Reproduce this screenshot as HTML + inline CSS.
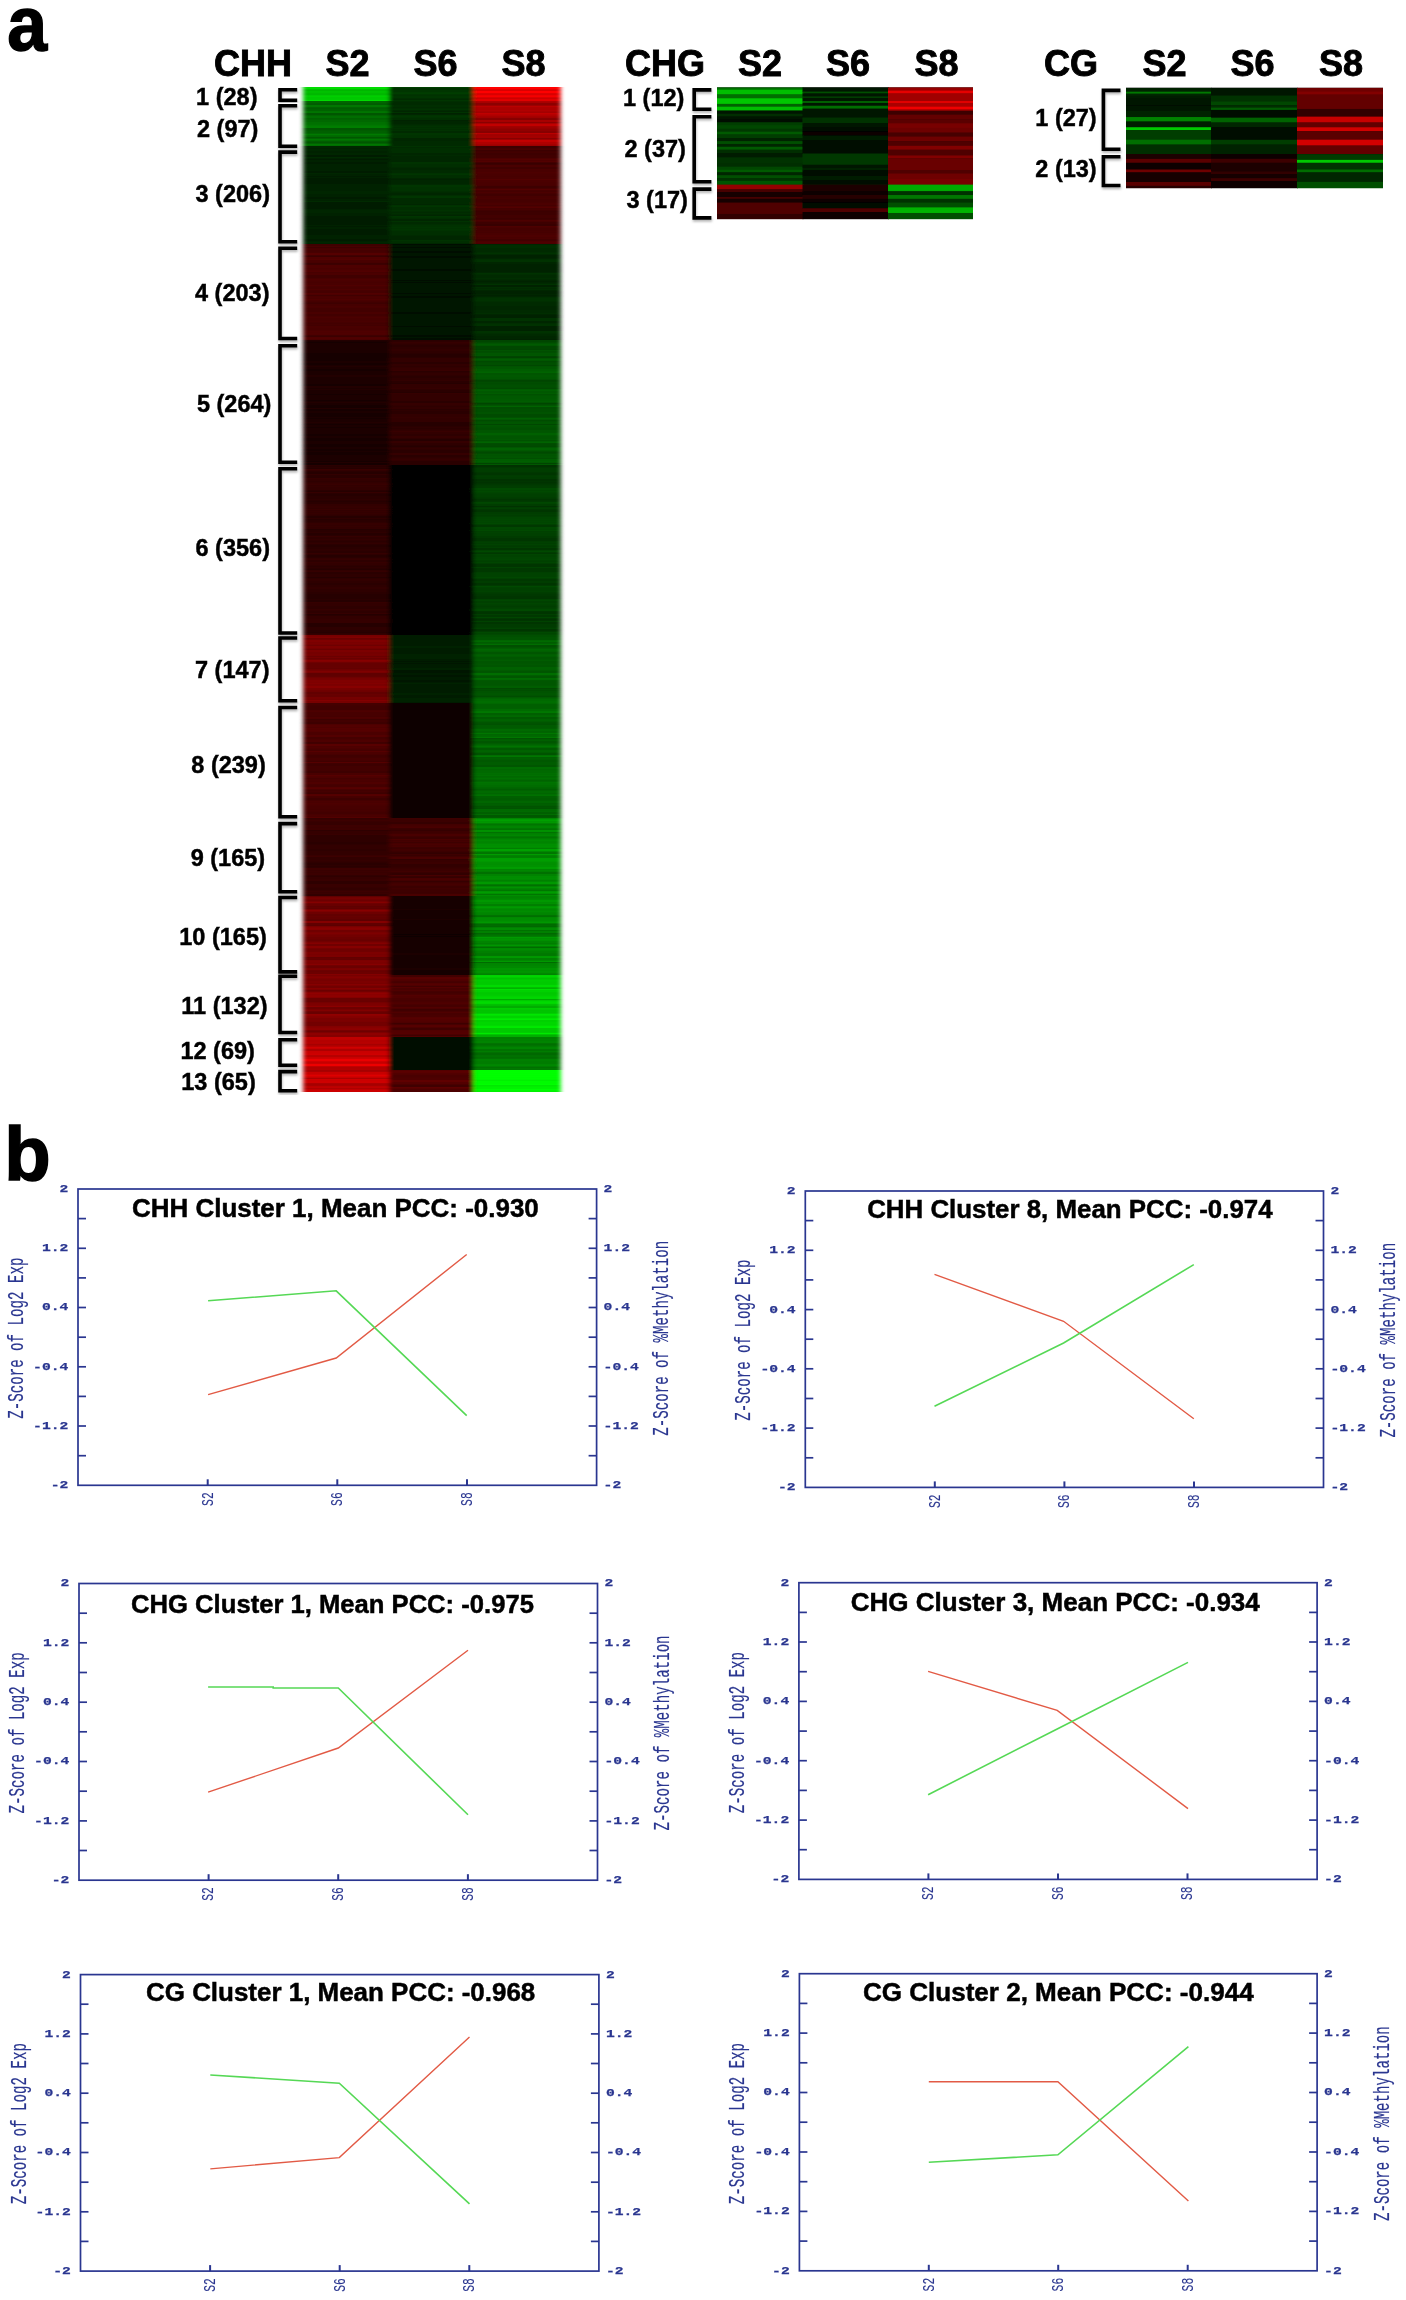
<!DOCTYPE html>
<html><head><meta charset="utf-8"><style>
html,body{margin:0;padding:0;background:#fff;}
svg{display:block;will-change:transform;}

</style></head><body>
<svg width="1406" height="2300" viewBox="0 0 1406 2300">
<defs><filter id="sh" x="-30%" y="-10%" width="160%" height="130%"><feDropShadow dx="0.5" dy="2" stdDeviation="1.3" flood-color="#000" flood-opacity="0.28"/></filter><filter id="hb2" x="-2%" y="-2%" width="104%" height="104%"><feGaussianBlur stdDeviation="0.5 0.4"/></filter><filter id="hb" x="-2%" y="-1%" width="104%" height="102%"><feGaussianBlur stdDeviation="2.0 0.45"/></filter></defs>
<rect width="1406" height="2300" fill="#fff"/>
<text transform="translate(7.3,49.6) scale(0.93,0.99)" font-family="Liberation Sans" font-weight="bold" font-size="77" stroke="#000" stroke-width="1.5">a</text>
<text x="4.2" y="1180.4" font-family="Liberation Sans" font-weight="bold" font-size="76" stroke="#000" stroke-width="1.5">b</text>
<text x="214" y="76" font-family="Liberation Sans" font-weight="bold" font-size="36" text-anchor="start" stroke="#000" stroke-width="0.9" >CHH</text>
<text x="325.5" y="76" font-family="Liberation Sans" font-weight="bold" font-size="36" text-anchor="start" stroke="#000" stroke-width="0.9" >S2</text>
<text x="413.5" y="76" font-family="Liberation Sans" font-weight="bold" font-size="36" text-anchor="start" stroke="#000" stroke-width="0.9" >S6</text>
<text x="501.5" y="76" font-family="Liberation Sans" font-weight="bold" font-size="36" text-anchor="start" stroke="#000" stroke-width="0.9" >S8</text>
<text x="625" y="76" font-family="Liberation Sans" font-weight="bold" font-size="36" text-anchor="start" stroke="#000" stroke-width="0.9" >CHG</text>
<text x="738" y="76" font-family="Liberation Sans" font-weight="bold" font-size="36" text-anchor="start" stroke="#000" stroke-width="0.9" >S2</text>
<text x="826" y="76" font-family="Liberation Sans" font-weight="bold" font-size="36" text-anchor="start" stroke="#000" stroke-width="0.9" >S6</text>
<text x="914.5" y="76" font-family="Liberation Sans" font-weight="bold" font-size="36" text-anchor="start" stroke="#000" stroke-width="0.9" >S8</text>
<text x="1044" y="76" font-family="Liberation Sans" font-weight="bold" font-size="36" text-anchor="start" stroke="#000" stroke-width="0.9" >CG</text>
<text x="1142.5" y="76" font-family="Liberation Sans" font-weight="bold" font-size="36" text-anchor="start" stroke="#000" stroke-width="0.9" >S2</text>
<text x="1230.5" y="76" font-family="Liberation Sans" font-weight="bold" font-size="36" text-anchor="start" stroke="#000" stroke-width="0.9" >S6</text>
<text x="1319" y="76" font-family="Liberation Sans" font-weight="bold" font-size="36" text-anchor="start" stroke="#000" stroke-width="0.9" >S8</text>
<g filter="url(#hb)">
<rect x="303.5" y="87" width="256.0" height="1005" fill="#000"/>
<rect x="303.5" y="87.00" width="87.00" height="14.00" fill="#00c800"/>
<rect x="303.5" y="87.00" width="87.00" height="2.46" fill="#00dd00"/>
<rect x="303.5" y="89.46" width="87.00" height="1.73" fill="#00b500"/>
<rect x="303.5" y="91.19" width="87.00" height="1.89" fill="#00c000"/>
<rect x="303.5" y="93.08" width="87.00" height="2.35" fill="#00b800"/>
<rect x="303.5" y="95.43" width="87.00" height="1.83" fill="#00cf00"/>
<rect x="303.5" y="97.26" width="87.00" height="2.56" fill="#00c800"/>
<rect x="303.5" y="99.83" width="87.00" height="1.17" fill="#00dc00"/>
<rect x="389.5" y="87.00" width="85.00" height="14.00" fill="#003700"/>
<rect x="389.5" y="87.00" width="85.00" height="1.25" fill="#003f00"/>
<rect x="389.5" y="88.25" width="85.00" height="2.32" fill="#003200"/>
<rect x="389.5" y="90.57" width="85.00" height="1.86" fill="#003600"/>
<rect x="389.5" y="92.43" width="85.00" height="2.13" fill="#003d00"/>
<rect x="389.5" y="94.56" width="85.00" height="1.18" fill="#002d00"/>
<rect x="389.5" y="95.74" width="85.00" height="2.44" fill="#003600"/>
<rect x="389.5" y="98.18" width="85.00" height="2.32" fill="#002c00"/>
<rect x="389.5" y="100.49" width="85.00" height="0.51" fill="#003c00"/>
<rect x="473.5" y="87.00" width="87.00" height="14.00" fill="#eb0000"/>
<rect x="473.5" y="87.00" width="87.00" height="2.65" fill="#ff0000"/>
<rect x="473.5" y="89.65" width="87.00" height="1.12" fill="#c40000"/>
<rect x="473.5" y="90.76" width="87.00" height="2.44" fill="#ff0000"/>
<rect x="473.5" y="93.20" width="87.00" height="2.16" fill="#d90000"/>
<rect x="473.5" y="95.36" width="87.00" height="2.05" fill="#f50000"/>
<rect x="473.5" y="97.41" width="87.00" height="2.01" fill="#cb0000"/>
<rect x="473.5" y="99.42" width="87.00" height="1.58" fill="#e10000"/>
<rect x="303.5" y="101.00" width="87.00" height="45.00" fill="#006900"/>
<rect x="303.5" y="101.00" width="87.00" height="1.99" fill="#006600"/>
<rect x="303.5" y="102.99" width="87.00" height="2.00" fill="#005d00"/>
<rect x="303.5" y="104.99" width="87.00" height="2.40" fill="#007700"/>
<rect x="303.5" y="107.40" width="87.00" height="2.13" fill="#005b00"/>
<rect x="303.5" y="109.53" width="87.00" height="1.91" fill="#006200"/>
<rect x="303.5" y="111.43" width="87.00" height="1.44" fill="#007c00"/>
<rect x="303.5" y="112.88" width="87.00" height="2.71" fill="#005600"/>
<rect x="303.5" y="115.59" width="87.00" height="2.48" fill="#006d00"/>
<rect x="303.5" y="118.07" width="87.00" height="1.67" fill="#006000"/>
<rect x="303.5" y="119.74" width="87.00" height="2.17" fill="#006700"/>
<rect x="303.5" y="121.91" width="87.00" height="2.19" fill="#007000"/>
<rect x="303.5" y="124.10" width="87.00" height="1.25" fill="#007400"/>
<rect x="303.5" y="125.34" width="87.00" height="2.69" fill="#007d00"/>
<rect x="303.5" y="128.03" width="87.00" height="2.06" fill="#005600"/>
<rect x="303.5" y="130.10" width="87.00" height="1.03" fill="#005a00"/>
<rect x="303.5" y="131.12" width="87.00" height="2.62" fill="#006100"/>
<rect x="303.5" y="133.74" width="87.00" height="1.64" fill="#007a00"/>
<rect x="303.5" y="135.38" width="87.00" height="1.55" fill="#006b00"/>
<rect x="303.5" y="136.94" width="87.00" height="1.76" fill="#005700"/>
<rect x="303.5" y="138.70" width="87.00" height="2.01" fill="#007700"/>
<rect x="303.5" y="140.71" width="87.00" height="1.29" fill="#005d00"/>
<rect x="303.5" y="142.00" width="87.00" height="1.72" fill="#005600"/>
<rect x="303.5" y="143.72" width="87.00" height="1.86" fill="#007600"/>
<rect x="303.5" y="145.59" width="87.00" height="0.41" fill="#006a00"/>
<rect x="389.5" y="101.00" width="85.00" height="45.00" fill="#002d00"/>
<rect x="389.5" y="101.00" width="85.00" height="1.79" fill="#002e00"/>
<rect x="389.5" y="102.79" width="85.00" height="2.59" fill="#002c00"/>
<rect x="389.5" y="105.38" width="85.00" height="1.88" fill="#002f00"/>
<rect x="389.5" y="107.26" width="85.00" height="1.33" fill="#002d00"/>
<rect x="389.5" y="108.60" width="85.00" height="2.09" fill="#003200"/>
<rect x="389.5" y="110.69" width="85.00" height="1.18" fill="#002900"/>
<rect x="389.5" y="111.87" width="85.00" height="1.17" fill="#003300"/>
<rect x="389.5" y="113.04" width="85.00" height="2.20" fill="#002500"/>
<rect x="389.5" y="115.24" width="85.00" height="2.69" fill="#003500"/>
<rect x="389.5" y="117.93" width="85.00" height="2.13" fill="#002f00"/>
<rect x="389.5" y="120.06" width="85.00" height="1.29" fill="#002400"/>
<rect x="389.5" y="121.35" width="85.00" height="1.92" fill="#002500"/>
<rect x="389.5" y="123.27" width="85.00" height="1.34" fill="#002800"/>
<rect x="389.5" y="124.61" width="85.00" height="1.07" fill="#002c00"/>
<rect x="389.5" y="125.68" width="85.00" height="1.77" fill="#003300"/>
<rect x="389.5" y="127.45" width="85.00" height="1.90" fill="#003000"/>
<rect x="389.5" y="129.35" width="85.00" height="1.87" fill="#003000"/>
<rect x="389.5" y="131.22" width="85.00" height="1.80" fill="#002900"/>
<rect x="389.5" y="133.02" width="85.00" height="2.72" fill="#003600"/>
<rect x="389.5" y="135.74" width="85.00" height="2.45" fill="#003100"/>
<rect x="389.5" y="138.19" width="85.00" height="1.56" fill="#002800"/>
<rect x="389.5" y="139.74" width="85.00" height="1.51" fill="#002500"/>
<rect x="389.5" y="141.25" width="85.00" height="2.32" fill="#002b00"/>
<rect x="389.5" y="143.58" width="85.00" height="2.42" fill="#002b00"/>
<rect x="473.5" y="101.00" width="87.00" height="45.00" fill="#a50000"/>
<rect x="473.5" y="101.00" width="87.00" height="1.83" fill="#af0000"/>
<rect x="473.5" y="102.83" width="87.00" height="2.15" fill="#8d0000"/>
<rect x="473.5" y="104.98" width="87.00" height="1.04" fill="#9d0000"/>
<rect x="473.5" y="106.02" width="87.00" height="1.49" fill="#b90000"/>
<rect x="473.5" y="107.50" width="87.00" height="2.19" fill="#ac0000"/>
<rect x="473.5" y="109.70" width="87.00" height="1.97" fill="#b00000"/>
<rect x="473.5" y="111.67" width="87.00" height="1.27" fill="#a10000"/>
<rect x="473.5" y="112.93" width="87.00" height="1.30" fill="#c00000"/>
<rect x="473.5" y="114.23" width="87.00" height="1.12" fill="#ba0000"/>
<rect x="473.5" y="115.35" width="87.00" height="1.15" fill="#b10000"/>
<rect x="473.5" y="116.50" width="87.00" height="1.59" fill="#9f0000"/>
<rect x="473.5" y="118.09" width="87.00" height="2.45" fill="#850000"/>
<rect x="473.5" y="120.54" width="87.00" height="1.12" fill="#c00000"/>
<rect x="473.5" y="121.66" width="87.00" height="1.89" fill="#8a0000"/>
<rect x="473.5" y="123.55" width="87.00" height="2.70" fill="#c20000"/>
<rect x="473.5" y="126.25" width="87.00" height="1.21" fill="#a00000"/>
<rect x="473.5" y="127.46" width="87.00" height="1.25" fill="#990000"/>
<rect x="473.5" y="128.71" width="87.00" height="2.08" fill="#8f0000"/>
<rect x="473.5" y="130.79" width="87.00" height="2.20" fill="#870000"/>
<rect x="473.5" y="132.99" width="87.00" height="1.31" fill="#ba0000"/>
<rect x="473.5" y="134.30" width="87.00" height="1.70" fill="#a00000"/>
<rect x="473.5" y="136.00" width="87.00" height="2.03" fill="#a30000"/>
<rect x="473.5" y="138.04" width="87.00" height="1.67" fill="#860000"/>
<rect x="473.5" y="139.71" width="87.00" height="2.25" fill="#c40000"/>
<rect x="473.5" y="141.96" width="87.00" height="2.68" fill="#b00000"/>
<rect x="473.5" y="144.64" width="87.00" height="1.36" fill="#9c0000"/>
<rect x="303.5" y="146.00" width="87.00" height="98.00" fill="#002200"/>
<rect x="303.5" y="146.00" width="87.00" height="2.56" fill="#002500"/>
<rect x="303.5" y="148.56" width="87.00" height="2.32" fill="#002800"/>
<rect x="303.5" y="150.88" width="87.00" height="1.46" fill="#002400"/>
<rect x="303.5" y="152.34" width="87.00" height="2.56" fill="#002700"/>
<rect x="303.5" y="154.90" width="87.00" height="1.99" fill="#001e00"/>
<rect x="303.5" y="156.90" width="87.00" height="1.72" fill="#002900"/>
<rect x="303.5" y="158.62" width="87.00" height="1.20" fill="#002000"/>
<rect x="303.5" y="159.81" width="87.00" height="2.64" fill="#002100"/>
<rect x="303.5" y="162.45" width="87.00" height="1.37" fill="#002000"/>
<rect x="303.5" y="163.82" width="87.00" height="2.56" fill="#002000"/>
<rect x="303.5" y="166.39" width="87.00" height="1.75" fill="#002400"/>
<rect x="303.5" y="168.13" width="87.00" height="2.39" fill="#002200"/>
<rect x="303.5" y="170.52" width="87.00" height="1.16" fill="#002300"/>
<rect x="303.5" y="171.68" width="87.00" height="1.08" fill="#001c00"/>
<rect x="303.5" y="172.76" width="87.00" height="1.34" fill="#002500"/>
<rect x="303.5" y="174.10" width="87.00" height="1.50" fill="#002500"/>
<rect x="303.5" y="175.61" width="87.00" height="1.30" fill="#001d00"/>
<rect x="303.5" y="176.90" width="87.00" height="1.06" fill="#002500"/>
<rect x="303.5" y="177.96" width="87.00" height="2.48" fill="#001e00"/>
<rect x="303.5" y="180.44" width="87.00" height="1.42" fill="#001b00"/>
<rect x="303.5" y="181.87" width="87.00" height="2.12" fill="#001f00"/>
<rect x="303.5" y="183.98" width="87.00" height="1.25" fill="#002400"/>
<rect x="303.5" y="185.24" width="87.00" height="2.04" fill="#002100"/>
<rect x="303.5" y="187.28" width="87.00" height="1.28" fill="#002400"/>
<rect x="303.5" y="188.56" width="87.00" height="1.96" fill="#002100"/>
<rect x="303.5" y="190.52" width="87.00" height="1.30" fill="#002800"/>
<rect x="303.5" y="191.82" width="87.00" height="2.49" fill="#002500"/>
<rect x="303.5" y="194.31" width="87.00" height="2.71" fill="#002300"/>
<rect x="303.5" y="197.02" width="87.00" height="1.61" fill="#001d00"/>
<rect x="303.5" y="198.63" width="87.00" height="2.05" fill="#002200"/>
<rect x="303.5" y="200.68" width="87.00" height="1.76" fill="#002900"/>
<rect x="303.5" y="202.44" width="87.00" height="2.45" fill="#001d00"/>
<rect x="303.5" y="204.89" width="87.00" height="2.52" fill="#001b00"/>
<rect x="303.5" y="207.41" width="87.00" height="2.13" fill="#001f00"/>
<rect x="303.5" y="209.54" width="87.00" height="2.26" fill="#002800"/>
<rect x="303.5" y="211.80" width="87.00" height="1.92" fill="#002600"/>
<rect x="303.5" y="213.72" width="87.00" height="1.11" fill="#002400"/>
<rect x="303.5" y="214.84" width="87.00" height="1.22" fill="#002100"/>
<rect x="303.5" y="216.05" width="87.00" height="1.59" fill="#001c00"/>
<rect x="303.5" y="217.64" width="87.00" height="2.29" fill="#001c00"/>
<rect x="303.5" y="219.93" width="87.00" height="1.46" fill="#001c00"/>
<rect x="303.5" y="221.39" width="87.00" height="2.15" fill="#001f00"/>
<rect x="303.5" y="223.54" width="87.00" height="1.10" fill="#001c00"/>
<rect x="303.5" y="224.63" width="87.00" height="1.39" fill="#002200"/>
<rect x="303.5" y="226.02" width="87.00" height="1.04" fill="#001c00"/>
<rect x="303.5" y="227.06" width="87.00" height="2.15" fill="#002200"/>
<rect x="303.5" y="229.22" width="87.00" height="1.25" fill="#001f00"/>
<rect x="303.5" y="230.47" width="87.00" height="1.23" fill="#001f00"/>
<rect x="303.5" y="231.70" width="87.00" height="1.68" fill="#001e00"/>
<rect x="303.5" y="233.38" width="87.00" height="1.36" fill="#001e00"/>
<rect x="303.5" y="234.74" width="87.00" height="1.53" fill="#002300"/>
<rect x="303.5" y="236.27" width="87.00" height="2.53" fill="#002400"/>
<rect x="303.5" y="238.80" width="87.00" height="1.78" fill="#001b00"/>
<rect x="303.5" y="240.58" width="87.00" height="1.34" fill="#002400"/>
<rect x="303.5" y="241.92" width="87.00" height="1.71" fill="#002700"/>
<rect x="303.5" y="243.63" width="87.00" height="0.37" fill="#001f00"/>
<rect x="389.5" y="146.00" width="85.00" height="98.00" fill="#002d00"/>
<rect x="389.5" y="146.00" width="85.00" height="1.30" fill="#003000"/>
<rect x="389.5" y="147.30" width="85.00" height="2.10" fill="#002d00"/>
<rect x="389.5" y="149.40" width="85.00" height="1.39" fill="#003200"/>
<rect x="389.5" y="150.79" width="85.00" height="2.39" fill="#002d00"/>
<rect x="389.5" y="153.18" width="85.00" height="1.88" fill="#002800"/>
<rect x="389.5" y="155.06" width="85.00" height="1.03" fill="#002b00"/>
<rect x="389.5" y="156.08" width="85.00" height="2.02" fill="#002500"/>
<rect x="389.5" y="158.10" width="85.00" height="2.37" fill="#002800"/>
<rect x="389.5" y="160.47" width="85.00" height="1.42" fill="#002500"/>
<rect x="389.5" y="161.88" width="85.00" height="2.72" fill="#003100"/>
<rect x="389.5" y="164.60" width="85.00" height="2.51" fill="#002f00"/>
<rect x="389.5" y="167.11" width="85.00" height="1.08" fill="#002a00"/>
<rect x="389.5" y="168.19" width="85.00" height="1.87" fill="#002600"/>
<rect x="389.5" y="170.05" width="85.00" height="2.64" fill="#002b00"/>
<rect x="389.5" y="172.69" width="85.00" height="1.28" fill="#003300"/>
<rect x="389.5" y="173.97" width="85.00" height="1.23" fill="#003500"/>
<rect x="389.5" y="175.21" width="85.00" height="1.79" fill="#002e00"/>
<rect x="389.5" y="177.00" width="85.00" height="1.60" fill="#002d00"/>
<rect x="389.5" y="178.60" width="85.00" height="1.34" fill="#002500"/>
<rect x="389.5" y="179.94" width="85.00" height="2.49" fill="#002800"/>
<rect x="389.5" y="182.43" width="85.00" height="2.35" fill="#002800"/>
<rect x="389.5" y="184.78" width="85.00" height="2.67" fill="#003400"/>
<rect x="389.5" y="187.44" width="85.00" height="2.30" fill="#003200"/>
<rect x="389.5" y="189.75" width="85.00" height="2.01" fill="#003100"/>
<rect x="389.5" y="191.75" width="85.00" height="1.23" fill="#002d00"/>
<rect x="389.5" y="192.98" width="85.00" height="2.43" fill="#002800"/>
<rect x="389.5" y="195.41" width="85.00" height="2.59" fill="#003400"/>
<rect x="389.5" y="198.00" width="85.00" height="1.72" fill="#002b00"/>
<rect x="389.5" y="199.71" width="85.00" height="1.79" fill="#002b00"/>
<rect x="389.5" y="201.50" width="85.00" height="2.71" fill="#002b00"/>
<rect x="389.5" y="204.21" width="85.00" height="1.07" fill="#002600"/>
<rect x="389.5" y="205.28" width="85.00" height="2.24" fill="#003600"/>
<rect x="389.5" y="207.52" width="85.00" height="1.86" fill="#002d00"/>
<rect x="389.5" y="209.38" width="85.00" height="1.96" fill="#003100"/>
<rect x="389.5" y="211.34" width="85.00" height="1.40" fill="#002f00"/>
<rect x="389.5" y="212.73" width="85.00" height="1.97" fill="#002f00"/>
<rect x="389.5" y="214.70" width="85.00" height="1.33" fill="#002700"/>
<rect x="389.5" y="216.03" width="85.00" height="1.61" fill="#003500"/>
<rect x="389.5" y="217.64" width="85.00" height="1.61" fill="#002f00"/>
<rect x="389.5" y="219.25" width="85.00" height="1.54" fill="#002600"/>
<rect x="389.5" y="220.79" width="85.00" height="1.13" fill="#003300"/>
<rect x="389.5" y="221.92" width="85.00" height="2.34" fill="#002b00"/>
<rect x="389.5" y="224.26" width="85.00" height="2.18" fill="#003000"/>
<rect x="389.5" y="226.44" width="85.00" height="2.55" fill="#003500"/>
<rect x="389.5" y="228.99" width="85.00" height="1.71" fill="#003600"/>
<rect x="389.5" y="230.70" width="85.00" height="2.65" fill="#002f00"/>
<rect x="389.5" y="233.36" width="85.00" height="2.52" fill="#002d00"/>
<rect x="389.5" y="235.88" width="85.00" height="1.66" fill="#002800"/>
<rect x="389.5" y="237.54" width="85.00" height="2.51" fill="#002700"/>
<rect x="389.5" y="240.05" width="85.00" height="1.14" fill="#003200"/>
<rect x="389.5" y="241.18" width="85.00" height="2.34" fill="#002d00"/>
<rect x="389.5" y="243.52" width="85.00" height="0.48" fill="#002500"/>
<rect x="473.5" y="146.00" width="87.00" height="98.00" fill="#460000"/>
<rect x="473.5" y="146.00" width="87.00" height="2.65" fill="#3c0000"/>
<rect x="473.5" y="148.65" width="87.00" height="1.06" fill="#540000"/>
<rect x="473.5" y="149.71" width="87.00" height="1.33" fill="#3b0000"/>
<rect x="473.5" y="151.04" width="87.00" height="2.13" fill="#420000"/>
<rect x="473.5" y="153.17" width="87.00" height="2.53" fill="#3e0000"/>
<rect x="473.5" y="155.70" width="87.00" height="2.65" fill="#410000"/>
<rect x="473.5" y="158.35" width="87.00" height="2.04" fill="#520000"/>
<rect x="473.5" y="160.40" width="87.00" height="2.18" fill="#520000"/>
<rect x="473.5" y="162.58" width="87.00" height="2.22" fill="#390000"/>
<rect x="473.5" y="164.80" width="87.00" height="2.52" fill="#490000"/>
<rect x="473.5" y="167.32" width="87.00" height="1.55" fill="#3d0000"/>
<rect x="473.5" y="168.87" width="87.00" height="2.46" fill="#480000"/>
<rect x="473.5" y="171.33" width="87.00" height="2.61" fill="#4e0000"/>
<rect x="473.5" y="173.95" width="87.00" height="2.65" fill="#480000"/>
<rect x="473.5" y="176.60" width="87.00" height="2.21" fill="#490000"/>
<rect x="473.5" y="178.81" width="87.00" height="1.46" fill="#530000"/>
<rect x="473.5" y="180.27" width="87.00" height="1.55" fill="#4e0000"/>
<rect x="473.5" y="181.82" width="87.00" height="2.64" fill="#4a0000"/>
<rect x="473.5" y="184.46" width="87.00" height="1.26" fill="#4f0000"/>
<rect x="473.5" y="185.73" width="87.00" height="2.15" fill="#3d0000"/>
<rect x="473.5" y="187.88" width="87.00" height="1.10" fill="#470000"/>
<rect x="473.5" y="188.98" width="87.00" height="1.07" fill="#520000"/>
<rect x="473.5" y="190.06" width="87.00" height="1.88" fill="#460000"/>
<rect x="473.5" y="191.94" width="87.00" height="1.72" fill="#4b0000"/>
<rect x="473.5" y="193.66" width="87.00" height="2.58" fill="#410000"/>
<rect x="473.5" y="196.23" width="87.00" height="1.66" fill="#480000"/>
<rect x="473.5" y="197.89" width="87.00" height="1.53" fill="#490000"/>
<rect x="473.5" y="199.41" width="87.00" height="1.94" fill="#440000"/>
<rect x="473.5" y="201.36" width="87.00" height="2.16" fill="#470000"/>
<rect x="473.5" y="203.52" width="87.00" height="1.17" fill="#540000"/>
<rect x="473.5" y="204.69" width="87.00" height="1.62" fill="#440000"/>
<rect x="473.5" y="206.32" width="87.00" height="1.70" fill="#520000"/>
<rect x="473.5" y="208.02" width="87.00" height="2.64" fill="#460000"/>
<rect x="473.5" y="210.66" width="87.00" height="1.70" fill="#3b0000"/>
<rect x="473.5" y="212.36" width="87.00" height="2.54" fill="#3d0000"/>
<rect x="473.5" y="214.90" width="87.00" height="1.95" fill="#420000"/>
<rect x="473.5" y="216.85" width="87.00" height="1.58" fill="#420000"/>
<rect x="473.5" y="218.43" width="87.00" height="1.35" fill="#390000"/>
<rect x="473.5" y="219.78" width="87.00" height="1.93" fill="#4e0000"/>
<rect x="473.5" y="221.71" width="87.00" height="2.12" fill="#3e0000"/>
<rect x="473.5" y="223.83" width="87.00" height="2.20" fill="#390000"/>
<rect x="473.5" y="226.03" width="87.00" height="1.72" fill="#4f0000"/>
<rect x="473.5" y="227.74" width="87.00" height="2.59" fill="#450000"/>
<rect x="473.5" y="230.33" width="87.00" height="2.46" fill="#460000"/>
<rect x="473.5" y="232.79" width="87.00" height="1.91" fill="#480000"/>
<rect x="473.5" y="234.70" width="87.00" height="2.71" fill="#4d0000"/>
<rect x="473.5" y="237.40" width="87.00" height="1.82" fill="#4c0000"/>
<rect x="473.5" y="239.23" width="87.00" height="2.11" fill="#420000"/>
<rect x="473.5" y="241.34" width="87.00" height="2.35" fill="#4f0000"/>
<rect x="473.5" y="243.70" width="87.00" height="0.30" fill="#520000"/>
<rect x="303.5" y="244.00" width="87.00" height="96.00" fill="#460000"/>
<rect x="303.5" y="244.00" width="87.00" height="1.94" fill="#400000"/>
<rect x="303.5" y="245.94" width="87.00" height="1.07" fill="#4a0000"/>
<rect x="303.5" y="247.01" width="87.00" height="1.38" fill="#3f0000"/>
<rect x="303.5" y="248.38" width="87.00" height="1.70" fill="#4a0000"/>
<rect x="303.5" y="250.08" width="87.00" height="2.70" fill="#450000"/>
<rect x="303.5" y="252.78" width="87.00" height="2.71" fill="#540000"/>
<rect x="303.5" y="255.49" width="87.00" height="1.43" fill="#3a0000"/>
<rect x="303.5" y="256.92" width="87.00" height="1.29" fill="#500000"/>
<rect x="303.5" y="258.21" width="87.00" height="2.04" fill="#520000"/>
<rect x="303.5" y="260.25" width="87.00" height="2.67" fill="#4a0000"/>
<rect x="303.5" y="262.93" width="87.00" height="1.93" fill="#3a0000"/>
<rect x="303.5" y="264.86" width="87.00" height="1.06" fill="#4f0000"/>
<rect x="303.5" y="265.92" width="87.00" height="2.16" fill="#4d0000"/>
<rect x="303.5" y="268.08" width="87.00" height="1.98" fill="#4b0000"/>
<rect x="303.5" y="270.06" width="87.00" height="2.11" fill="#510000"/>
<rect x="303.5" y="272.17" width="87.00" height="1.21" fill="#460000"/>
<rect x="303.5" y="273.38" width="87.00" height="1.55" fill="#4f0000"/>
<rect x="303.5" y="274.92" width="87.00" height="2.51" fill="#3f0000"/>
<rect x="303.5" y="277.43" width="87.00" height="1.16" fill="#3f0000"/>
<rect x="303.5" y="278.59" width="87.00" height="1.55" fill="#4e0000"/>
<rect x="303.5" y="280.14" width="87.00" height="1.72" fill="#4d0000"/>
<rect x="303.5" y="281.86" width="87.00" height="1.53" fill="#470000"/>
<rect x="303.5" y="283.39" width="87.00" height="1.34" fill="#4a0000"/>
<rect x="303.5" y="284.73" width="87.00" height="1.89" fill="#500000"/>
<rect x="303.5" y="286.62" width="87.00" height="2.63" fill="#470000"/>
<rect x="303.5" y="289.25" width="87.00" height="1.14" fill="#520000"/>
<rect x="303.5" y="290.39" width="87.00" height="2.63" fill="#450000"/>
<rect x="303.5" y="293.02" width="87.00" height="1.85" fill="#520000"/>
<rect x="303.5" y="294.86" width="87.00" height="1.45" fill="#3f0000"/>
<rect x="303.5" y="296.31" width="87.00" height="2.20" fill="#4b0000"/>
<rect x="303.5" y="298.51" width="87.00" height="2.19" fill="#4f0000"/>
<rect x="303.5" y="300.70" width="87.00" height="1.89" fill="#440000"/>
<rect x="303.5" y="302.59" width="87.00" height="1.40" fill="#3e0000"/>
<rect x="303.5" y="304.00" width="87.00" height="1.65" fill="#440000"/>
<rect x="303.5" y="305.64" width="87.00" height="2.28" fill="#490000"/>
<rect x="303.5" y="307.92" width="87.00" height="1.89" fill="#430000"/>
<rect x="303.5" y="309.81" width="87.00" height="2.08" fill="#430000"/>
<rect x="303.5" y="311.89" width="87.00" height="2.38" fill="#4a0000"/>
<rect x="303.5" y="314.27" width="87.00" height="2.20" fill="#420000"/>
<rect x="303.5" y="316.47" width="87.00" height="1.90" fill="#4c0000"/>
<rect x="303.5" y="318.37" width="87.00" height="2.65" fill="#470000"/>
<rect x="303.5" y="321.02" width="87.00" height="1.57" fill="#4b0000"/>
<rect x="303.5" y="322.58" width="87.00" height="1.22" fill="#410000"/>
<rect x="303.5" y="323.80" width="87.00" height="1.08" fill="#470000"/>
<rect x="303.5" y="324.88" width="87.00" height="1.45" fill="#430000"/>
<rect x="303.5" y="326.33" width="87.00" height="2.36" fill="#4a0000"/>
<rect x="303.5" y="328.69" width="87.00" height="1.08" fill="#440000"/>
<rect x="303.5" y="329.77" width="87.00" height="1.03" fill="#4f0000"/>
<rect x="303.5" y="330.80" width="87.00" height="1.86" fill="#500000"/>
<rect x="303.5" y="332.67" width="87.00" height="1.47" fill="#4f0000"/>
<rect x="303.5" y="334.14" width="87.00" height="1.26" fill="#500000"/>
<rect x="303.5" y="335.39" width="87.00" height="1.68" fill="#3a0000"/>
<rect x="303.5" y="337.08" width="87.00" height="2.58" fill="#4f0000"/>
<rect x="303.5" y="339.65" width="87.00" height="0.35" fill="#480000"/>
<rect x="389.5" y="244.00" width="85.00" height="96.00" fill="#001400"/>
<rect x="389.5" y="244.00" width="85.00" height="1.04" fill="#001100"/>
<rect x="389.5" y="245.04" width="85.00" height="1.69" fill="#001500"/>
<rect x="389.5" y="246.73" width="85.00" height="1.26" fill="#001100"/>
<rect x="389.5" y="247.98" width="85.00" height="1.41" fill="#001600"/>
<rect x="389.5" y="249.40" width="85.00" height="1.27" fill="#001600"/>
<rect x="389.5" y="250.67" width="85.00" height="2.15" fill="#001100"/>
<rect x="389.5" y="252.81" width="85.00" height="1.93" fill="#001400"/>
<rect x="389.5" y="254.75" width="85.00" height="1.72" fill="#001800"/>
<rect x="389.5" y="256.47" width="85.00" height="1.18" fill="#001000"/>
<rect x="389.5" y="257.65" width="85.00" height="2.62" fill="#001300"/>
<rect x="389.5" y="260.26" width="85.00" height="1.36" fill="#001300"/>
<rect x="389.5" y="261.62" width="85.00" height="1.64" fill="#001800"/>
<rect x="389.5" y="263.26" width="85.00" height="1.38" fill="#001200"/>
<rect x="389.5" y="264.64" width="85.00" height="2.01" fill="#001400"/>
<rect x="389.5" y="266.65" width="85.00" height="2.64" fill="#001700"/>
<rect x="389.5" y="269.29" width="85.00" height="1.62" fill="#001200"/>
<rect x="389.5" y="270.92" width="85.00" height="2.44" fill="#001800"/>
<rect x="389.5" y="273.36" width="85.00" height="1.07" fill="#001600"/>
<rect x="389.5" y="274.43" width="85.00" height="2.50" fill="#001500"/>
<rect x="389.5" y="276.93" width="85.00" height="1.39" fill="#001600"/>
<rect x="389.5" y="278.32" width="85.00" height="2.26" fill="#001200"/>
<rect x="389.5" y="280.58" width="85.00" height="2.11" fill="#001200"/>
<rect x="389.5" y="282.69" width="85.00" height="1.09" fill="#001300"/>
<rect x="389.5" y="283.78" width="85.00" height="1.59" fill="#001300"/>
<rect x="389.5" y="285.37" width="85.00" height="2.12" fill="#001700"/>
<rect x="389.5" y="287.49" width="85.00" height="2.65" fill="#001800"/>
<rect x="389.5" y="290.14" width="85.00" height="2.71" fill="#001600"/>
<rect x="389.5" y="292.85" width="85.00" height="1.54" fill="#001100"/>
<rect x="389.5" y="294.39" width="85.00" height="2.08" fill="#001400"/>
<rect x="389.5" y="296.47" width="85.00" height="2.17" fill="#001100"/>
<rect x="389.5" y="298.64" width="85.00" height="1.35" fill="#001700"/>
<rect x="389.5" y="299.99" width="85.00" height="2.04" fill="#001600"/>
<rect x="389.5" y="302.03" width="85.00" height="1.18" fill="#001300"/>
<rect x="389.5" y="303.21" width="85.00" height="2.57" fill="#001500"/>
<rect x="389.5" y="305.78" width="85.00" height="2.71" fill="#001200"/>
<rect x="389.5" y="308.48" width="85.00" height="1.79" fill="#001600"/>
<rect x="389.5" y="310.28" width="85.00" height="1.78" fill="#001600"/>
<rect x="389.5" y="312.05" width="85.00" height="1.97" fill="#001100"/>
<rect x="389.5" y="314.03" width="85.00" height="1.19" fill="#001800"/>
<rect x="389.5" y="315.22" width="85.00" height="1.22" fill="#001200"/>
<rect x="389.5" y="316.44" width="85.00" height="1.59" fill="#001600"/>
<rect x="389.5" y="318.03" width="85.00" height="2.47" fill="#001400"/>
<rect x="389.5" y="320.50" width="85.00" height="1.87" fill="#001600"/>
<rect x="389.5" y="322.37" width="85.00" height="1.49" fill="#001300"/>
<rect x="389.5" y="323.86" width="85.00" height="2.06" fill="#001500"/>
<rect x="389.5" y="325.92" width="85.00" height="1.08" fill="#001100"/>
<rect x="389.5" y="327.01" width="85.00" height="1.25" fill="#001600"/>
<rect x="389.5" y="328.26" width="85.00" height="2.20" fill="#001800"/>
<rect x="389.5" y="330.46" width="85.00" height="2.32" fill="#001200"/>
<rect x="389.5" y="332.78" width="85.00" height="2.32" fill="#001800"/>
<rect x="389.5" y="335.11" width="85.00" height="1.61" fill="#001000"/>
<rect x="389.5" y="336.72" width="85.00" height="1.66" fill="#001200"/>
<rect x="389.5" y="338.38" width="85.00" height="1.32" fill="#001000"/>
<rect x="389.5" y="339.70" width="85.00" height="0.30" fill="#001700"/>
<rect x="473.5" y="244.00" width="87.00" height="96.00" fill="#002a00"/>
<rect x="473.5" y="244.00" width="87.00" height="1.15" fill="#002500"/>
<rect x="473.5" y="245.15" width="87.00" height="1.54" fill="#003100"/>
<rect x="473.5" y="246.69" width="87.00" height="1.86" fill="#002e00"/>
<rect x="473.5" y="248.55" width="87.00" height="1.19" fill="#002a00"/>
<rect x="473.5" y="249.74" width="87.00" height="2.45" fill="#002a00"/>
<rect x="473.5" y="252.19" width="87.00" height="2.63" fill="#003000"/>
<rect x="473.5" y="254.82" width="87.00" height="1.65" fill="#002200"/>
<rect x="473.5" y="256.47" width="87.00" height="2.30" fill="#002400"/>
<rect x="473.5" y="258.77" width="87.00" height="1.04" fill="#002e00"/>
<rect x="473.5" y="259.81" width="87.00" height="2.45" fill="#003000"/>
<rect x="473.5" y="262.26" width="87.00" height="2.64" fill="#002500"/>
<rect x="473.5" y="264.90" width="87.00" height="1.16" fill="#002400"/>
<rect x="473.5" y="266.06" width="87.00" height="2.68" fill="#002300"/>
<rect x="473.5" y="268.75" width="87.00" height="1.29" fill="#002200"/>
<rect x="473.5" y="270.04" width="87.00" height="1.10" fill="#002200"/>
<rect x="473.5" y="271.14" width="87.00" height="1.62" fill="#002400"/>
<rect x="473.5" y="272.76" width="87.00" height="1.55" fill="#003100"/>
<rect x="473.5" y="274.31" width="87.00" height="1.30" fill="#002f00"/>
<rect x="473.5" y="275.61" width="87.00" height="2.28" fill="#002b00"/>
<rect x="473.5" y="277.89" width="87.00" height="2.00" fill="#002f00"/>
<rect x="473.5" y="279.89" width="87.00" height="2.02" fill="#002500"/>
<rect x="473.5" y="281.90" width="87.00" height="1.58" fill="#002600"/>
<rect x="473.5" y="283.48" width="87.00" height="1.70" fill="#003200"/>
<rect x="473.5" y="285.18" width="87.00" height="1.75" fill="#002300"/>
<rect x="473.5" y="286.93" width="87.00" height="1.83" fill="#002f00"/>
<rect x="473.5" y="288.76" width="87.00" height="1.78" fill="#002d00"/>
<rect x="473.5" y="290.54" width="87.00" height="1.17" fill="#002300"/>
<rect x="473.5" y="291.71" width="87.00" height="2.14" fill="#002200"/>
<rect x="473.5" y="293.86" width="87.00" height="1.53" fill="#002800"/>
<rect x="473.5" y="295.39" width="87.00" height="1.35" fill="#002200"/>
<rect x="473.5" y="296.74" width="87.00" height="1.03" fill="#003200"/>
<rect x="473.5" y="297.77" width="87.00" height="2.19" fill="#003200"/>
<rect x="473.5" y="299.96" width="87.00" height="1.86" fill="#003200"/>
<rect x="473.5" y="301.82" width="87.00" height="2.49" fill="#002c00"/>
<rect x="473.5" y="304.30" width="87.00" height="1.91" fill="#002a00"/>
<rect x="473.5" y="306.22" width="87.00" height="1.40" fill="#002800"/>
<rect x="473.5" y="307.62" width="87.00" height="2.25" fill="#002500"/>
<rect x="473.5" y="309.87" width="87.00" height="2.46" fill="#002a00"/>
<rect x="473.5" y="312.33" width="87.00" height="2.05" fill="#002f00"/>
<rect x="473.5" y="314.38" width="87.00" height="2.12" fill="#002400"/>
<rect x="473.5" y="316.50" width="87.00" height="1.44" fill="#002200"/>
<rect x="473.5" y="317.94" width="87.00" height="1.07" fill="#003200"/>
<rect x="473.5" y="319.01" width="87.00" height="2.03" fill="#003200"/>
<rect x="473.5" y="321.04" width="87.00" height="2.35" fill="#002700"/>
<rect x="473.5" y="323.38" width="87.00" height="2.66" fill="#003100"/>
<rect x="473.5" y="326.05" width="87.00" height="1.80" fill="#002300"/>
<rect x="473.5" y="327.84" width="87.00" height="1.56" fill="#002400"/>
<rect x="473.5" y="329.40" width="87.00" height="1.64" fill="#002300"/>
<rect x="473.5" y="331.05" width="87.00" height="2.23" fill="#003200"/>
<rect x="473.5" y="333.28" width="87.00" height="1.38" fill="#002f00"/>
<rect x="473.5" y="334.66" width="87.00" height="2.01" fill="#002a00"/>
<rect x="473.5" y="336.67" width="87.00" height="2.56" fill="#002800"/>
<rect x="473.5" y="339.23" width="87.00" height="0.77" fill="#002200"/>
<rect x="303.5" y="340.00" width="87.00" height="125.00" fill="#1c0000"/>
<rect x="303.5" y="340.00" width="87.00" height="1.80" fill="#200000"/>
<rect x="303.5" y="341.80" width="87.00" height="1.07" fill="#1a0000"/>
<rect x="303.5" y="342.87" width="87.00" height="2.66" fill="#1e0000"/>
<rect x="303.5" y="345.53" width="87.00" height="1.24" fill="#1a0000"/>
<rect x="303.5" y="346.77" width="87.00" height="2.52" fill="#1b0000"/>
<rect x="303.5" y="349.28" width="87.00" height="1.07" fill="#200000"/>
<rect x="303.5" y="350.35" width="87.00" height="1.24" fill="#1e0000"/>
<rect x="303.5" y="351.59" width="87.00" height="2.07" fill="#1c0000"/>
<rect x="303.5" y="353.67" width="87.00" height="2.66" fill="#180000"/>
<rect x="303.5" y="356.32" width="87.00" height="2.05" fill="#180000"/>
<rect x="303.5" y="358.37" width="87.00" height="2.66" fill="#180000"/>
<rect x="303.5" y="361.03" width="87.00" height="1.89" fill="#200000"/>
<rect x="303.5" y="362.92" width="87.00" height="2.52" fill="#170000"/>
<rect x="303.5" y="365.44" width="87.00" height="2.51" fill="#200000"/>
<rect x="303.5" y="367.96" width="87.00" height="1.56" fill="#1f0000"/>
<rect x="303.5" y="369.51" width="87.00" height="1.41" fill="#180000"/>
<rect x="303.5" y="370.92" width="87.00" height="1.30" fill="#1a0000"/>
<rect x="303.5" y="372.21" width="87.00" height="2.42" fill="#1c0000"/>
<rect x="303.5" y="374.64" width="87.00" height="2.70" fill="#200000"/>
<rect x="303.5" y="377.34" width="87.00" height="1.38" fill="#1b0000"/>
<rect x="303.5" y="378.72" width="87.00" height="1.13" fill="#1d0000"/>
<rect x="303.5" y="379.85" width="87.00" height="2.06" fill="#1d0000"/>
<rect x="303.5" y="381.90" width="87.00" height="1.17" fill="#1d0000"/>
<rect x="303.5" y="383.07" width="87.00" height="1.21" fill="#200000"/>
<rect x="303.5" y="384.29" width="87.00" height="1.80" fill="#180000"/>
<rect x="303.5" y="386.09" width="87.00" height="2.68" fill="#210000"/>
<rect x="303.5" y="388.77" width="87.00" height="1.58" fill="#210000"/>
<rect x="303.5" y="390.36" width="87.00" height="1.50" fill="#1c0000"/>
<rect x="303.5" y="391.86" width="87.00" height="1.99" fill="#1f0000"/>
<rect x="303.5" y="393.86" width="87.00" height="1.14" fill="#170000"/>
<rect x="303.5" y="394.99" width="87.00" height="1.27" fill="#1b0000"/>
<rect x="303.5" y="396.27" width="87.00" height="2.37" fill="#1f0000"/>
<rect x="303.5" y="398.64" width="87.00" height="1.20" fill="#1f0000"/>
<rect x="303.5" y="399.84" width="87.00" height="1.34" fill="#170000"/>
<rect x="303.5" y="401.19" width="87.00" height="1.83" fill="#210000"/>
<rect x="303.5" y="403.02" width="87.00" height="2.56" fill="#1b0000"/>
<rect x="303.5" y="405.58" width="87.00" height="2.38" fill="#190000"/>
<rect x="303.5" y="407.96" width="87.00" height="1.29" fill="#210000"/>
<rect x="303.5" y="409.25" width="87.00" height="2.16" fill="#180000"/>
<rect x="303.5" y="411.41" width="87.00" height="1.59" fill="#1f0000"/>
<rect x="303.5" y="413.00" width="87.00" height="1.12" fill="#180000"/>
<rect x="303.5" y="414.12" width="87.00" height="2.39" fill="#190000"/>
<rect x="303.5" y="416.51" width="87.00" height="1.73" fill="#1b0000"/>
<rect x="303.5" y="418.24" width="87.00" height="1.83" fill="#1a0000"/>
<rect x="303.5" y="420.07" width="87.00" height="1.44" fill="#1f0000"/>
<rect x="303.5" y="421.51" width="87.00" height="2.31" fill="#210000"/>
<rect x="303.5" y="423.82" width="87.00" height="1.09" fill="#180000"/>
<rect x="303.5" y="424.91" width="87.00" height="2.47" fill="#1a0000"/>
<rect x="303.5" y="427.38" width="87.00" height="2.37" fill="#1a0000"/>
<rect x="303.5" y="429.75" width="87.00" height="1.69" fill="#1e0000"/>
<rect x="303.5" y="431.44" width="87.00" height="1.74" fill="#1c0000"/>
<rect x="303.5" y="433.19" width="87.00" height="1.08" fill="#200000"/>
<rect x="303.5" y="434.27" width="87.00" height="2.07" fill="#190000"/>
<rect x="303.5" y="436.34" width="87.00" height="1.83" fill="#1e0000"/>
<rect x="303.5" y="438.17" width="87.00" height="2.61" fill="#170000"/>
<rect x="303.5" y="440.77" width="87.00" height="2.59" fill="#1d0000"/>
<rect x="303.5" y="443.37" width="87.00" height="1.09" fill="#1a0000"/>
<rect x="303.5" y="444.46" width="87.00" height="2.25" fill="#180000"/>
<rect x="303.5" y="446.71" width="87.00" height="2.02" fill="#1d0000"/>
<rect x="303.5" y="448.73" width="87.00" height="2.00" fill="#170000"/>
<rect x="303.5" y="450.73" width="87.00" height="1.05" fill="#210000"/>
<rect x="303.5" y="451.78" width="87.00" height="1.30" fill="#180000"/>
<rect x="303.5" y="453.08" width="87.00" height="1.99" fill="#170000"/>
<rect x="303.5" y="455.07" width="87.00" height="2.26" fill="#1f0000"/>
<rect x="303.5" y="457.33" width="87.00" height="1.59" fill="#1d0000"/>
<rect x="303.5" y="458.92" width="87.00" height="1.84" fill="#1e0000"/>
<rect x="303.5" y="460.76" width="87.00" height="1.32" fill="#170000"/>
<rect x="303.5" y="462.08" width="87.00" height="1.18" fill="#210000"/>
<rect x="303.5" y="463.26" width="87.00" height="1.74" fill="#190000"/>
<rect x="389.5" y="340.00" width="85.00" height="125.00" fill="#2e0000"/>
<rect x="389.5" y="340.00" width="85.00" height="1.67" fill="#290000"/>
<rect x="389.5" y="341.67" width="85.00" height="1.30" fill="#360000"/>
<rect x="389.5" y="342.97" width="85.00" height="2.00" fill="#310000"/>
<rect x="389.5" y="344.97" width="85.00" height="1.96" fill="#2c0000"/>
<rect x="389.5" y="346.93" width="85.00" height="2.26" fill="#2f0000"/>
<rect x="389.5" y="349.20" width="85.00" height="2.35" fill="#310000"/>
<rect x="389.5" y="351.54" width="85.00" height="2.45" fill="#2d0000"/>
<rect x="389.5" y="353.99" width="85.00" height="1.28" fill="#280000"/>
<rect x="389.5" y="355.27" width="85.00" height="2.25" fill="#280000"/>
<rect x="389.5" y="357.52" width="85.00" height="2.13" fill="#300000"/>
<rect x="389.5" y="359.66" width="85.00" height="1.12" fill="#330000"/>
<rect x="389.5" y="360.78" width="85.00" height="1.08" fill="#350000"/>
<rect x="389.5" y="361.85" width="85.00" height="2.45" fill="#290000"/>
<rect x="389.5" y="364.30" width="85.00" height="2.25" fill="#320000"/>
<rect x="389.5" y="366.56" width="85.00" height="1.23" fill="#310000"/>
<rect x="389.5" y="367.79" width="85.00" height="1.23" fill="#360000"/>
<rect x="389.5" y="369.02" width="85.00" height="2.19" fill="#370000"/>
<rect x="389.5" y="371.21" width="85.00" height="1.11" fill="#2b0000"/>
<rect x="389.5" y="372.32" width="85.00" height="2.07" fill="#300000"/>
<rect x="389.5" y="374.40" width="85.00" height="1.33" fill="#350000"/>
<rect x="389.5" y="375.73" width="85.00" height="2.46" fill="#2a0000"/>
<rect x="389.5" y="378.19" width="85.00" height="1.27" fill="#310000"/>
<rect x="389.5" y="379.45" width="85.00" height="1.71" fill="#310000"/>
<rect x="389.5" y="381.17" width="85.00" height="1.86" fill="#2c0000"/>
<rect x="389.5" y="383.03" width="85.00" height="1.06" fill="#270000"/>
<rect x="389.5" y="384.08" width="85.00" height="1.80" fill="#320000"/>
<rect x="389.5" y="385.88" width="85.00" height="1.74" fill="#320000"/>
<rect x="389.5" y="387.62" width="85.00" height="1.94" fill="#350000"/>
<rect x="389.5" y="389.56" width="85.00" height="2.13" fill="#2b0000"/>
<rect x="389.5" y="391.70" width="85.00" height="1.26" fill="#260000"/>
<rect x="389.5" y="392.95" width="85.00" height="1.09" fill="#350000"/>
<rect x="389.5" y="394.04" width="85.00" height="2.51" fill="#330000"/>
<rect x="389.5" y="396.55" width="85.00" height="1.21" fill="#310000"/>
<rect x="389.5" y="397.75" width="85.00" height="1.24" fill="#350000"/>
<rect x="389.5" y="398.99" width="85.00" height="2.13" fill="#330000"/>
<rect x="389.5" y="401.12" width="85.00" height="2.06" fill="#2c0000"/>
<rect x="389.5" y="403.18" width="85.00" height="2.46" fill="#360000"/>
<rect x="389.5" y="405.64" width="85.00" height="1.43" fill="#2d0000"/>
<rect x="389.5" y="407.07" width="85.00" height="2.27" fill="#310000"/>
<rect x="389.5" y="409.34" width="85.00" height="1.72" fill="#2d0000"/>
<rect x="389.5" y="411.06" width="85.00" height="2.66" fill="#2a0000"/>
<rect x="389.5" y="413.72" width="85.00" height="1.38" fill="#310000"/>
<rect x="389.5" y="415.10" width="85.00" height="1.49" fill="#350000"/>
<rect x="389.5" y="416.59" width="85.00" height="1.57" fill="#360000"/>
<rect x="389.5" y="418.17" width="85.00" height="1.67" fill="#350000"/>
<rect x="389.5" y="419.83" width="85.00" height="2.30" fill="#320000"/>
<rect x="389.5" y="422.13" width="85.00" height="1.38" fill="#280000"/>
<rect x="389.5" y="423.51" width="85.00" height="1.07" fill="#280000"/>
<rect x="389.5" y="424.59" width="85.00" height="2.15" fill="#260000"/>
<rect x="389.5" y="426.74" width="85.00" height="1.42" fill="#2f0000"/>
<rect x="389.5" y="428.16" width="85.00" height="1.28" fill="#2b0000"/>
<rect x="389.5" y="429.45" width="85.00" height="1.41" fill="#310000"/>
<rect x="389.5" y="430.85" width="85.00" height="1.22" fill="#370000"/>
<rect x="389.5" y="432.08" width="85.00" height="2.04" fill="#320000"/>
<rect x="389.5" y="434.11" width="85.00" height="1.96" fill="#2e0000"/>
<rect x="389.5" y="436.07" width="85.00" height="2.67" fill="#350000"/>
<rect x="389.5" y="438.74" width="85.00" height="2.42" fill="#250000"/>
<rect x="389.5" y="441.16" width="85.00" height="2.02" fill="#360000"/>
<rect x="389.5" y="443.18" width="85.00" height="2.11" fill="#2e0000"/>
<rect x="389.5" y="445.29" width="85.00" height="2.12" fill="#280000"/>
<rect x="389.5" y="447.41" width="85.00" height="2.26" fill="#330000"/>
<rect x="389.5" y="449.67" width="85.00" height="1.14" fill="#2e0000"/>
<rect x="389.5" y="450.81" width="85.00" height="2.03" fill="#2b0000"/>
<rect x="389.5" y="452.84" width="85.00" height="2.18" fill="#360000"/>
<rect x="389.5" y="455.02" width="85.00" height="2.56" fill="#2a0000"/>
<rect x="389.5" y="457.58" width="85.00" height="1.28" fill="#350000"/>
<rect x="389.5" y="458.86" width="85.00" height="2.06" fill="#340000"/>
<rect x="389.5" y="460.92" width="85.00" height="2.50" fill="#2a0000"/>
<rect x="389.5" y="463.42" width="85.00" height="1.58" fill="#2a0000"/>
<rect x="473.5" y="340.00" width="87.00" height="125.00" fill="#005400"/>
<rect x="473.5" y="340.00" width="87.00" height="2.11" fill="#004400"/>
<rect x="473.5" y="342.11" width="87.00" height="1.49" fill="#004b00"/>
<rect x="473.5" y="343.59" width="87.00" height="2.27" fill="#005a00"/>
<rect x="473.5" y="345.87" width="87.00" height="2.54" fill="#004600"/>
<rect x="473.5" y="348.40" width="87.00" height="1.74" fill="#004400"/>
<rect x="473.5" y="350.14" width="87.00" height="1.39" fill="#005400"/>
<rect x="473.5" y="351.53" width="87.00" height="1.07" fill="#004a00"/>
<rect x="473.5" y="352.60" width="87.00" height="2.12" fill="#005600"/>
<rect x="473.5" y="354.72" width="87.00" height="1.39" fill="#005700"/>
<rect x="473.5" y="356.12" width="87.00" height="2.40" fill="#004300"/>
<rect x="473.5" y="358.51" width="87.00" height="2.39" fill="#005b00"/>
<rect x="473.5" y="360.90" width="87.00" height="1.60" fill="#004800"/>
<rect x="473.5" y="362.50" width="87.00" height="2.65" fill="#004f00"/>
<rect x="473.5" y="365.15" width="87.00" height="1.18" fill="#004600"/>
<rect x="473.5" y="366.33" width="87.00" height="2.46" fill="#005700"/>
<rect x="473.5" y="368.79" width="87.00" height="2.39" fill="#005c00"/>
<rect x="473.5" y="371.18" width="87.00" height="1.93" fill="#006400"/>
<rect x="473.5" y="373.11" width="87.00" height="1.66" fill="#005600"/>
<rect x="473.5" y="374.77" width="87.00" height="2.43" fill="#005800"/>
<rect x="473.5" y="377.20" width="87.00" height="2.48" fill="#005700"/>
<rect x="473.5" y="379.69" width="87.00" height="2.22" fill="#004500"/>
<rect x="473.5" y="381.91" width="87.00" height="1.41" fill="#004d00"/>
<rect x="473.5" y="383.31" width="87.00" height="1.16" fill="#004b00"/>
<rect x="473.5" y="384.47" width="87.00" height="1.19" fill="#004d00"/>
<rect x="473.5" y="385.66" width="87.00" height="2.10" fill="#004f00"/>
<rect x="473.5" y="387.76" width="87.00" height="1.65" fill="#004a00"/>
<rect x="473.5" y="389.41" width="87.00" height="1.47" fill="#006300"/>
<rect x="473.5" y="390.89" width="87.00" height="2.12" fill="#005800"/>
<rect x="473.5" y="393.01" width="87.00" height="1.31" fill="#005c00"/>
<rect x="473.5" y="394.32" width="87.00" height="1.30" fill="#005000"/>
<rect x="473.5" y="395.62" width="87.00" height="2.70" fill="#005900"/>
<rect x="473.5" y="398.32" width="87.00" height="1.97" fill="#005a00"/>
<rect x="473.5" y="400.28" width="87.00" height="2.45" fill="#005d00"/>
<rect x="473.5" y="402.74" width="87.00" height="1.41" fill="#004400"/>
<rect x="473.5" y="404.15" width="87.00" height="1.56" fill="#004c00"/>
<rect x="473.5" y="405.70" width="87.00" height="1.38" fill="#006300"/>
<rect x="473.5" y="407.08" width="87.00" height="2.51" fill="#004e00"/>
<rect x="473.5" y="409.59" width="87.00" height="2.13" fill="#005000"/>
<rect x="473.5" y="411.73" width="87.00" height="2.57" fill="#005300"/>
<rect x="473.5" y="414.30" width="87.00" height="1.47" fill="#004b00"/>
<rect x="473.5" y="415.77" width="87.00" height="1.97" fill="#004c00"/>
<rect x="473.5" y="417.75" width="87.00" height="2.01" fill="#006100"/>
<rect x="473.5" y="419.76" width="87.00" height="1.70" fill="#004b00"/>
<rect x="473.5" y="421.46" width="87.00" height="2.72" fill="#005400"/>
<rect x="473.5" y="424.17" width="87.00" height="1.17" fill="#004500"/>
<rect x="473.5" y="425.35" width="87.00" height="1.21" fill="#005800"/>
<rect x="473.5" y="426.55" width="87.00" height="2.37" fill="#005100"/>
<rect x="473.5" y="428.92" width="87.00" height="1.13" fill="#005000"/>
<rect x="473.5" y="430.05" width="87.00" height="2.71" fill="#005500"/>
<rect x="473.5" y="432.76" width="87.00" height="2.67" fill="#006000"/>
<rect x="473.5" y="435.43" width="87.00" height="1.04" fill="#005b00"/>
<rect x="473.5" y="436.47" width="87.00" height="2.18" fill="#005500"/>
<rect x="473.5" y="438.65" width="87.00" height="1.47" fill="#005900"/>
<rect x="473.5" y="440.13" width="87.00" height="1.21" fill="#005200"/>
<rect x="473.5" y="441.34" width="87.00" height="1.79" fill="#006300"/>
<rect x="473.5" y="443.13" width="87.00" height="2.51" fill="#004c00"/>
<rect x="473.5" y="445.64" width="87.00" height="1.87" fill="#004900"/>
<rect x="473.5" y="447.51" width="87.00" height="2.57" fill="#006000"/>
<rect x="473.5" y="450.08" width="87.00" height="1.53" fill="#005900"/>
<rect x="473.5" y="451.61" width="87.00" height="2.06" fill="#004800"/>
<rect x="473.5" y="453.66" width="87.00" height="2.32" fill="#005500"/>
<rect x="473.5" y="455.98" width="87.00" height="2.34" fill="#005500"/>
<rect x="473.5" y="458.32" width="87.00" height="1.02" fill="#004e00"/>
<rect x="473.5" y="459.34" width="87.00" height="1.05" fill="#006200"/>
<rect x="473.5" y="460.39" width="87.00" height="2.51" fill="#005f00"/>
<rect x="473.5" y="462.91" width="87.00" height="1.54" fill="#004500"/>
<rect x="473.5" y="464.45" width="87.00" height="0.55" fill="#006300"/>
<rect x="303.5" y="465.00" width="87.00" height="170.00" fill="#2e0000"/>
<rect x="303.5" y="465.00" width="87.00" height="1.87" fill="#2a0000"/>
<rect x="303.5" y="466.87" width="87.00" height="2.10" fill="#290000"/>
<rect x="303.5" y="468.97" width="87.00" height="1.82" fill="#370000"/>
<rect x="303.5" y="470.79" width="87.00" height="1.16" fill="#2b0000"/>
<rect x="303.5" y="471.96" width="87.00" height="2.17" fill="#260000"/>
<rect x="303.5" y="474.13" width="87.00" height="1.28" fill="#340000"/>
<rect x="303.5" y="475.41" width="87.00" height="2.69" fill="#2b0000"/>
<rect x="303.5" y="478.09" width="87.00" height="1.34" fill="#370000"/>
<rect x="303.5" y="479.44" width="87.00" height="1.58" fill="#300000"/>
<rect x="303.5" y="481.02" width="87.00" height="2.05" fill="#300000"/>
<rect x="303.5" y="483.07" width="87.00" height="2.58" fill="#370000"/>
<rect x="303.5" y="485.64" width="87.00" height="2.20" fill="#340000"/>
<rect x="303.5" y="487.84" width="87.00" height="2.37" fill="#310000"/>
<rect x="303.5" y="490.21" width="87.00" height="1.75" fill="#290000"/>
<rect x="303.5" y="491.96" width="87.00" height="1.47" fill="#360000"/>
<rect x="303.5" y="493.44" width="87.00" height="2.21" fill="#270000"/>
<rect x="303.5" y="495.65" width="87.00" height="2.57" fill="#2a0000"/>
<rect x="303.5" y="498.21" width="87.00" height="2.20" fill="#2d0000"/>
<rect x="303.5" y="500.41" width="87.00" height="1.48" fill="#290000"/>
<rect x="303.5" y="501.89" width="87.00" height="2.00" fill="#2c0000"/>
<rect x="303.5" y="503.89" width="87.00" height="2.08" fill="#320000"/>
<rect x="303.5" y="505.98" width="87.00" height="2.41" fill="#340000"/>
<rect x="303.5" y="508.39" width="87.00" height="2.08" fill="#370000"/>
<rect x="303.5" y="510.47" width="87.00" height="1.86" fill="#350000"/>
<rect x="303.5" y="512.34" width="87.00" height="2.41" fill="#340000"/>
<rect x="303.5" y="514.74" width="87.00" height="1.23" fill="#2f0000"/>
<rect x="303.5" y="515.97" width="87.00" height="1.90" fill="#270000"/>
<rect x="303.5" y="517.87" width="87.00" height="1.65" fill="#2e0000"/>
<rect x="303.5" y="519.52" width="87.00" height="1.03" fill="#250000"/>
<rect x="303.5" y="520.55" width="87.00" height="2.02" fill="#2c0000"/>
<rect x="303.5" y="522.57" width="87.00" height="2.68" fill="#340000"/>
<rect x="303.5" y="525.25" width="87.00" height="2.43" fill="#340000"/>
<rect x="303.5" y="527.68" width="87.00" height="1.40" fill="#320000"/>
<rect x="303.5" y="529.08" width="87.00" height="1.19" fill="#270000"/>
<rect x="303.5" y="530.27" width="87.00" height="1.66" fill="#290000"/>
<rect x="303.5" y="531.93" width="87.00" height="1.08" fill="#2e0000"/>
<rect x="303.5" y="533.00" width="87.00" height="2.66" fill="#260000"/>
<rect x="303.5" y="535.66" width="87.00" height="1.42" fill="#360000"/>
<rect x="303.5" y="537.09" width="87.00" height="1.92" fill="#2d0000"/>
<rect x="303.5" y="539.01" width="87.00" height="1.73" fill="#340000"/>
<rect x="303.5" y="540.74" width="87.00" height="1.82" fill="#2c0000"/>
<rect x="303.5" y="542.56" width="87.00" height="1.64" fill="#330000"/>
<rect x="303.5" y="544.19" width="87.00" height="1.05" fill="#2d0000"/>
<rect x="303.5" y="545.25" width="87.00" height="2.11" fill="#250000"/>
<rect x="303.5" y="547.35" width="87.00" height="1.56" fill="#2b0000"/>
<rect x="303.5" y="548.91" width="87.00" height="2.12" fill="#2e0000"/>
<rect x="303.5" y="551.03" width="87.00" height="1.87" fill="#2a0000"/>
<rect x="303.5" y="552.89" width="87.00" height="1.75" fill="#360000"/>
<rect x="303.5" y="554.64" width="87.00" height="1.21" fill="#260000"/>
<rect x="303.5" y="555.85" width="87.00" height="1.29" fill="#260000"/>
<rect x="303.5" y="557.15" width="87.00" height="1.26" fill="#2b0000"/>
<rect x="303.5" y="558.41" width="87.00" height="2.27" fill="#360000"/>
<rect x="303.5" y="560.68" width="87.00" height="1.05" fill="#2e0000"/>
<rect x="303.5" y="561.73" width="87.00" height="1.43" fill="#350000"/>
<rect x="303.5" y="563.16" width="87.00" height="2.71" fill="#320000"/>
<rect x="303.5" y="565.87" width="87.00" height="1.07" fill="#2e0000"/>
<rect x="303.5" y="566.94" width="87.00" height="1.75" fill="#2f0000"/>
<rect x="303.5" y="568.69" width="87.00" height="1.40" fill="#250000"/>
<rect x="303.5" y="570.09" width="87.00" height="2.05" fill="#340000"/>
<rect x="303.5" y="572.14" width="87.00" height="1.59" fill="#2c0000"/>
<rect x="303.5" y="573.73" width="87.00" height="1.10" fill="#2f0000"/>
<rect x="303.5" y="574.83" width="87.00" height="2.41" fill="#2e0000"/>
<rect x="303.5" y="577.23" width="87.00" height="1.23" fill="#270000"/>
<rect x="303.5" y="578.47" width="87.00" height="2.47" fill="#320000"/>
<rect x="303.5" y="580.93" width="87.00" height="1.45" fill="#2e0000"/>
<rect x="303.5" y="582.39" width="87.00" height="1.23" fill="#2f0000"/>
<rect x="303.5" y="583.62" width="87.00" height="1.07" fill="#2a0000"/>
<rect x="303.5" y="584.68" width="87.00" height="1.84" fill="#2d0000"/>
<rect x="303.5" y="586.53" width="87.00" height="1.52" fill="#310000"/>
<rect x="303.5" y="588.05" width="87.00" height="1.44" fill="#330000"/>
<rect x="303.5" y="589.49" width="87.00" height="2.43" fill="#2f0000"/>
<rect x="303.5" y="591.92" width="87.00" height="2.65" fill="#290000"/>
<rect x="303.5" y="594.57" width="87.00" height="2.68" fill="#260000"/>
<rect x="303.5" y="597.26" width="87.00" height="1.97" fill="#280000"/>
<rect x="303.5" y="599.23" width="87.00" height="1.22" fill="#2a0000"/>
<rect x="303.5" y="600.45" width="87.00" height="1.67" fill="#250000"/>
<rect x="303.5" y="602.11" width="87.00" height="1.50" fill="#360000"/>
<rect x="303.5" y="603.61" width="87.00" height="2.39" fill="#310000"/>
<rect x="303.5" y="606.00" width="87.00" height="2.66" fill="#2e0000"/>
<rect x="303.5" y="608.66" width="87.00" height="2.31" fill="#350000"/>
<rect x="303.5" y="610.96" width="87.00" height="1.91" fill="#2e0000"/>
<rect x="303.5" y="612.88" width="87.00" height="1.29" fill="#360000"/>
<rect x="303.5" y="614.16" width="87.00" height="1.59" fill="#280000"/>
<rect x="303.5" y="615.75" width="87.00" height="1.41" fill="#330000"/>
<rect x="303.5" y="617.16" width="87.00" height="1.51" fill="#310000"/>
<rect x="303.5" y="618.68" width="87.00" height="2.10" fill="#360000"/>
<rect x="303.5" y="620.77" width="87.00" height="2.40" fill="#360000"/>
<rect x="303.5" y="623.18" width="87.00" height="1.39" fill="#260000"/>
<rect x="303.5" y="624.57" width="87.00" height="1.07" fill="#280000"/>
<rect x="303.5" y="625.64" width="87.00" height="1.17" fill="#270000"/>
<rect x="303.5" y="626.81" width="87.00" height="2.22" fill="#2d0000"/>
<rect x="303.5" y="629.02" width="87.00" height="1.46" fill="#2e0000"/>
<rect x="303.5" y="630.48" width="87.00" height="1.38" fill="#2b0000"/>
<rect x="303.5" y="631.86" width="87.00" height="1.68" fill="#260000"/>
<rect x="303.5" y="633.54" width="87.00" height="1.46" fill="#350000"/>
<rect x="389.5" y="465.00" width="85.00" height="170.00" fill="#050000"/>
<rect x="389.5" y="465.00" width="85.00" height="1.43" fill="#050000"/>
<rect x="389.5" y="466.43" width="85.00" height="1.30" fill="#060000"/>
<rect x="389.5" y="467.73" width="85.00" height="1.41" fill="#050000"/>
<rect x="389.5" y="469.14" width="85.00" height="2.59" fill="#050000"/>
<rect x="389.5" y="471.74" width="85.00" height="2.67" fill="#050000"/>
<rect x="389.5" y="474.40" width="85.00" height="1.95" fill="#050000"/>
<rect x="389.5" y="476.35" width="85.00" height="2.02" fill="#050000"/>
<rect x="389.5" y="478.37" width="85.00" height="2.71" fill="#050000"/>
<rect x="389.5" y="481.09" width="85.00" height="2.69" fill="#060000"/>
<rect x="389.5" y="483.78" width="85.00" height="1.07" fill="#050000"/>
<rect x="389.5" y="484.85" width="85.00" height="1.83" fill="#060000"/>
<rect x="389.5" y="486.68" width="85.00" height="1.32" fill="#050000"/>
<rect x="389.5" y="488.00" width="85.00" height="1.64" fill="#060000"/>
<rect x="389.5" y="489.64" width="85.00" height="2.59" fill="#060000"/>
<rect x="389.5" y="492.24" width="85.00" height="1.35" fill="#060000"/>
<rect x="389.5" y="493.59" width="85.00" height="1.76" fill="#060000"/>
<rect x="389.5" y="495.35" width="85.00" height="1.82" fill="#060000"/>
<rect x="389.5" y="497.17" width="85.00" height="2.70" fill="#060000"/>
<rect x="389.5" y="499.87" width="85.00" height="2.42" fill="#060000"/>
<rect x="389.5" y="502.29" width="85.00" height="2.03" fill="#040000"/>
<rect x="389.5" y="504.32" width="85.00" height="2.70" fill="#050000"/>
<rect x="389.5" y="507.02" width="85.00" height="1.05" fill="#050000"/>
<rect x="389.5" y="508.06" width="85.00" height="1.73" fill="#040000"/>
<rect x="389.5" y="509.79" width="85.00" height="2.65" fill="#040000"/>
<rect x="389.5" y="512.44" width="85.00" height="2.56" fill="#050000"/>
<rect x="389.5" y="515.00" width="85.00" height="1.32" fill="#050000"/>
<rect x="389.5" y="516.32" width="85.00" height="1.79" fill="#040000"/>
<rect x="389.5" y="518.11" width="85.00" height="2.32" fill="#050000"/>
<rect x="389.5" y="520.43" width="85.00" height="2.69" fill="#060000"/>
<rect x="389.5" y="523.11" width="85.00" height="2.36" fill="#060000"/>
<rect x="389.5" y="525.47" width="85.00" height="2.60" fill="#050000"/>
<rect x="389.5" y="528.08" width="85.00" height="1.94" fill="#050000"/>
<rect x="389.5" y="530.01" width="85.00" height="2.40" fill="#060000"/>
<rect x="389.5" y="532.42" width="85.00" height="2.43" fill="#060000"/>
<rect x="389.5" y="534.85" width="85.00" height="1.07" fill="#050000"/>
<rect x="389.5" y="535.91" width="85.00" height="1.17" fill="#050000"/>
<rect x="389.5" y="537.08" width="85.00" height="2.01" fill="#050000"/>
<rect x="389.5" y="539.09" width="85.00" height="2.48" fill="#040000"/>
<rect x="389.5" y="541.57" width="85.00" height="2.26" fill="#050000"/>
<rect x="389.5" y="543.83" width="85.00" height="1.38" fill="#060000"/>
<rect x="389.5" y="545.21" width="85.00" height="1.11" fill="#050000"/>
<rect x="389.5" y="546.32" width="85.00" height="1.93" fill="#050000"/>
<rect x="389.5" y="548.25" width="85.00" height="2.69" fill="#050000"/>
<rect x="389.5" y="550.94" width="85.00" height="2.53" fill="#050000"/>
<rect x="389.5" y="553.47" width="85.00" height="1.84" fill="#040000"/>
<rect x="389.5" y="555.31" width="85.00" height="2.11" fill="#050000"/>
<rect x="389.5" y="557.41" width="85.00" height="2.35" fill="#040000"/>
<rect x="389.5" y="559.77" width="85.00" height="1.81" fill="#060000"/>
<rect x="389.5" y="561.58" width="85.00" height="1.04" fill="#050000"/>
<rect x="389.5" y="562.62" width="85.00" height="2.17" fill="#050000"/>
<rect x="389.5" y="564.79" width="85.00" height="1.97" fill="#050000"/>
<rect x="389.5" y="566.75" width="85.00" height="2.65" fill="#050000"/>
<rect x="389.5" y="569.41" width="85.00" height="2.22" fill="#050000"/>
<rect x="389.5" y="571.62" width="85.00" height="2.26" fill="#050000"/>
<rect x="389.5" y="573.88" width="85.00" height="1.05" fill="#060000"/>
<rect x="389.5" y="574.93" width="85.00" height="1.49" fill="#060000"/>
<rect x="389.5" y="576.42" width="85.00" height="2.70" fill="#060000"/>
<rect x="389.5" y="579.12" width="85.00" height="1.70" fill="#060000"/>
<rect x="389.5" y="580.83" width="85.00" height="1.68" fill="#050000"/>
<rect x="389.5" y="582.50" width="85.00" height="1.99" fill="#050000"/>
<rect x="389.5" y="584.49" width="85.00" height="2.19" fill="#050000"/>
<rect x="389.5" y="586.68" width="85.00" height="1.71" fill="#050000"/>
<rect x="389.5" y="588.39" width="85.00" height="1.57" fill="#050000"/>
<rect x="389.5" y="589.97" width="85.00" height="1.03" fill="#040000"/>
<rect x="389.5" y="590.99" width="85.00" height="2.49" fill="#040000"/>
<rect x="389.5" y="593.49" width="85.00" height="1.72" fill="#040000"/>
<rect x="389.5" y="595.21" width="85.00" height="2.32" fill="#050000"/>
<rect x="389.5" y="597.53" width="85.00" height="1.10" fill="#050000"/>
<rect x="389.5" y="598.64" width="85.00" height="2.60" fill="#060000"/>
<rect x="389.5" y="601.24" width="85.00" height="1.03" fill="#060000"/>
<rect x="389.5" y="602.26" width="85.00" height="1.14" fill="#050000"/>
<rect x="389.5" y="603.41" width="85.00" height="1.93" fill="#060000"/>
<rect x="389.5" y="605.33" width="85.00" height="1.26" fill="#060000"/>
<rect x="389.5" y="606.59" width="85.00" height="1.49" fill="#050000"/>
<rect x="389.5" y="608.08" width="85.00" height="2.60" fill="#050000"/>
<rect x="389.5" y="610.68" width="85.00" height="1.02" fill="#050000"/>
<rect x="389.5" y="611.70" width="85.00" height="1.76" fill="#050000"/>
<rect x="389.5" y="613.46" width="85.00" height="2.35" fill="#040000"/>
<rect x="389.5" y="615.81" width="85.00" height="1.99" fill="#050000"/>
<rect x="389.5" y="617.80" width="85.00" height="2.60" fill="#050000"/>
<rect x="389.5" y="620.39" width="85.00" height="2.07" fill="#060000"/>
<rect x="389.5" y="622.46" width="85.00" height="1.29" fill="#060000"/>
<rect x="389.5" y="623.75" width="85.00" height="2.01" fill="#050000"/>
<rect x="389.5" y="625.76" width="85.00" height="1.28" fill="#050000"/>
<rect x="389.5" y="627.04" width="85.00" height="1.72" fill="#040000"/>
<rect x="389.5" y="628.76" width="85.00" height="2.62" fill="#060000"/>
<rect x="389.5" y="631.38" width="85.00" height="1.80" fill="#040000"/>
<rect x="389.5" y="633.18" width="85.00" height="1.82" fill="#040000"/>
<rect x="473.5" y="465.00" width="87.00" height="170.00" fill="#003e00"/>
<rect x="473.5" y="465.00" width="87.00" height="2.68" fill="#003300"/>
<rect x="473.5" y="467.68" width="87.00" height="2.25" fill="#003e00"/>
<rect x="473.5" y="469.94" width="87.00" height="2.62" fill="#003c00"/>
<rect x="473.5" y="472.56" width="87.00" height="2.58" fill="#003600"/>
<rect x="473.5" y="475.14" width="87.00" height="2.71" fill="#003c00"/>
<rect x="473.5" y="477.85" width="87.00" height="1.33" fill="#003a00"/>
<rect x="473.5" y="479.18" width="87.00" height="2.09" fill="#003200"/>
<rect x="473.5" y="481.28" width="87.00" height="1.68" fill="#003200"/>
<rect x="473.5" y="482.95" width="87.00" height="1.14" fill="#003600"/>
<rect x="473.5" y="484.09" width="87.00" height="1.41" fill="#003800"/>
<rect x="473.5" y="485.50" width="87.00" height="2.34" fill="#003c00"/>
<rect x="473.5" y="487.85" width="87.00" height="2.48" fill="#004800"/>
<rect x="473.5" y="490.32" width="87.00" height="2.54" fill="#004900"/>
<rect x="473.5" y="492.87" width="87.00" height="2.00" fill="#004200"/>
<rect x="473.5" y="494.86" width="87.00" height="2.52" fill="#003f00"/>
<rect x="473.5" y="497.38" width="87.00" height="1.26" fill="#003f00"/>
<rect x="473.5" y="498.65" width="87.00" height="1.92" fill="#003600"/>
<rect x="473.5" y="500.57" width="87.00" height="1.18" fill="#003600"/>
<rect x="473.5" y="501.74" width="87.00" height="2.21" fill="#004600"/>
<rect x="473.5" y="503.95" width="87.00" height="2.14" fill="#003c00"/>
<rect x="473.5" y="506.09" width="87.00" height="1.07" fill="#003200"/>
<rect x="473.5" y="507.15" width="87.00" height="2.13" fill="#003f00"/>
<rect x="473.5" y="509.29" width="87.00" height="1.80" fill="#003600"/>
<rect x="473.5" y="511.08" width="87.00" height="1.23" fill="#003600"/>
<rect x="473.5" y="512.31" width="87.00" height="1.24" fill="#004000"/>
<rect x="473.5" y="513.55" width="87.00" height="1.54" fill="#003f00"/>
<rect x="473.5" y="515.09" width="87.00" height="1.75" fill="#003f00"/>
<rect x="473.5" y="516.84" width="87.00" height="2.29" fill="#004500"/>
<rect x="473.5" y="519.13" width="87.00" height="1.27" fill="#004900"/>
<rect x="473.5" y="520.40" width="87.00" height="2.47" fill="#004600"/>
<rect x="473.5" y="522.87" width="87.00" height="1.79" fill="#004900"/>
<rect x="473.5" y="524.66" width="87.00" height="2.40" fill="#003800"/>
<rect x="473.5" y="527.07" width="87.00" height="2.19" fill="#004700"/>
<rect x="473.5" y="529.25" width="87.00" height="2.30" fill="#004800"/>
<rect x="473.5" y="531.55" width="87.00" height="1.92" fill="#004200"/>
<rect x="473.5" y="533.47" width="87.00" height="1.15" fill="#004200"/>
<rect x="473.5" y="534.62" width="87.00" height="1.27" fill="#004400"/>
<rect x="473.5" y="535.89" width="87.00" height="2.55" fill="#003b00"/>
<rect x="473.5" y="538.44" width="87.00" height="1.14" fill="#003300"/>
<rect x="473.5" y="539.58" width="87.00" height="1.90" fill="#003500"/>
<rect x="473.5" y="541.48" width="87.00" height="2.28" fill="#004100"/>
<rect x="473.5" y="543.76" width="87.00" height="1.87" fill="#004200"/>
<rect x="473.5" y="545.63" width="87.00" height="1.28" fill="#003d00"/>
<rect x="473.5" y="546.90" width="87.00" height="1.10" fill="#003f00"/>
<rect x="473.5" y="548.00" width="87.00" height="2.37" fill="#003500"/>
<rect x="473.5" y="550.37" width="87.00" height="2.19" fill="#004a00"/>
<rect x="473.5" y="552.56" width="87.00" height="1.57" fill="#003700"/>
<rect x="473.5" y="554.13" width="87.00" height="1.45" fill="#004600"/>
<rect x="473.5" y="555.58" width="87.00" height="1.16" fill="#004500"/>
<rect x="473.5" y="556.74" width="87.00" height="1.46" fill="#004400"/>
<rect x="473.5" y="558.20" width="87.00" height="2.53" fill="#004700"/>
<rect x="473.5" y="560.73" width="87.00" height="1.35" fill="#003f00"/>
<rect x="473.5" y="562.08" width="87.00" height="1.56" fill="#004700"/>
<rect x="473.5" y="563.64" width="87.00" height="1.52" fill="#003600"/>
<rect x="473.5" y="565.16" width="87.00" height="1.71" fill="#003400"/>
<rect x="473.5" y="566.87" width="87.00" height="1.40" fill="#004300"/>
<rect x="473.5" y="568.27" width="87.00" height="1.58" fill="#003600"/>
<rect x="473.5" y="569.84" width="87.00" height="2.61" fill="#003800"/>
<rect x="473.5" y="572.45" width="87.00" height="2.37" fill="#004300"/>
<rect x="473.5" y="574.82" width="87.00" height="1.97" fill="#004200"/>
<rect x="473.5" y="576.79" width="87.00" height="2.01" fill="#004600"/>
<rect x="473.5" y="578.80" width="87.00" height="2.20" fill="#003800"/>
<rect x="473.5" y="581.00" width="87.00" height="2.13" fill="#003e00"/>
<rect x="473.5" y="583.13" width="87.00" height="2.59" fill="#003400"/>
<rect x="473.5" y="585.72" width="87.00" height="1.79" fill="#004a00"/>
<rect x="473.5" y="587.51" width="87.00" height="1.13" fill="#004400"/>
<rect x="473.5" y="588.64" width="87.00" height="2.55" fill="#004100"/>
<rect x="473.5" y="591.19" width="87.00" height="1.12" fill="#004500"/>
<rect x="473.5" y="592.31" width="87.00" height="1.47" fill="#003e00"/>
<rect x="473.5" y="593.78" width="87.00" height="2.41" fill="#003900"/>
<rect x="473.5" y="596.19" width="87.00" height="1.43" fill="#003400"/>
<rect x="473.5" y="597.62" width="87.00" height="1.60" fill="#003400"/>
<rect x="473.5" y="599.22" width="87.00" height="2.20" fill="#004600"/>
<rect x="473.5" y="601.43" width="87.00" height="1.11" fill="#003f00"/>
<rect x="473.5" y="602.54" width="87.00" height="2.37" fill="#004500"/>
<rect x="473.5" y="604.91" width="87.00" height="1.47" fill="#003f00"/>
<rect x="473.5" y="606.38" width="87.00" height="2.18" fill="#003f00"/>
<rect x="473.5" y="608.56" width="87.00" height="2.72" fill="#004800"/>
<rect x="473.5" y="611.28" width="87.00" height="2.66" fill="#003500"/>
<rect x="473.5" y="613.94" width="87.00" height="1.06" fill="#004000"/>
<rect x="473.5" y="615.00" width="87.00" height="2.00" fill="#003800"/>
<rect x="473.5" y="617.00" width="87.00" height="1.43" fill="#004500"/>
<rect x="473.5" y="618.44" width="87.00" height="2.37" fill="#003200"/>
<rect x="473.5" y="620.81" width="87.00" height="1.23" fill="#004300"/>
<rect x="473.5" y="622.04" width="87.00" height="1.74" fill="#003500"/>
<rect x="473.5" y="623.78" width="87.00" height="2.63" fill="#003a00"/>
<rect x="473.5" y="626.41" width="87.00" height="1.15" fill="#003c00"/>
<rect x="473.5" y="627.56" width="87.00" height="1.71" fill="#004200"/>
<rect x="473.5" y="629.27" width="87.00" height="2.32" fill="#003400"/>
<rect x="473.5" y="631.60" width="87.00" height="1.82" fill="#004800"/>
<rect x="473.5" y="633.42" width="87.00" height="1.58" fill="#004800"/>
<rect x="303.5" y="635.00" width="87.00" height="68.00" fill="#730000"/>
<rect x="303.5" y="635.00" width="87.00" height="1.54" fill="#770000"/>
<rect x="303.5" y="636.54" width="87.00" height="1.47" fill="#810000"/>
<rect x="303.5" y="638.01" width="87.00" height="1.81" fill="#6b0000"/>
<rect x="303.5" y="639.83" width="87.00" height="2.54" fill="#800000"/>
<rect x="303.5" y="642.37" width="87.00" height="2.48" fill="#7b0000"/>
<rect x="303.5" y="644.85" width="87.00" height="1.34" fill="#6e0000"/>
<rect x="303.5" y="646.19" width="87.00" height="1.43" fill="#800000"/>
<rect x="303.5" y="647.62" width="87.00" height="1.04" fill="#800000"/>
<rect x="303.5" y="648.65" width="87.00" height="1.30" fill="#6a0000"/>
<rect x="303.5" y="649.96" width="87.00" height="2.09" fill="#7b0000"/>
<rect x="303.5" y="652.05" width="87.00" height="1.89" fill="#760000"/>
<rect x="303.5" y="653.94" width="87.00" height="2.02" fill="#780000"/>
<rect x="303.5" y="655.96" width="87.00" height="1.20" fill="#6a0000"/>
<rect x="303.5" y="657.16" width="87.00" height="1.05" fill="#760000"/>
<rect x="303.5" y="658.22" width="87.00" height="1.52" fill="#670000"/>
<rect x="303.5" y="659.74" width="87.00" height="1.49" fill="#870000"/>
<rect x="303.5" y="661.22" width="87.00" height="1.24" fill="#850000"/>
<rect x="303.5" y="662.46" width="87.00" height="2.56" fill="#650000"/>
<rect x="303.5" y="665.02" width="87.00" height="2.43" fill="#650000"/>
<rect x="303.5" y="667.45" width="87.00" height="2.12" fill="#620000"/>
<rect x="303.5" y="669.57" width="87.00" height="1.56" fill="#730000"/>
<rect x="303.5" y="671.13" width="87.00" height="1.66" fill="#820000"/>
<rect x="303.5" y="672.79" width="87.00" height="2.12" fill="#5e0000"/>
<rect x="303.5" y="674.91" width="87.00" height="1.97" fill="#600000"/>
<rect x="303.5" y="676.87" width="87.00" height="1.32" fill="#6e0000"/>
<rect x="303.5" y="678.19" width="87.00" height="1.56" fill="#760000"/>
<rect x="303.5" y="679.75" width="87.00" height="2.69" fill="#800000"/>
<rect x="303.5" y="682.44" width="87.00" height="1.95" fill="#830000"/>
<rect x="303.5" y="684.39" width="87.00" height="1.31" fill="#7d0000"/>
<rect x="303.5" y="685.69" width="87.00" height="2.67" fill="#870000"/>
<rect x="303.5" y="688.37" width="87.00" height="1.89" fill="#770000"/>
<rect x="303.5" y="690.25" width="87.00" height="1.67" fill="#700000"/>
<rect x="303.5" y="691.93" width="87.00" height="2.70" fill="#620000"/>
<rect x="303.5" y="694.63" width="87.00" height="2.48" fill="#660000"/>
<rect x="303.5" y="697.10" width="87.00" height="1.96" fill="#750000"/>
<rect x="303.5" y="699.07" width="87.00" height="1.10" fill="#720000"/>
<rect x="303.5" y="700.17" width="87.00" height="1.05" fill="#870000"/>
<rect x="303.5" y="701.21" width="87.00" height="1.79" fill="#770000"/>
<rect x="389.5" y="635.00" width="85.00" height="68.00" fill="#001e00"/>
<rect x="389.5" y="635.00" width="85.00" height="1.86" fill="#001f00"/>
<rect x="389.5" y="636.86" width="85.00" height="2.40" fill="#001c00"/>
<rect x="389.5" y="639.26" width="85.00" height="1.57" fill="#002000"/>
<rect x="389.5" y="640.82" width="85.00" height="1.85" fill="#001c00"/>
<rect x="389.5" y="642.67" width="85.00" height="1.71" fill="#001c00"/>
<rect x="389.5" y="644.38" width="85.00" height="1.30" fill="#002000"/>
<rect x="389.5" y="645.68" width="85.00" height="2.54" fill="#002000"/>
<rect x="389.5" y="648.22" width="85.00" height="2.10" fill="#001c00"/>
<rect x="389.5" y="650.32" width="85.00" height="1.76" fill="#001a00"/>
<rect x="389.5" y="652.08" width="85.00" height="2.26" fill="#001c00"/>
<rect x="389.5" y="654.34" width="85.00" height="1.52" fill="#002400"/>
<rect x="389.5" y="655.85" width="85.00" height="1.60" fill="#002400"/>
<rect x="389.5" y="657.45" width="85.00" height="2.07" fill="#002100"/>
<rect x="389.5" y="659.52" width="85.00" height="2.09" fill="#001a00"/>
<rect x="389.5" y="661.61" width="85.00" height="2.23" fill="#001b00"/>
<rect x="389.5" y="663.84" width="85.00" height="1.71" fill="#001a00"/>
<rect x="389.5" y="665.56" width="85.00" height="1.12" fill="#001c00"/>
<rect x="389.5" y="666.67" width="85.00" height="1.04" fill="#001d00"/>
<rect x="389.5" y="667.72" width="85.00" height="2.47" fill="#002400"/>
<rect x="389.5" y="670.18" width="85.00" height="1.74" fill="#001900"/>
<rect x="389.5" y="671.92" width="85.00" height="1.61" fill="#001900"/>
<rect x="389.5" y="673.53" width="85.00" height="1.39" fill="#001f00"/>
<rect x="389.5" y="674.92" width="85.00" height="2.07" fill="#001800"/>
<rect x="389.5" y="676.99" width="85.00" height="1.85" fill="#001d00"/>
<rect x="389.5" y="678.84" width="85.00" height="1.70" fill="#001a00"/>
<rect x="389.5" y="680.54" width="85.00" height="1.69" fill="#001900"/>
<rect x="389.5" y="682.22" width="85.00" height="2.19" fill="#002000"/>
<rect x="389.5" y="684.41" width="85.00" height="2.09" fill="#001d00"/>
<rect x="389.5" y="686.50" width="85.00" height="2.65" fill="#001c00"/>
<rect x="389.5" y="689.15" width="85.00" height="1.37" fill="#001c00"/>
<rect x="389.5" y="690.51" width="85.00" height="2.57" fill="#001a00"/>
<rect x="389.5" y="693.08" width="85.00" height="2.32" fill="#002300"/>
<rect x="389.5" y="695.40" width="85.00" height="2.47" fill="#001e00"/>
<rect x="389.5" y="697.87" width="85.00" height="1.79" fill="#002200"/>
<rect x="389.5" y="699.66" width="85.00" height="2.23" fill="#002200"/>
<rect x="389.5" y="701.88" width="85.00" height="1.12" fill="#001f00"/>
<rect x="473.5" y="635.00" width="87.00" height="68.00" fill="#005c00"/>
<rect x="473.5" y="635.00" width="87.00" height="2.60" fill="#005000"/>
<rect x="473.5" y="637.60" width="87.00" height="2.67" fill="#005200"/>
<rect x="473.5" y="640.27" width="87.00" height="1.81" fill="#006b00"/>
<rect x="473.5" y="642.08" width="87.00" height="1.62" fill="#005c00"/>
<rect x="473.5" y="643.70" width="87.00" height="1.29" fill="#006d00"/>
<rect x="473.5" y="645.00" width="87.00" height="2.69" fill="#005000"/>
<rect x="473.5" y="647.69" width="87.00" height="1.23" fill="#005b00"/>
<rect x="473.5" y="648.92" width="87.00" height="1.90" fill="#006600"/>
<rect x="473.5" y="650.82" width="87.00" height="1.60" fill="#005f00"/>
<rect x="473.5" y="652.43" width="87.00" height="1.29" fill="#005100"/>
<rect x="473.5" y="653.72" width="87.00" height="1.15" fill="#005e00"/>
<rect x="473.5" y="654.87" width="87.00" height="1.98" fill="#006000"/>
<rect x="473.5" y="656.85" width="87.00" height="2.61" fill="#005500"/>
<rect x="473.5" y="659.46" width="87.00" height="1.60" fill="#005b00"/>
<rect x="473.5" y="661.06" width="87.00" height="2.63" fill="#005500"/>
<rect x="473.5" y="663.69" width="87.00" height="1.51" fill="#005900"/>
<rect x="473.5" y="665.20" width="87.00" height="2.19" fill="#005400"/>
<rect x="473.5" y="667.40" width="87.00" height="1.31" fill="#006500"/>
<rect x="473.5" y="668.71" width="87.00" height="2.00" fill="#005f00"/>
<rect x="473.5" y="670.71" width="87.00" height="1.04" fill="#005300"/>
<rect x="473.5" y="671.75" width="87.00" height="1.19" fill="#005700"/>
<rect x="473.5" y="672.94" width="87.00" height="2.56" fill="#006e00"/>
<rect x="473.5" y="675.50" width="87.00" height="2.46" fill="#005700"/>
<rect x="473.5" y="677.96" width="87.00" height="1.98" fill="#006b00"/>
<rect x="473.5" y="679.94" width="87.00" height="1.60" fill="#005800"/>
<rect x="473.5" y="681.55" width="87.00" height="2.23" fill="#005600"/>
<rect x="473.5" y="683.78" width="87.00" height="1.83" fill="#005700"/>
<rect x="473.5" y="685.61" width="87.00" height="2.42" fill="#005d00"/>
<rect x="473.5" y="688.03" width="87.00" height="1.19" fill="#004a00"/>
<rect x="473.5" y="689.21" width="87.00" height="2.11" fill="#004e00"/>
<rect x="473.5" y="691.33" width="87.00" height="2.16" fill="#005200"/>
<rect x="473.5" y="693.48" width="87.00" height="1.92" fill="#005600"/>
<rect x="473.5" y="695.41" width="87.00" height="2.13" fill="#004e00"/>
<rect x="473.5" y="697.54" width="87.00" height="1.72" fill="#006200"/>
<rect x="473.5" y="699.25" width="87.00" height="1.46" fill="#006e00"/>
<rect x="473.5" y="700.72" width="87.00" height="2.28" fill="#006d00"/>
<rect x="303.5" y="703.00" width="87.00" height="115.00" fill="#4a0000"/>
<rect x="303.5" y="703.00" width="87.00" height="2.57" fill="#440000"/>
<rect x="303.5" y="705.57" width="87.00" height="1.80" fill="#3f0000"/>
<rect x="303.5" y="707.37" width="87.00" height="2.71" fill="#400000"/>
<rect x="303.5" y="710.08" width="87.00" height="2.17" fill="#4d0000"/>
<rect x="303.5" y="712.24" width="87.00" height="2.23" fill="#470000"/>
<rect x="303.5" y="714.48" width="87.00" height="1.67" fill="#470000"/>
<rect x="303.5" y="716.15" width="87.00" height="1.14" fill="#450000"/>
<rect x="303.5" y="717.29" width="87.00" height="1.49" fill="#520000"/>
<rect x="303.5" y="718.78" width="87.00" height="1.78" fill="#3e0000"/>
<rect x="303.5" y="720.56" width="87.00" height="1.07" fill="#450000"/>
<rect x="303.5" y="721.63" width="87.00" height="2.69" fill="#3c0000"/>
<rect x="303.5" y="724.32" width="87.00" height="1.79" fill="#520000"/>
<rect x="303.5" y="726.11" width="87.00" height="1.23" fill="#530000"/>
<rect x="303.5" y="727.34" width="87.00" height="2.52" fill="#540000"/>
<rect x="303.5" y="729.86" width="87.00" height="1.25" fill="#570000"/>
<rect x="303.5" y="731.11" width="87.00" height="1.41" fill="#530000"/>
<rect x="303.5" y="732.52" width="87.00" height="2.37" fill="#4b0000"/>
<rect x="303.5" y="734.89" width="87.00" height="2.30" fill="#520000"/>
<rect x="303.5" y="737.19" width="87.00" height="2.38" fill="#440000"/>
<rect x="303.5" y="739.57" width="87.00" height="2.66" fill="#4e0000"/>
<rect x="303.5" y="742.23" width="87.00" height="1.63" fill="#3f0000"/>
<rect x="303.5" y="743.85" width="87.00" height="2.45" fill="#580000"/>
<rect x="303.5" y="746.30" width="87.00" height="2.50" fill="#4f0000"/>
<rect x="303.5" y="748.80" width="87.00" height="2.26" fill="#470000"/>
<rect x="303.5" y="751.06" width="87.00" height="1.28" fill="#570000"/>
<rect x="303.5" y="752.34" width="87.00" height="2.33" fill="#4b0000"/>
<rect x="303.5" y="754.67" width="87.00" height="2.50" fill="#400000"/>
<rect x="303.5" y="757.18" width="87.00" height="1.19" fill="#430000"/>
<rect x="303.5" y="758.37" width="87.00" height="2.55" fill="#460000"/>
<rect x="303.5" y="760.92" width="87.00" height="1.18" fill="#410000"/>
<rect x="303.5" y="762.09" width="87.00" height="1.22" fill="#560000"/>
<rect x="303.5" y="763.31" width="87.00" height="2.68" fill="#3d0000"/>
<rect x="303.5" y="765.99" width="87.00" height="2.15" fill="#420000"/>
<rect x="303.5" y="768.14" width="87.00" height="2.47" fill="#430000"/>
<rect x="303.5" y="770.61" width="87.00" height="2.29" fill="#3d0000"/>
<rect x="303.5" y="772.90" width="87.00" height="1.99" fill="#480000"/>
<rect x="303.5" y="774.90" width="87.00" height="1.24" fill="#560000"/>
<rect x="303.5" y="776.13" width="87.00" height="1.81" fill="#510000"/>
<rect x="303.5" y="777.95" width="87.00" height="1.34" fill="#450000"/>
<rect x="303.5" y="779.29" width="87.00" height="2.52" fill="#4b0000"/>
<rect x="303.5" y="781.81" width="87.00" height="2.66" fill="#4f0000"/>
<rect x="303.5" y="784.47" width="87.00" height="2.69" fill="#450000"/>
<rect x="303.5" y="787.16" width="87.00" height="1.90" fill="#560000"/>
<rect x="303.5" y="789.06" width="87.00" height="1.10" fill="#4b0000"/>
<rect x="303.5" y="790.16" width="87.00" height="1.05" fill="#420000"/>
<rect x="303.5" y="791.21" width="87.00" height="1.74" fill="#430000"/>
<rect x="303.5" y="792.95" width="87.00" height="1.14" fill="#3e0000"/>
<rect x="303.5" y="794.09" width="87.00" height="2.16" fill="#550000"/>
<rect x="303.5" y="796.25" width="87.00" height="2.04" fill="#450000"/>
<rect x="303.5" y="798.29" width="87.00" height="2.26" fill="#3c0000"/>
<rect x="303.5" y="800.56" width="87.00" height="2.33" fill="#4c0000"/>
<rect x="303.5" y="802.89" width="87.00" height="1.88" fill="#4d0000"/>
<rect x="303.5" y="804.77" width="87.00" height="1.24" fill="#490000"/>
<rect x="303.5" y="806.01" width="87.00" height="1.93" fill="#480000"/>
<rect x="303.5" y="807.94" width="87.00" height="1.90" fill="#460000"/>
<rect x="303.5" y="809.84" width="87.00" height="2.05" fill="#460000"/>
<rect x="303.5" y="811.89" width="87.00" height="2.62" fill="#430000"/>
<rect x="303.5" y="814.51" width="87.00" height="2.34" fill="#4b0000"/>
<rect x="303.5" y="816.86" width="87.00" height="1.14" fill="#520000"/>
<rect x="389.5" y="703.00" width="85.00" height="115.00" fill="#0e0000"/>
<rect x="389.5" y="703.00" width="85.00" height="1.57" fill="#0f0000"/>
<rect x="389.5" y="704.57" width="85.00" height="1.03" fill="#110000"/>
<rect x="389.5" y="705.60" width="85.00" height="2.42" fill="#110000"/>
<rect x="389.5" y="708.02" width="85.00" height="1.47" fill="#0c0000"/>
<rect x="389.5" y="709.49" width="85.00" height="1.11" fill="#0c0000"/>
<rect x="389.5" y="710.60" width="85.00" height="1.06" fill="#0f0000"/>
<rect x="389.5" y="711.66" width="85.00" height="1.64" fill="#100000"/>
<rect x="389.5" y="713.31" width="85.00" height="2.31" fill="#0d0000"/>
<rect x="389.5" y="715.62" width="85.00" height="1.30" fill="#0d0000"/>
<rect x="389.5" y="716.92" width="85.00" height="1.07" fill="#0f0000"/>
<rect x="389.5" y="717.99" width="85.00" height="1.34" fill="#0c0000"/>
<rect x="389.5" y="719.34" width="85.00" height="2.53" fill="#0e0000"/>
<rect x="389.5" y="721.87" width="85.00" height="2.63" fill="#110000"/>
<rect x="389.5" y="724.50" width="85.00" height="2.15" fill="#0d0000"/>
<rect x="389.5" y="726.64" width="85.00" height="1.27" fill="#0d0000"/>
<rect x="389.5" y="727.92" width="85.00" height="2.27" fill="#0e0000"/>
<rect x="389.5" y="730.19" width="85.00" height="1.53" fill="#0b0000"/>
<rect x="389.5" y="731.71" width="85.00" height="1.62" fill="#0d0000"/>
<rect x="389.5" y="733.33" width="85.00" height="1.14" fill="#0d0000"/>
<rect x="389.5" y="734.47" width="85.00" height="1.52" fill="#0e0000"/>
<rect x="389.5" y="735.99" width="85.00" height="1.86" fill="#0e0000"/>
<rect x="389.5" y="737.85" width="85.00" height="2.46" fill="#0d0000"/>
<rect x="389.5" y="740.31" width="85.00" height="1.18" fill="#0d0000"/>
<rect x="389.5" y="741.50" width="85.00" height="1.39" fill="#0e0000"/>
<rect x="389.5" y="742.88" width="85.00" height="1.83" fill="#0d0000"/>
<rect x="389.5" y="744.71" width="85.00" height="1.18" fill="#0f0000"/>
<rect x="389.5" y="745.89" width="85.00" height="2.08" fill="#0f0000"/>
<rect x="389.5" y="747.97" width="85.00" height="2.21" fill="#100000"/>
<rect x="389.5" y="750.19" width="85.00" height="1.08" fill="#0c0000"/>
<rect x="389.5" y="751.27" width="85.00" height="1.82" fill="#0f0000"/>
<rect x="389.5" y="753.09" width="85.00" height="1.88" fill="#0e0000"/>
<rect x="389.5" y="754.97" width="85.00" height="1.54" fill="#0d0000"/>
<rect x="389.5" y="756.51" width="85.00" height="2.51" fill="#110000"/>
<rect x="389.5" y="759.02" width="85.00" height="1.87" fill="#0e0000"/>
<rect x="389.5" y="760.89" width="85.00" height="1.24" fill="#0f0000"/>
<rect x="389.5" y="762.12" width="85.00" height="1.38" fill="#0f0000"/>
<rect x="389.5" y="763.50" width="85.00" height="1.49" fill="#0e0000"/>
<rect x="389.5" y="765.00" width="85.00" height="2.49" fill="#0d0000"/>
<rect x="389.5" y="767.49" width="85.00" height="1.93" fill="#0d0000"/>
<rect x="389.5" y="769.42" width="85.00" height="1.85" fill="#100000"/>
<rect x="389.5" y="771.26" width="85.00" height="1.86" fill="#110000"/>
<rect x="389.5" y="773.12" width="85.00" height="1.71" fill="#0e0000"/>
<rect x="389.5" y="774.83" width="85.00" height="2.12" fill="#0e0000"/>
<rect x="389.5" y="776.95" width="85.00" height="2.16" fill="#0d0000"/>
<rect x="389.5" y="779.11" width="85.00" height="1.04" fill="#0e0000"/>
<rect x="389.5" y="780.16" width="85.00" height="1.13" fill="#0d0000"/>
<rect x="389.5" y="781.29" width="85.00" height="2.04" fill="#0f0000"/>
<rect x="389.5" y="783.32" width="85.00" height="2.57" fill="#0f0000"/>
<rect x="389.5" y="785.89" width="85.00" height="1.96" fill="#0d0000"/>
<rect x="389.5" y="787.85" width="85.00" height="1.83" fill="#0d0000"/>
<rect x="389.5" y="789.68" width="85.00" height="1.19" fill="#0e0000"/>
<rect x="389.5" y="790.88" width="85.00" height="2.09" fill="#0d0000"/>
<rect x="389.5" y="792.97" width="85.00" height="2.28" fill="#0e0000"/>
<rect x="389.5" y="795.25" width="85.00" height="1.55" fill="#100000"/>
<rect x="389.5" y="796.79" width="85.00" height="1.06" fill="#0d0000"/>
<rect x="389.5" y="797.85" width="85.00" height="1.57" fill="#0f0000"/>
<rect x="389.5" y="799.42" width="85.00" height="1.45" fill="#110000"/>
<rect x="389.5" y="800.87" width="85.00" height="1.20" fill="#0e0000"/>
<rect x="389.5" y="802.06" width="85.00" height="1.82" fill="#0f0000"/>
<rect x="389.5" y="803.88" width="85.00" height="1.45" fill="#0c0000"/>
<rect x="389.5" y="805.34" width="85.00" height="2.29" fill="#100000"/>
<rect x="389.5" y="807.62" width="85.00" height="2.00" fill="#100000"/>
<rect x="389.5" y="809.62" width="85.00" height="1.69" fill="#0e0000"/>
<rect x="389.5" y="811.31" width="85.00" height="1.87" fill="#0c0000"/>
<rect x="389.5" y="813.18" width="85.00" height="2.43" fill="#0c0000"/>
<rect x="389.5" y="815.60" width="85.00" height="1.15" fill="#100000"/>
<rect x="389.5" y="816.76" width="85.00" height="1.24" fill="#0c0000"/>
<rect x="473.5" y="703.00" width="87.00" height="115.00" fill="#006400"/>
<rect x="473.5" y="703.00" width="87.00" height="1.14" fill="#006800"/>
<rect x="473.5" y="704.14" width="87.00" height="2.70" fill="#005e00"/>
<rect x="473.5" y="706.85" width="87.00" height="1.94" fill="#005f00"/>
<rect x="473.5" y="708.79" width="87.00" height="2.28" fill="#006b00"/>
<rect x="473.5" y="711.07" width="87.00" height="2.04" fill="#007700"/>
<rect x="473.5" y="713.11" width="87.00" height="2.21" fill="#005e00"/>
<rect x="473.5" y="715.32" width="87.00" height="1.67" fill="#006900"/>
<rect x="473.5" y="716.99" width="87.00" height="2.20" fill="#005900"/>
<rect x="473.5" y="719.18" width="87.00" height="2.40" fill="#006200"/>
<rect x="473.5" y="721.58" width="87.00" height="2.33" fill="#005400"/>
<rect x="473.5" y="723.91" width="87.00" height="1.56" fill="#005100"/>
<rect x="473.5" y="725.47" width="87.00" height="1.73" fill="#005a00"/>
<rect x="473.5" y="727.20" width="87.00" height="1.61" fill="#005900"/>
<rect x="473.5" y="728.81" width="87.00" height="2.47" fill="#006900"/>
<rect x="473.5" y="731.28" width="87.00" height="1.61" fill="#006400"/>
<rect x="473.5" y="732.89" width="87.00" height="1.33" fill="#007600"/>
<rect x="473.5" y="734.23" width="87.00" height="2.56" fill="#006700"/>
<rect x="473.5" y="736.79" width="87.00" height="1.28" fill="#007600"/>
<rect x="473.5" y="738.07" width="87.00" height="1.39" fill="#005200"/>
<rect x="473.5" y="739.46" width="87.00" height="1.73" fill="#005f00"/>
<rect x="473.5" y="741.19" width="87.00" height="2.47" fill="#005600"/>
<rect x="473.5" y="743.65" width="87.00" height="1.12" fill="#006200"/>
<rect x="473.5" y="744.78" width="87.00" height="1.09" fill="#006b00"/>
<rect x="473.5" y="745.87" width="87.00" height="1.85" fill="#007300"/>
<rect x="473.5" y="747.72" width="87.00" height="2.61" fill="#005900"/>
<rect x="473.5" y="750.33" width="87.00" height="2.36" fill="#006400"/>
<rect x="473.5" y="752.68" width="87.00" height="2.64" fill="#005300"/>
<rect x="473.5" y="755.32" width="87.00" height="1.80" fill="#007700"/>
<rect x="473.5" y="757.12" width="87.00" height="1.11" fill="#005c00"/>
<rect x="473.5" y="758.23" width="87.00" height="1.55" fill="#005e00"/>
<rect x="473.5" y="759.78" width="87.00" height="2.71" fill="#005800"/>
<rect x="473.5" y="762.48" width="87.00" height="2.42" fill="#005b00"/>
<rect x="473.5" y="764.90" width="87.00" height="2.51" fill="#005600"/>
<rect x="473.5" y="767.41" width="87.00" height="1.19" fill="#007700"/>
<rect x="473.5" y="768.60" width="87.00" height="1.04" fill="#006a00"/>
<rect x="473.5" y="769.64" width="87.00" height="1.37" fill="#006700"/>
<rect x="473.5" y="771.01" width="87.00" height="1.56" fill="#006900"/>
<rect x="473.5" y="772.57" width="87.00" height="2.17" fill="#006e00"/>
<rect x="473.5" y="774.74" width="87.00" height="1.23" fill="#007100"/>
<rect x="473.5" y="775.97" width="87.00" height="1.43" fill="#006800"/>
<rect x="473.5" y="777.40" width="87.00" height="2.40" fill="#006f00"/>
<rect x="473.5" y="779.79" width="87.00" height="1.92" fill="#006400"/>
<rect x="473.5" y="781.71" width="87.00" height="1.28" fill="#007300"/>
<rect x="473.5" y="783.00" width="87.00" height="2.03" fill="#006f00"/>
<rect x="473.5" y="785.03" width="87.00" height="2.66" fill="#006c00"/>
<rect x="473.5" y="787.69" width="87.00" height="1.53" fill="#006300"/>
<rect x="473.5" y="789.22" width="87.00" height="1.31" fill="#005b00"/>
<rect x="473.5" y="790.53" width="87.00" height="2.48" fill="#006b00"/>
<rect x="473.5" y="793.01" width="87.00" height="1.30" fill="#006500"/>
<rect x="473.5" y="794.32" width="87.00" height="1.72" fill="#007100"/>
<rect x="473.5" y="796.03" width="87.00" height="2.43" fill="#005e00"/>
<rect x="473.5" y="798.46" width="87.00" height="1.16" fill="#005800"/>
<rect x="473.5" y="799.63" width="87.00" height="1.98" fill="#005f00"/>
<rect x="473.5" y="801.61" width="87.00" height="1.08" fill="#006e00"/>
<rect x="473.5" y="802.69" width="87.00" height="2.06" fill="#005d00"/>
<rect x="473.5" y="804.75" width="87.00" height="1.07" fill="#005e00"/>
<rect x="473.5" y="805.82" width="87.00" height="2.02" fill="#005300"/>
<rect x="473.5" y="807.84" width="87.00" height="1.20" fill="#005200"/>
<rect x="473.5" y="809.04" width="87.00" height="1.07" fill="#006800"/>
<rect x="473.5" y="810.11" width="87.00" height="2.23" fill="#006a00"/>
<rect x="473.5" y="812.35" width="87.00" height="1.56" fill="#005e00"/>
<rect x="473.5" y="813.91" width="87.00" height="1.04" fill="#007000"/>
<rect x="473.5" y="814.95" width="87.00" height="1.92" fill="#005800"/>
<rect x="473.5" y="816.87" width="87.00" height="1.13" fill="#005b00"/>
<rect x="303.5" y="818.00" width="87.00" height="78.00" fill="#340000"/>
<rect x="303.5" y="818.00" width="87.00" height="1.48" fill="#350000"/>
<rect x="303.5" y="819.48" width="87.00" height="2.22" fill="#3e0000"/>
<rect x="303.5" y="821.71" width="87.00" height="1.65" fill="#350000"/>
<rect x="303.5" y="823.35" width="87.00" height="1.66" fill="#350000"/>
<rect x="303.5" y="825.01" width="87.00" height="2.45" fill="#3e0000"/>
<rect x="303.5" y="827.46" width="87.00" height="2.60" fill="#3d0000"/>
<rect x="303.5" y="830.06" width="87.00" height="1.11" fill="#2f0000"/>
<rect x="303.5" y="831.17" width="87.00" height="2.63" fill="#350000"/>
<rect x="303.5" y="833.80" width="87.00" height="1.27" fill="#370000"/>
<rect x="303.5" y="835.07" width="87.00" height="2.61" fill="#2e0000"/>
<rect x="303.5" y="837.68" width="87.00" height="1.62" fill="#2d0000"/>
<rect x="303.5" y="839.30" width="87.00" height="2.68" fill="#2e0000"/>
<rect x="303.5" y="841.98" width="87.00" height="1.46" fill="#2b0000"/>
<rect x="303.5" y="843.44" width="87.00" height="1.19" fill="#2a0000"/>
<rect x="303.5" y="844.63" width="87.00" height="1.03" fill="#350000"/>
<rect x="303.5" y="845.66" width="87.00" height="1.53" fill="#310000"/>
<rect x="303.5" y="847.18" width="87.00" height="2.00" fill="#300000"/>
<rect x="303.5" y="849.19" width="87.00" height="2.28" fill="#2f0000"/>
<rect x="303.5" y="851.47" width="87.00" height="1.86" fill="#310000"/>
<rect x="303.5" y="853.33" width="87.00" height="2.28" fill="#330000"/>
<rect x="303.5" y="855.61" width="87.00" height="1.49" fill="#3d0000"/>
<rect x="303.5" y="857.10" width="87.00" height="2.35" fill="#310000"/>
<rect x="303.5" y="859.45" width="87.00" height="2.17" fill="#340000"/>
<rect x="303.5" y="861.62" width="87.00" height="1.09" fill="#2e0000"/>
<rect x="303.5" y="862.71" width="87.00" height="2.14" fill="#2a0000"/>
<rect x="303.5" y="864.84" width="87.00" height="1.09" fill="#2f0000"/>
<rect x="303.5" y="865.93" width="87.00" height="1.84" fill="#2a0000"/>
<rect x="303.5" y="867.77" width="87.00" height="2.68" fill="#3e0000"/>
<rect x="303.5" y="870.45" width="87.00" height="2.34" fill="#3b0000"/>
<rect x="303.5" y="872.79" width="87.00" height="2.57" fill="#3b0000"/>
<rect x="303.5" y="875.36" width="87.00" height="1.73" fill="#2d0000"/>
<rect x="303.5" y="877.09" width="87.00" height="1.76" fill="#370000"/>
<rect x="303.5" y="878.86" width="87.00" height="2.45" fill="#390000"/>
<rect x="303.5" y="881.31" width="87.00" height="1.14" fill="#2d0000"/>
<rect x="303.5" y="882.45" width="87.00" height="1.69" fill="#2f0000"/>
<rect x="303.5" y="884.15" width="87.00" height="1.60" fill="#3a0000"/>
<rect x="303.5" y="885.74" width="87.00" height="1.93" fill="#370000"/>
<rect x="303.5" y="887.67" width="87.00" height="2.71" fill="#330000"/>
<rect x="303.5" y="890.38" width="87.00" height="2.01" fill="#3e0000"/>
<rect x="303.5" y="892.39" width="87.00" height="1.98" fill="#3a0000"/>
<rect x="303.5" y="894.38" width="87.00" height="1.62" fill="#330000"/>
<rect x="389.5" y="818.00" width="85.00" height="78.00" fill="#3e0000"/>
<rect x="389.5" y="818.00" width="85.00" height="1.88" fill="#3d0000"/>
<rect x="389.5" y="819.88" width="85.00" height="1.97" fill="#3b0000"/>
<rect x="389.5" y="821.85" width="85.00" height="2.44" fill="#360000"/>
<rect x="389.5" y="824.29" width="85.00" height="1.79" fill="#450000"/>
<rect x="389.5" y="826.07" width="85.00" height="2.05" fill="#480000"/>
<rect x="389.5" y="828.12" width="85.00" height="1.51" fill="#3a0000"/>
<rect x="389.5" y="829.63" width="85.00" height="1.54" fill="#350000"/>
<rect x="389.5" y="831.17" width="85.00" height="1.15" fill="#3e0000"/>
<rect x="389.5" y="832.32" width="85.00" height="1.53" fill="#400000"/>
<rect x="389.5" y="833.85" width="85.00" height="2.65" fill="#4a0000"/>
<rect x="389.5" y="836.50" width="85.00" height="2.34" fill="#3a0000"/>
<rect x="389.5" y="838.84" width="85.00" height="1.67" fill="#480000"/>
<rect x="389.5" y="840.52" width="85.00" height="1.42" fill="#460000"/>
<rect x="389.5" y="841.93" width="85.00" height="1.44" fill="#3d0000"/>
<rect x="389.5" y="843.37" width="85.00" height="1.97" fill="#490000"/>
<rect x="389.5" y="845.34" width="85.00" height="2.26" fill="#460000"/>
<rect x="389.5" y="847.60" width="85.00" height="1.61" fill="#3a0000"/>
<rect x="389.5" y="849.22" width="85.00" height="2.50" fill="#400000"/>
<rect x="389.5" y="851.72" width="85.00" height="2.24" fill="#340000"/>
<rect x="389.5" y="853.96" width="85.00" height="1.13" fill="#3c0000"/>
<rect x="389.5" y="855.08" width="85.00" height="1.54" fill="#380000"/>
<rect x="389.5" y="856.63" width="85.00" height="2.41" fill="#480000"/>
<rect x="389.5" y="859.03" width="85.00" height="1.40" fill="#340000"/>
<rect x="389.5" y="860.43" width="85.00" height="1.34" fill="#360000"/>
<rect x="389.5" y="861.78" width="85.00" height="2.25" fill="#3b0000"/>
<rect x="389.5" y="864.03" width="85.00" height="2.68" fill="#320000"/>
<rect x="389.5" y="866.71" width="85.00" height="1.93" fill="#350000"/>
<rect x="389.5" y="868.64" width="85.00" height="2.46" fill="#3b0000"/>
<rect x="389.5" y="871.10" width="85.00" height="1.43" fill="#400000"/>
<rect x="389.5" y="872.53" width="85.00" height="2.50" fill="#320000"/>
<rect x="389.5" y="875.04" width="85.00" height="1.41" fill="#480000"/>
<rect x="389.5" y="876.45" width="85.00" height="1.73" fill="#340000"/>
<rect x="389.5" y="878.18" width="85.00" height="2.60" fill="#490000"/>
<rect x="389.5" y="880.78" width="85.00" height="1.75" fill="#360000"/>
<rect x="389.5" y="882.53" width="85.00" height="1.07" fill="#440000"/>
<rect x="389.5" y="883.60" width="85.00" height="2.33" fill="#440000"/>
<rect x="389.5" y="885.93" width="85.00" height="2.20" fill="#3a0000"/>
<rect x="389.5" y="888.12" width="85.00" height="1.51" fill="#400000"/>
<rect x="389.5" y="889.63" width="85.00" height="2.37" fill="#3d0000"/>
<rect x="389.5" y="892.00" width="85.00" height="1.90" fill="#3b0000"/>
<rect x="389.5" y="893.90" width="85.00" height="2.10" fill="#490000"/>
<rect x="473.5" y="818.00" width="87.00" height="78.00" fill="#008700"/>
<rect x="473.5" y="818.00" width="87.00" height="1.27" fill="#008600"/>
<rect x="473.5" y="819.27" width="87.00" height="1.88" fill="#00a000"/>
<rect x="473.5" y="821.14" width="87.00" height="2.40" fill="#009700"/>
<rect x="473.5" y="823.55" width="87.00" height="2.18" fill="#007400"/>
<rect x="473.5" y="825.72" width="87.00" height="2.57" fill="#008300"/>
<rect x="473.5" y="828.29" width="87.00" height="2.01" fill="#007100"/>
<rect x="473.5" y="830.30" width="87.00" height="1.54" fill="#009900"/>
<rect x="473.5" y="831.85" width="87.00" height="1.23" fill="#007100"/>
<rect x="473.5" y="833.08" width="87.00" height="1.57" fill="#007f00"/>
<rect x="473.5" y="834.65" width="87.00" height="1.86" fill="#008600"/>
<rect x="473.5" y="836.51" width="87.00" height="1.33" fill="#006c00"/>
<rect x="473.5" y="837.84" width="87.00" height="1.63" fill="#007c00"/>
<rect x="473.5" y="839.46" width="87.00" height="1.94" fill="#008a00"/>
<rect x="473.5" y="841.40" width="87.00" height="2.24" fill="#008400"/>
<rect x="473.5" y="843.63" width="87.00" height="1.67" fill="#008f00"/>
<rect x="473.5" y="845.31" width="87.00" height="2.56" fill="#009000"/>
<rect x="473.5" y="847.87" width="87.00" height="1.07" fill="#007c00"/>
<rect x="473.5" y="848.93" width="87.00" height="2.66" fill="#00a000"/>
<rect x="473.5" y="851.59" width="87.00" height="1.53" fill="#007700"/>
<rect x="473.5" y="853.12" width="87.00" height="1.03" fill="#007300"/>
<rect x="473.5" y="854.15" width="87.00" height="1.14" fill="#00a100"/>
<rect x="473.5" y="855.29" width="87.00" height="2.63" fill="#007e00"/>
<rect x="473.5" y="857.92" width="87.00" height="1.07" fill="#009d00"/>
<rect x="473.5" y="858.99" width="87.00" height="2.08" fill="#009d00"/>
<rect x="473.5" y="861.06" width="87.00" height="1.53" fill="#009a00"/>
<rect x="473.5" y="862.59" width="87.00" height="2.39" fill="#009000"/>
<rect x="473.5" y="864.98" width="87.00" height="2.16" fill="#009200"/>
<rect x="473.5" y="867.14" width="87.00" height="1.80" fill="#009f00"/>
<rect x="473.5" y="868.94" width="87.00" height="1.19" fill="#008200"/>
<rect x="473.5" y="870.13" width="87.00" height="1.65" fill="#008600"/>
<rect x="473.5" y="871.78" width="87.00" height="2.45" fill="#007000"/>
<rect x="473.5" y="874.23" width="87.00" height="1.72" fill="#008400"/>
<rect x="473.5" y="875.95" width="87.00" height="1.66" fill="#008d00"/>
<rect x="473.5" y="877.61" width="87.00" height="2.21" fill="#008e00"/>
<rect x="473.5" y="879.82" width="87.00" height="1.88" fill="#008000"/>
<rect x="473.5" y="881.70" width="87.00" height="2.70" fill="#009800"/>
<rect x="473.5" y="884.40" width="87.00" height="2.15" fill="#007000"/>
<rect x="473.5" y="886.55" width="87.00" height="1.68" fill="#009100"/>
<rect x="473.5" y="888.23" width="87.00" height="1.34" fill="#008300"/>
<rect x="473.5" y="889.57" width="87.00" height="1.76" fill="#007400"/>
<rect x="473.5" y="891.33" width="87.00" height="2.45" fill="#009c00"/>
<rect x="473.5" y="893.78" width="87.00" height="1.49" fill="#007500"/>
<rect x="473.5" y="895.28" width="87.00" height="0.72" fill="#009300"/>
<rect x="303.5" y="896.00" width="87.00" height="79.00" fill="#730000"/>
<rect x="303.5" y="896.00" width="87.00" height="1.37" fill="#600000"/>
<rect x="303.5" y="897.37" width="87.00" height="2.14" fill="#770000"/>
<rect x="303.5" y="899.51" width="87.00" height="2.10" fill="#6c0000"/>
<rect x="303.5" y="901.61" width="87.00" height="1.79" fill="#850000"/>
<rect x="303.5" y="903.39" width="87.00" height="2.41" fill="#680000"/>
<rect x="303.5" y="905.80" width="87.00" height="1.48" fill="#5f0000"/>
<rect x="303.5" y="907.29" width="87.00" height="2.26" fill="#5e0000"/>
<rect x="303.5" y="909.55" width="87.00" height="2.17" fill="#880000"/>
<rect x="303.5" y="911.73" width="87.00" height="2.46" fill="#6d0000"/>
<rect x="303.5" y="914.18" width="87.00" height="2.40" fill="#620000"/>
<rect x="303.5" y="916.58" width="87.00" height="2.33" fill="#640000"/>
<rect x="303.5" y="918.91" width="87.00" height="2.17" fill="#5d0000"/>
<rect x="303.5" y="921.08" width="87.00" height="1.88" fill="#870000"/>
<rect x="303.5" y="922.96" width="87.00" height="1.38" fill="#610000"/>
<rect x="303.5" y="924.34" width="87.00" height="1.74" fill="#5c0000"/>
<rect x="303.5" y="926.08" width="87.00" height="1.16" fill="#7a0000"/>
<rect x="303.5" y="927.25" width="87.00" height="2.69" fill="#890000"/>
<rect x="303.5" y="929.94" width="87.00" height="2.40" fill="#700000"/>
<rect x="303.5" y="932.34" width="87.00" height="2.35" fill="#7e0000"/>
<rect x="303.5" y="934.69" width="87.00" height="2.32" fill="#720000"/>
<rect x="303.5" y="937.01" width="87.00" height="2.29" fill="#6c0000"/>
<rect x="303.5" y="939.31" width="87.00" height="1.49" fill="#640000"/>
<rect x="303.5" y="940.79" width="87.00" height="1.65" fill="#700000"/>
<rect x="303.5" y="942.45" width="87.00" height="1.56" fill="#840000"/>
<rect x="303.5" y="944.01" width="87.00" height="1.92" fill="#6f0000"/>
<rect x="303.5" y="945.93" width="87.00" height="2.65" fill="#850000"/>
<rect x="303.5" y="948.59" width="87.00" height="1.12" fill="#6c0000"/>
<rect x="303.5" y="949.70" width="87.00" height="2.19" fill="#700000"/>
<rect x="303.5" y="951.90" width="87.00" height="2.65" fill="#7d0000"/>
<rect x="303.5" y="954.55" width="87.00" height="2.60" fill="#7b0000"/>
<rect x="303.5" y="957.15" width="87.00" height="1.35" fill="#5f0000"/>
<rect x="303.5" y="958.51" width="87.00" height="1.70" fill="#630000"/>
<rect x="303.5" y="960.21" width="87.00" height="1.97" fill="#7f0000"/>
<rect x="303.5" y="962.18" width="87.00" height="1.97" fill="#7d0000"/>
<rect x="303.5" y="964.15" width="87.00" height="1.24" fill="#8a0000"/>
<rect x="303.5" y="965.39" width="87.00" height="2.71" fill="#6a0000"/>
<rect x="303.5" y="968.10" width="87.00" height="2.17" fill="#7b0000"/>
<rect x="303.5" y="970.27" width="87.00" height="2.10" fill="#690000"/>
<rect x="303.5" y="972.36" width="87.00" height="1.67" fill="#6c0000"/>
<rect x="303.5" y="974.03" width="87.00" height="0.97" fill="#840000"/>
<rect x="389.5" y="896.00" width="85.00" height="79.00" fill="#160000"/>
<rect x="389.5" y="896.00" width="85.00" height="1.16" fill="#130000"/>
<rect x="389.5" y="897.16" width="85.00" height="2.18" fill="#130000"/>
<rect x="389.5" y="899.34" width="85.00" height="2.63" fill="#190000"/>
<rect x="389.5" y="901.98" width="85.00" height="2.28" fill="#160000"/>
<rect x="389.5" y="904.26" width="85.00" height="2.43" fill="#140000"/>
<rect x="389.5" y="906.69" width="85.00" height="2.05" fill="#150000"/>
<rect x="389.5" y="908.73" width="85.00" height="1.85" fill="#1a0000"/>
<rect x="389.5" y="910.59" width="85.00" height="1.39" fill="#180000"/>
<rect x="389.5" y="911.97" width="85.00" height="2.32" fill="#120000"/>
<rect x="389.5" y="914.30" width="85.00" height="2.71" fill="#160000"/>
<rect x="389.5" y="917.00" width="85.00" height="1.94" fill="#140000"/>
<rect x="389.5" y="918.95" width="85.00" height="1.97" fill="#1a0000"/>
<rect x="389.5" y="920.92" width="85.00" height="1.61" fill="#180000"/>
<rect x="389.5" y="922.53" width="85.00" height="2.35" fill="#190000"/>
<rect x="389.5" y="924.88" width="85.00" height="2.19" fill="#150000"/>
<rect x="389.5" y="927.08" width="85.00" height="1.60" fill="#150000"/>
<rect x="389.5" y="928.67" width="85.00" height="1.66" fill="#190000"/>
<rect x="389.5" y="930.33" width="85.00" height="2.43" fill="#130000"/>
<rect x="389.5" y="932.76" width="85.00" height="1.47" fill="#120000"/>
<rect x="389.5" y="934.23" width="85.00" height="2.60" fill="#120000"/>
<rect x="389.5" y="936.83" width="85.00" height="1.68" fill="#130000"/>
<rect x="389.5" y="938.51" width="85.00" height="1.35" fill="#1a0000"/>
<rect x="389.5" y="939.87" width="85.00" height="1.76" fill="#170000"/>
<rect x="389.5" y="941.63" width="85.00" height="2.43" fill="#160000"/>
<rect x="389.5" y="944.06" width="85.00" height="2.41" fill="#180000"/>
<rect x="389.5" y="946.48" width="85.00" height="2.05" fill="#170000"/>
<rect x="389.5" y="948.52" width="85.00" height="2.53" fill="#180000"/>
<rect x="389.5" y="951.05" width="85.00" height="1.60" fill="#1a0000"/>
<rect x="389.5" y="952.65" width="85.00" height="2.42" fill="#1a0000"/>
<rect x="389.5" y="955.07" width="85.00" height="2.15" fill="#160000"/>
<rect x="389.5" y="957.22" width="85.00" height="1.62" fill="#170000"/>
<rect x="389.5" y="958.84" width="85.00" height="1.33" fill="#180000"/>
<rect x="389.5" y="960.17" width="85.00" height="2.22" fill="#190000"/>
<rect x="389.5" y="962.39" width="85.00" height="1.39" fill="#170000"/>
<rect x="389.5" y="963.78" width="85.00" height="1.96" fill="#170000"/>
<rect x="389.5" y="965.74" width="85.00" height="1.72" fill="#120000"/>
<rect x="389.5" y="967.45" width="85.00" height="2.59" fill="#1a0000"/>
<rect x="389.5" y="970.05" width="85.00" height="1.29" fill="#1a0000"/>
<rect x="389.5" y="971.34" width="85.00" height="2.03" fill="#120000"/>
<rect x="389.5" y="973.37" width="85.00" height="1.63" fill="#140000"/>
<rect x="473.5" y="896.00" width="87.00" height="79.00" fill="#008000"/>
<rect x="473.5" y="896.00" width="87.00" height="1.74" fill="#008300"/>
<rect x="473.5" y="897.74" width="87.00" height="1.97" fill="#008500"/>
<rect x="473.5" y="899.70" width="87.00" height="2.38" fill="#009800"/>
<rect x="473.5" y="902.09" width="87.00" height="2.16" fill="#009000"/>
<rect x="473.5" y="904.25" width="87.00" height="1.99" fill="#007f00"/>
<rect x="473.5" y="906.24" width="87.00" height="2.45" fill="#009900"/>
<rect x="473.5" y="908.68" width="87.00" height="1.99" fill="#008700"/>
<rect x="473.5" y="910.68" width="87.00" height="1.13" fill="#009300"/>
<rect x="473.5" y="911.80" width="87.00" height="2.11" fill="#008700"/>
<rect x="473.5" y="913.91" width="87.00" height="1.30" fill="#008400"/>
<rect x="473.5" y="915.21" width="87.00" height="2.05" fill="#006e00"/>
<rect x="473.5" y="917.26" width="87.00" height="1.72" fill="#008c00"/>
<rect x="473.5" y="918.98" width="87.00" height="2.35" fill="#008b00"/>
<rect x="473.5" y="921.33" width="87.00" height="2.17" fill="#009700"/>
<rect x="473.5" y="923.50" width="87.00" height="2.36" fill="#006a00"/>
<rect x="473.5" y="925.86" width="87.00" height="1.64" fill="#006800"/>
<rect x="473.5" y="927.50" width="87.00" height="2.56" fill="#008a00"/>
<rect x="473.5" y="930.06" width="87.00" height="1.39" fill="#007000"/>
<rect x="473.5" y="931.45" width="87.00" height="1.41" fill="#008600"/>
<rect x="473.5" y="932.86" width="87.00" height="1.84" fill="#006700"/>
<rect x="473.5" y="934.70" width="87.00" height="2.13" fill="#007500"/>
<rect x="473.5" y="936.83" width="87.00" height="1.51" fill="#009a00"/>
<rect x="473.5" y="938.34" width="87.00" height="2.56" fill="#009300"/>
<rect x="473.5" y="940.89" width="87.00" height="2.53" fill="#008400"/>
<rect x="473.5" y="943.43" width="87.00" height="1.11" fill="#007a00"/>
<rect x="473.5" y="944.54" width="87.00" height="2.05" fill="#009600"/>
<rect x="473.5" y="946.59" width="87.00" height="1.58" fill="#006a00"/>
<rect x="473.5" y="948.17" width="87.00" height="2.64" fill="#008b00"/>
<rect x="473.5" y="950.81" width="87.00" height="2.45" fill="#007f00"/>
<rect x="473.5" y="953.26" width="87.00" height="1.52" fill="#007700"/>
<rect x="473.5" y="954.78" width="87.00" height="1.26" fill="#007900"/>
<rect x="473.5" y="956.04" width="87.00" height="1.98" fill="#009800"/>
<rect x="473.5" y="958.01" width="87.00" height="2.66" fill="#007f00"/>
<rect x="473.5" y="960.67" width="87.00" height="1.38" fill="#009800"/>
<rect x="473.5" y="962.06" width="87.00" height="1.03" fill="#006a00"/>
<rect x="473.5" y="963.09" width="87.00" height="2.17" fill="#008500"/>
<rect x="473.5" y="965.26" width="87.00" height="2.69" fill="#008900"/>
<rect x="473.5" y="967.95" width="87.00" height="2.40" fill="#009400"/>
<rect x="473.5" y="970.35" width="87.00" height="2.64" fill="#009400"/>
<rect x="473.5" y="972.99" width="87.00" height="1.88" fill="#008700"/>
<rect x="473.5" y="974.87" width="87.00" height="0.13" fill="#006800"/>
<rect x="303.5" y="975.00" width="87.00" height="62.00" fill="#7a0000"/>
<rect x="303.5" y="975.00" width="87.00" height="1.27" fill="#780000"/>
<rect x="303.5" y="976.27" width="87.00" height="2.33" fill="#840000"/>
<rect x="303.5" y="978.60" width="87.00" height="2.26" fill="#770000"/>
<rect x="303.5" y="980.86" width="87.00" height="2.38" fill="#7c0000"/>
<rect x="303.5" y="983.24" width="87.00" height="1.16" fill="#780000"/>
<rect x="303.5" y="984.40" width="87.00" height="1.10" fill="#8f0000"/>
<rect x="303.5" y="985.50" width="87.00" height="2.63" fill="#720000"/>
<rect x="303.5" y="988.13" width="87.00" height="1.55" fill="#870000"/>
<rect x="303.5" y="989.68" width="87.00" height="1.37" fill="#6a0000"/>
<rect x="303.5" y="991.04" width="87.00" height="1.34" fill="#730000"/>
<rect x="303.5" y="992.38" width="87.00" height="2.08" fill="#910000"/>
<rect x="303.5" y="994.47" width="87.00" height="1.38" fill="#900000"/>
<rect x="303.5" y="995.85" width="87.00" height="1.96" fill="#8e0000"/>
<rect x="303.5" y="997.81" width="87.00" height="2.41" fill="#690000"/>
<rect x="303.5" y="1000.22" width="87.00" height="2.12" fill="#680000"/>
<rect x="303.5" y="1002.34" width="87.00" height="1.03" fill="#750000"/>
<rect x="303.5" y="1003.37" width="87.00" height="2.33" fill="#7d0000"/>
<rect x="303.5" y="1005.71" width="87.00" height="1.35" fill="#8b0000"/>
<rect x="303.5" y="1007.06" width="87.00" height="2.57" fill="#6d0000"/>
<rect x="303.5" y="1009.63" width="87.00" height="1.78" fill="#810000"/>
<rect x="303.5" y="1011.41" width="87.00" height="2.55" fill="#680000"/>
<rect x="303.5" y="1013.97" width="87.00" height="1.96" fill="#910000"/>
<rect x="303.5" y="1015.93" width="87.00" height="2.06" fill="#850000"/>
<rect x="303.5" y="1017.98" width="87.00" height="2.34" fill="#7a0000"/>
<rect x="303.5" y="1020.32" width="87.00" height="1.51" fill="#7e0000"/>
<rect x="303.5" y="1021.83" width="87.00" height="1.92" fill="#720000"/>
<rect x="303.5" y="1023.75" width="87.00" height="2.47" fill="#730000"/>
<rect x="303.5" y="1026.22" width="87.00" height="1.84" fill="#870000"/>
<rect x="303.5" y="1028.06" width="87.00" height="2.40" fill="#8d0000"/>
<rect x="303.5" y="1030.47" width="87.00" height="2.13" fill="#6e0000"/>
<rect x="303.5" y="1032.60" width="87.00" height="2.46" fill="#8e0000"/>
<rect x="303.5" y="1035.06" width="87.00" height="1.94" fill="#870000"/>
<rect x="389.5" y="975.00" width="85.00" height="62.00" fill="#4b0000"/>
<rect x="389.5" y="975.00" width="85.00" height="2.01" fill="#420000"/>
<rect x="389.5" y="977.01" width="85.00" height="2.66" fill="#580000"/>
<rect x="389.5" y="979.67" width="85.00" height="1.81" fill="#500000"/>
<rect x="389.5" y="981.48" width="85.00" height="1.38" fill="#430000"/>
<rect x="389.5" y="982.87" width="85.00" height="1.51" fill="#510000"/>
<rect x="389.5" y="984.38" width="85.00" height="1.38" fill="#590000"/>
<rect x="389.5" y="985.76" width="85.00" height="1.14" fill="#420000"/>
<rect x="389.5" y="986.90" width="85.00" height="1.17" fill="#530000"/>
<rect x="389.5" y="988.07" width="85.00" height="1.64" fill="#4a0000"/>
<rect x="389.5" y="989.71" width="85.00" height="1.57" fill="#4f0000"/>
<rect x="389.5" y="991.29" width="85.00" height="1.71" fill="#420000"/>
<rect x="389.5" y="992.99" width="85.00" height="1.75" fill="#450000"/>
<rect x="389.5" y="994.75" width="85.00" height="1.21" fill="#550000"/>
<rect x="389.5" y="995.95" width="85.00" height="2.18" fill="#500000"/>
<rect x="389.5" y="998.13" width="85.00" height="2.52" fill="#480000"/>
<rect x="389.5" y="1000.65" width="85.00" height="1.66" fill="#490000"/>
<rect x="389.5" y="1002.31" width="85.00" height="1.71" fill="#500000"/>
<rect x="389.5" y="1004.02" width="85.00" height="1.03" fill="#4a0000"/>
<rect x="389.5" y="1005.05" width="85.00" height="1.93" fill="#460000"/>
<rect x="389.5" y="1006.98" width="85.00" height="1.06" fill="#510000"/>
<rect x="389.5" y="1008.04" width="85.00" height="1.04" fill="#4d0000"/>
<rect x="389.5" y="1009.08" width="85.00" height="1.28" fill="#3d0000"/>
<rect x="389.5" y="1010.36" width="85.00" height="1.33" fill="#3e0000"/>
<rect x="389.5" y="1011.68" width="85.00" height="1.28" fill="#510000"/>
<rect x="389.5" y="1012.96" width="85.00" height="2.26" fill="#470000"/>
<rect x="389.5" y="1015.22" width="85.00" height="2.13" fill="#4a0000"/>
<rect x="389.5" y="1017.35" width="85.00" height="1.87" fill="#560000"/>
<rect x="389.5" y="1019.22" width="85.00" height="1.55" fill="#560000"/>
<rect x="389.5" y="1020.76" width="85.00" height="2.19" fill="#510000"/>
<rect x="389.5" y="1022.96" width="85.00" height="1.03" fill="#3f0000"/>
<rect x="389.5" y="1023.99" width="85.00" height="1.07" fill="#460000"/>
<rect x="389.5" y="1025.06" width="85.00" height="2.63" fill="#560000"/>
<rect x="389.5" y="1027.69" width="85.00" height="2.45" fill="#400000"/>
<rect x="389.5" y="1030.14" width="85.00" height="2.22" fill="#530000"/>
<rect x="389.5" y="1032.36" width="85.00" height="2.40" fill="#540000"/>
<rect x="389.5" y="1034.75" width="85.00" height="1.26" fill="#410000"/>
<rect x="389.5" y="1036.01" width="85.00" height="0.99" fill="#520000"/>
<rect x="473.5" y="975.00" width="87.00" height="62.00" fill="#00c800"/>
<rect x="473.5" y="975.00" width="87.00" height="1.27" fill="#00d100"/>
<rect x="473.5" y="976.27" width="87.00" height="1.31" fill="#00d900"/>
<rect x="473.5" y="977.58" width="87.00" height="2.05" fill="#00bf00"/>
<rect x="473.5" y="979.63" width="87.00" height="2.07" fill="#00cd00"/>
<rect x="473.5" y="981.70" width="87.00" height="1.09" fill="#00ca00"/>
<rect x="473.5" y="982.80" width="87.00" height="2.07" fill="#00ca00"/>
<rect x="473.5" y="984.87" width="87.00" height="2.52" fill="#00db00"/>
<rect x="473.5" y="987.39" width="87.00" height="1.66" fill="#00b200"/>
<rect x="473.5" y="989.05" width="87.00" height="1.24" fill="#00e100"/>
<rect x="473.5" y="990.28" width="87.00" height="2.19" fill="#00d100"/>
<rect x="473.5" y="992.48" width="87.00" height="1.77" fill="#00c800"/>
<rect x="473.5" y="994.25" width="87.00" height="1.40" fill="#00ca00"/>
<rect x="473.5" y="995.65" width="87.00" height="1.27" fill="#00d200"/>
<rect x="473.5" y="996.91" width="87.00" height="2.09" fill="#00d600"/>
<rect x="473.5" y="999.00" width="87.00" height="1.44" fill="#00a700"/>
<rect x="473.5" y="1000.44" width="87.00" height="1.59" fill="#00d700"/>
<rect x="473.5" y="1002.03" width="87.00" height="1.89" fill="#00dc00"/>
<rect x="473.5" y="1003.92" width="87.00" height="1.75" fill="#00c000"/>
<rect x="473.5" y="1005.67" width="87.00" height="2.56" fill="#00ad00"/>
<rect x="473.5" y="1008.23" width="87.00" height="1.37" fill="#00cf00"/>
<rect x="473.5" y="1009.60" width="87.00" height="2.09" fill="#00c300"/>
<rect x="473.5" y="1011.70" width="87.00" height="1.97" fill="#00c300"/>
<rect x="473.5" y="1013.67" width="87.00" height="2.16" fill="#00e700"/>
<rect x="473.5" y="1015.82" width="87.00" height="2.42" fill="#00d300"/>
<rect x="473.5" y="1018.25" width="87.00" height="1.82" fill="#00ec00"/>
<rect x="473.5" y="1020.06" width="87.00" height="1.78" fill="#00d200"/>
<rect x="473.5" y="1021.84" width="87.00" height="2.50" fill="#00d700"/>
<rect x="473.5" y="1024.34" width="87.00" height="1.68" fill="#00db00"/>
<rect x="473.5" y="1026.03" width="87.00" height="2.04" fill="#00e900"/>
<rect x="473.5" y="1028.07" width="87.00" height="2.08" fill="#00cb00"/>
<rect x="473.5" y="1030.14" width="87.00" height="2.68" fill="#00ca00"/>
<rect x="473.5" y="1032.82" width="87.00" height="1.70" fill="#00eb00"/>
<rect x="473.5" y="1034.52" width="87.00" height="2.48" fill="#00ae00"/>
<rect x="303.5" y="1037.00" width="87.00" height="33.00" fill="#c80000"/>
<rect x="303.5" y="1037.00" width="87.00" height="2.61" fill="#bf0000"/>
<rect x="303.5" y="1039.61" width="87.00" height="2.42" fill="#b40000"/>
<rect x="303.5" y="1042.03" width="87.00" height="1.84" fill="#b60000"/>
<rect x="303.5" y="1043.86" width="87.00" height="1.94" fill="#a60000"/>
<rect x="303.5" y="1045.81" width="87.00" height="1.73" fill="#b90000"/>
<rect x="303.5" y="1047.53" width="87.00" height="1.09" fill="#e10000"/>
<rect x="303.5" y="1048.62" width="87.00" height="2.57" fill="#ac0000"/>
<rect x="303.5" y="1051.19" width="87.00" height="2.09" fill="#ca0000"/>
<rect x="303.5" y="1053.29" width="87.00" height="1.74" fill="#cf0000"/>
<rect x="303.5" y="1055.03" width="87.00" height="2.14" fill="#b60000"/>
<rect x="303.5" y="1057.18" width="87.00" height="1.64" fill="#c90000"/>
<rect x="303.5" y="1058.81" width="87.00" height="2.71" fill="#ea0000"/>
<rect x="303.5" y="1061.52" width="87.00" height="2.34" fill="#c50000"/>
<rect x="303.5" y="1063.86" width="87.00" height="2.56" fill="#ee0000"/>
<rect x="303.5" y="1066.43" width="87.00" height="2.52" fill="#b00000"/>
<rect x="303.5" y="1068.95" width="87.00" height="1.05" fill="#b20000"/>
<rect x="389.5" y="1037.00" width="85.00" height="33.00" fill="#000e00"/>
<rect x="389.5" y="1037.00" width="85.00" height="2.43" fill="#000c00"/>
<rect x="389.5" y="1039.43" width="85.00" height="2.62" fill="#000e00"/>
<rect x="389.5" y="1042.05" width="85.00" height="1.70" fill="#000f00"/>
<rect x="389.5" y="1043.74" width="85.00" height="1.31" fill="#000c00"/>
<rect x="389.5" y="1045.05" width="85.00" height="1.74" fill="#000c00"/>
<rect x="389.5" y="1046.79" width="85.00" height="2.16" fill="#000e00"/>
<rect x="389.5" y="1048.95" width="85.00" height="1.67" fill="#000d00"/>
<rect x="389.5" y="1050.62" width="85.00" height="1.40" fill="#000f00"/>
<rect x="389.5" y="1052.02" width="85.00" height="2.55" fill="#000d00"/>
<rect x="389.5" y="1054.57" width="85.00" height="2.39" fill="#000d00"/>
<rect x="389.5" y="1056.96" width="85.00" height="2.31" fill="#000d00"/>
<rect x="389.5" y="1059.27" width="85.00" height="1.99" fill="#000d00"/>
<rect x="389.5" y="1061.26" width="85.00" height="2.50" fill="#000f00"/>
<rect x="389.5" y="1063.76" width="85.00" height="1.20" fill="#000c00"/>
<rect x="389.5" y="1064.96" width="85.00" height="1.80" fill="#000c00"/>
<rect x="389.5" y="1066.76" width="85.00" height="1.42" fill="#001100"/>
<rect x="389.5" y="1068.19" width="85.00" height="1.81" fill="#000b00"/>
<rect x="473.5" y="1037.00" width="87.00" height="33.00" fill="#007800"/>
<rect x="473.5" y="1037.00" width="87.00" height="1.84" fill="#008000"/>
<rect x="473.5" y="1038.84" width="87.00" height="2.07" fill="#008200"/>
<rect x="473.5" y="1040.91" width="87.00" height="2.55" fill="#008400"/>
<rect x="473.5" y="1043.47" width="87.00" height="1.30" fill="#006b00"/>
<rect x="473.5" y="1044.76" width="87.00" height="1.79" fill="#007300"/>
<rect x="473.5" y="1046.56" width="87.00" height="2.66" fill="#008300"/>
<rect x="473.5" y="1049.21" width="87.00" height="1.82" fill="#007100"/>
<rect x="473.5" y="1051.03" width="87.00" height="1.41" fill="#007d00"/>
<rect x="473.5" y="1052.44" width="87.00" height="2.59" fill="#006800"/>
<rect x="473.5" y="1055.03" width="87.00" height="1.79" fill="#007100"/>
<rect x="473.5" y="1056.81" width="87.00" height="2.06" fill="#006c00"/>
<rect x="473.5" y="1058.87" width="87.00" height="1.13" fill="#008000"/>
<rect x="473.5" y="1060.00" width="87.00" height="1.54" fill="#007f00"/>
<rect x="473.5" y="1061.54" width="87.00" height="2.56" fill="#007c00"/>
<rect x="473.5" y="1064.11" width="87.00" height="2.57" fill="#008700"/>
<rect x="473.5" y="1066.68" width="87.00" height="1.13" fill="#006c00"/>
<rect x="473.5" y="1067.80" width="87.00" height="2.15" fill="#007700"/>
<rect x="473.5" y="1069.95" width="87.00" height="0.05" fill="#008700"/>
<rect x="303.5" y="1070.00" width="87.00" height="22.00" fill="#be0000"/>
<rect x="303.5" y="1070.00" width="87.00" height="1.90" fill="#a60000"/>
<rect x="303.5" y="1071.90" width="87.00" height="2.64" fill="#c80000"/>
<rect x="303.5" y="1074.54" width="87.00" height="2.02" fill="#df0000"/>
<rect x="303.5" y="1076.56" width="87.00" height="1.18" fill="#d40000"/>
<rect x="303.5" y="1077.73" width="87.00" height="1.40" fill="#ab0000"/>
<rect x="303.5" y="1079.13" width="87.00" height="1.57" fill="#d00000"/>
<rect x="303.5" y="1080.70" width="87.00" height="2.62" fill="#ce0000"/>
<rect x="303.5" y="1083.32" width="87.00" height="1.56" fill="#a20000"/>
<rect x="303.5" y="1084.88" width="87.00" height="1.51" fill="#a90000"/>
<rect x="303.5" y="1086.38" width="87.00" height="1.87" fill="#bf0000"/>
<rect x="303.5" y="1088.26" width="87.00" height="1.22" fill="#a80000"/>
<rect x="303.5" y="1089.47" width="87.00" height="2.51" fill="#cd0000"/>
<rect x="303.5" y="1091.99" width="87.00" height="0.01" fill="#da0000"/>
<rect x="389.5" y="1070.00" width="85.00" height="22.00" fill="#500000"/>
<rect x="389.5" y="1070.00" width="85.00" height="1.17" fill="#530000"/>
<rect x="389.5" y="1071.17" width="85.00" height="1.70" fill="#5d0000"/>
<rect x="389.5" y="1072.86" width="85.00" height="2.06" fill="#510000"/>
<rect x="389.5" y="1074.93" width="85.00" height="2.61" fill="#490000"/>
<rect x="389.5" y="1077.54" width="85.00" height="2.46" fill="#4e0000"/>
<rect x="389.5" y="1080.01" width="85.00" height="2.17" fill="#5f0000"/>
<rect x="389.5" y="1082.18" width="85.00" height="2.39" fill="#530000"/>
<rect x="389.5" y="1084.57" width="85.00" height="2.39" fill="#410000"/>
<rect x="389.5" y="1086.96" width="85.00" height="1.75" fill="#5c0000"/>
<rect x="389.5" y="1088.71" width="85.00" height="2.30" fill="#4e0000"/>
<rect x="389.5" y="1091.01" width="85.00" height="0.99" fill="#4b0000"/>
<rect x="473.5" y="1070.00" width="87.00" height="22.00" fill="#00f500"/>
<rect x="473.5" y="1070.00" width="87.00" height="1.89" fill="#00ff00"/>
<rect x="473.5" y="1071.89" width="87.00" height="1.53" fill="#00ff00"/>
<rect x="473.5" y="1073.42" width="87.00" height="2.26" fill="#00ff00"/>
<rect x="473.5" y="1075.68" width="87.00" height="1.80" fill="#00ff00"/>
<rect x="473.5" y="1077.48" width="87.00" height="2.27" fill="#00fe00"/>
<rect x="473.5" y="1079.75" width="87.00" height="1.20" fill="#00f000"/>
<rect x="473.5" y="1080.95" width="87.00" height="2.67" fill="#00fb00"/>
<rect x="473.5" y="1083.62" width="87.00" height="1.66" fill="#00ff00"/>
<rect x="473.5" y="1085.28" width="87.00" height="1.26" fill="#00e400"/>
<rect x="473.5" y="1086.54" width="87.00" height="2.34" fill="#00f200"/>
<rect x="473.5" y="1088.89" width="87.00" height="1.68" fill="#00ff00"/>
<rect x="473.5" y="1090.57" width="87.00" height="1.43" fill="#00f000"/>
</g>
<g filter="url(#hb2)">
<rect x="717" y="87.4" width="256" height="131.3" fill="#000"/>
<rect x="717" y="87.41" width="86.50" height="2.62" fill="#006e00"/>
<rect x="717" y="89.68" width="86.50" height="5.08" fill="#00be00"/>
<rect x="717" y="94.40" width="86.50" height="4.13" fill="#006e00"/>
<rect x="717" y="98.19" width="86.50" height="6.03" fill="#00c800"/>
<rect x="717" y="103.86" width="86.50" height="3.19" fill="#006400"/>
<rect x="717" y="106.70" width="86.50" height="4.13" fill="#00be00"/>
<rect x="717" y="110.49" width="86.50" height="1.49" fill="#004600"/>
<rect x="802.5" y="87.41" width="86.50" height="4.51" fill="#001900"/>
<rect x="802.5" y="91.57" width="86.50" height="2.24" fill="#005000"/>
<rect x="802.5" y="93.46" width="86.50" height="3.19" fill="#001400"/>
<rect x="802.5" y="96.30" width="86.50" height="2.24" fill="#003c00"/>
<rect x="802.5" y="98.19" width="86.50" height="3.19" fill="#001400"/>
<rect x="802.5" y="101.03" width="86.50" height="2.24" fill="#006400"/>
<rect x="802.5" y="102.92" width="86.50" height="3.19" fill="#001900"/>
<rect x="802.5" y="105.76" width="86.50" height="3.19" fill="#006e00"/>
<rect x="802.5" y="108.59" width="86.50" height="3.38" fill="#001900"/>
<rect x="888" y="87.41" width="85.00" height="3.57" fill="#960000"/>
<rect x="888" y="90.62" width="85.00" height="3.19" fill="#e60000"/>
<rect x="888" y="93.46" width="85.00" height="7.92" fill="#a00000"/>
<rect x="888" y="101.03" width="85.00" height="2.24" fill="#e60000"/>
<rect x="888" y="102.92" width="85.00" height="4.13" fill="#aa0000"/>
<rect x="888" y="106.70" width="85.00" height="3.19" fill="#f00000"/>
<rect x="888" y="109.54" width="85.00" height="2.43" fill="#960000"/>
<rect x="717" y="110.84" width="86.50" height="3.19" fill="#001400"/>
<rect x="717" y="113.68" width="86.50" height="3.19" fill="#002d00"/>
<rect x="717" y="116.51" width="86.50" height="3.19" fill="#001900"/>
<rect x="717" y="119.35" width="86.50" height="3.19" fill="#000f00"/>
<rect x="717" y="122.19" width="86.50" height="3.19" fill="#003c00"/>
<rect x="717" y="125.03" width="86.50" height="4.13" fill="#004600"/>
<rect x="717" y="128.81" width="86.50" height="3.19" fill="#003700"/>
<rect x="717" y="131.65" width="86.50" height="3.19" fill="#005a00"/>
<rect x="717" y="134.49" width="86.50" height="4.13" fill="#003c00"/>
<rect x="717" y="138.27" width="86.50" height="3.19" fill="#002300"/>
<rect x="717" y="141.11" width="86.50" height="3.19" fill="#005000"/>
<rect x="717" y="143.94" width="86.50" height="3.19" fill="#002800"/>
<rect x="717" y="146.78" width="86.50" height="3.19" fill="#005a00"/>
<rect x="717" y="149.62" width="86.50" height="4.13" fill="#002d00"/>
<rect x="717" y="153.40" width="86.50" height="4.13" fill="#001e00"/>
<rect x="717" y="157.19" width="86.50" height="6.03" fill="#003200"/>
<rect x="717" y="162.86" width="86.50" height="4.13" fill="#002d00"/>
<rect x="717" y="166.65" width="86.50" height="3.19" fill="#004600"/>
<rect x="717" y="169.48" width="86.50" height="3.19" fill="#005a00"/>
<rect x="717" y="172.32" width="86.50" height="3.19" fill="#002800"/>
<rect x="717" y="175.16" width="86.50" height="3.19" fill="#005000"/>
<rect x="717" y="178.00" width="86.50" height="3.19" fill="#003200"/>
<rect x="717" y="180.83" width="86.50" height="4.13" fill="#005500"/>
<rect x="802.5" y="110.84" width="86.50" height="6.97" fill="#001400"/>
<rect x="802.5" y="117.46" width="86.50" height="6.03" fill="#003200"/>
<rect x="802.5" y="123.13" width="86.50" height="4.13" fill="#001900"/>
<rect x="802.5" y="126.92" width="86.50" height="5.08" fill="#000a00"/>
<rect x="802.5" y="131.65" width="86.50" height="4.13" fill="#0a0000"/>
<rect x="802.5" y="135.43" width="86.50" height="5.08" fill="#001e00"/>
<rect x="802.5" y="140.16" width="86.50" height="4.13" fill="#000f00"/>
<rect x="802.5" y="143.94" width="86.50" height="9.81" fill="#000a00"/>
<rect x="802.5" y="153.40" width="86.50" height="11.70" fill="#003700"/>
<rect x="802.5" y="164.75" width="86.50" height="3.19" fill="#001400"/>
<rect x="802.5" y="167.59" width="86.50" height="3.19" fill="#002300"/>
<rect x="802.5" y="170.43" width="86.50" height="6.03" fill="#000a00"/>
<rect x="802.5" y="176.10" width="86.50" height="4.13" fill="#001e00"/>
<rect x="802.5" y="179.89" width="86.50" height="5.08" fill="#000f00"/>
<rect x="888" y="110.84" width="85.00" height="4.13" fill="#3c0000"/>
<rect x="888" y="114.62" width="85.00" height="5.08" fill="#640000"/>
<rect x="888" y="119.35" width="85.00" height="4.13" fill="#5a0000"/>
<rect x="888" y="123.13" width="85.00" height="5.08" fill="#780000"/>
<rect x="888" y="127.86" width="85.00" height="5.08" fill="#6e0000"/>
<rect x="888" y="132.59" width="85.00" height="4.13" fill="#460000"/>
<rect x="888" y="136.38" width="85.00" height="5.08" fill="#6e0000"/>
<rect x="888" y="141.11" width="85.00" height="5.08" fill="#500000"/>
<rect x="888" y="145.84" width="85.00" height="4.13" fill="#820000"/>
<rect x="888" y="149.62" width="85.00" height="6.03" fill="#500000"/>
<rect x="888" y="155.29" width="85.00" height="3.19" fill="#820000"/>
<rect x="888" y="158.13" width="85.00" height="12.65" fill="#690000"/>
<rect x="888" y="170.43" width="85.00" height="3.19" fill="#500000"/>
<rect x="888" y="173.27" width="85.00" height="6.03" fill="#6e0000"/>
<rect x="888" y="178.94" width="85.00" height="6.03" fill="#780000"/>
<rect x="717" y="184.62" width="86.50" height="5.08" fill="#960000"/>
<rect x="717" y="189.35" width="86.50" height="3.19" fill="#460000"/>
<rect x="717" y="192.18" width="86.50" height="5.08" fill="#140000"/>
<rect x="717" y="196.91" width="86.50" height="2.24" fill="#460000"/>
<rect x="717" y="198.81" width="86.50" height="4.13" fill="#190000"/>
<rect x="717" y="202.59" width="86.50" height="11.70" fill="#500000"/>
<rect x="717" y="213.94" width="86.50" height="5.27" fill="#320000"/>
<rect x="802.5" y="184.62" width="86.50" height="6.97" fill="#1e0000"/>
<rect x="802.5" y="191.24" width="86.50" height="4.13" fill="#0f0000"/>
<rect x="802.5" y="195.02" width="86.50" height="4.13" fill="#280000"/>
<rect x="802.5" y="198.81" width="86.50" height="4.13" fill="#0a0000"/>
<rect x="802.5" y="202.59" width="86.50" height="6.03" fill="#000f00"/>
<rect x="802.5" y="208.26" width="86.50" height="4.13" fill="#500000"/>
<rect x="802.5" y="212.05" width="86.50" height="7.16" fill="#0f0000"/>
<rect x="888" y="184.62" width="85.00" height="6.97" fill="#00aa00"/>
<rect x="888" y="191.24" width="85.00" height="4.13" fill="#003200"/>
<rect x="888" y="195.02" width="85.00" height="4.13" fill="#007800"/>
<rect x="888" y="198.81" width="85.00" height="4.13" fill="#003200"/>
<rect x="888" y="202.59" width="85.00" height="5.08" fill="#005000"/>
<rect x="888" y="207.32" width="85.00" height="6.03" fill="#00b400"/>
<rect x="888" y="212.99" width="85.00" height="6.21" fill="#005000"/>
</g>
<g filter="url(#hb2)">
<rect x="1126" y="87.8" width="257" height="99.9" fill="#000"/>
<rect x="1126" y="87.84" width="86.00" height="4.19" fill="#002300"/>
<rect x="1126" y="91.68" width="86.00" height="2.27" fill="#007800"/>
<rect x="1126" y="93.60" width="86.00" height="2.27" fill="#002800"/>
<rect x="1126" y="95.52" width="86.00" height="3.23" fill="#001e00"/>
<rect x="1126" y="98.40" width="86.00" height="7.07" fill="#001900"/>
<rect x="1126" y="105.13" width="86.00" height="6.11" fill="#001200"/>
<rect x="1126" y="110.89" width="86.00" height="6.50" fill="#002300"/>
<rect x="1126" y="117.03" width="86.00" height="4.77" fill="#008200"/>
<rect x="1126" y="121.45" width="86.00" height="6.11" fill="#001e00"/>
<rect x="1126" y="127.21" width="86.00" height="3.23" fill="#00c800"/>
<rect x="1126" y="130.09" width="86.00" height="9.95" fill="#003c00"/>
<rect x="1126" y="139.69" width="86.00" height="5.15" fill="#006e00"/>
<rect x="1126" y="144.50" width="86.00" height="10.14" fill="#002d00"/>
<rect x="1211" y="87.84" width="87.00" height="8.03" fill="#001900"/>
<rect x="1211" y="95.52" width="87.00" height="6.11" fill="#003200"/>
<rect x="1211" y="101.28" width="87.00" height="4.19" fill="#004600"/>
<rect x="1211" y="105.13" width="87.00" height="2.85" fill="#002d00"/>
<rect x="1211" y="107.62" width="87.00" height="2.65" fill="#005a00"/>
<rect x="1211" y="109.93" width="87.00" height="8.03" fill="#000a00"/>
<rect x="1211" y="117.61" width="87.00" height="5.15" fill="#006400"/>
<rect x="1211" y="122.41" width="87.00" height="5.15" fill="#002800"/>
<rect x="1211" y="127.21" width="87.00" height="12.83" fill="#000a00"/>
<rect x="1211" y="139.69" width="87.00" height="5.15" fill="#003c00"/>
<rect x="1211" y="144.50" width="87.00" height="10.14" fill="#002300"/>
<rect x="1297" y="87.84" width="86.00" height="4.19" fill="#6e0000"/>
<rect x="1297" y="91.68" width="86.00" height="3.23" fill="#820000"/>
<rect x="1297" y="94.56" width="86.00" height="14.75" fill="#640000"/>
<rect x="1297" y="108.97" width="86.00" height="8.03" fill="#320000"/>
<rect x="1297" y="116.65" width="86.00" height="6.11" fill="#c80000"/>
<rect x="1297" y="122.41" width="86.00" height="5.15" fill="#640000"/>
<rect x="1297" y="127.21" width="86.00" height="4.19" fill="#d20000"/>
<rect x="1297" y="131.05" width="86.00" height="8.99" fill="#5a0000"/>
<rect x="1297" y="139.69" width="86.00" height="6.11" fill="#d20000"/>
<rect x="1297" y="145.46" width="86.00" height="9.18" fill="#640000"/>
<rect x="1126" y="154.10" width="86.00" height="5.15" fill="#1e0000"/>
<rect x="1126" y="158.90" width="86.00" height="4.19" fill="#5a0000"/>
<rect x="1126" y="162.74" width="86.00" height="7.07" fill="#0a0000"/>
<rect x="1126" y="169.46" width="86.00" height="3.23" fill="#6e0000"/>
<rect x="1126" y="172.34" width="86.00" height="9.95" fill="#140000"/>
<rect x="1126" y="181.95" width="86.00" height="4.19" fill="#5a0000"/>
<rect x="1126" y="185.79" width="86.00" height="2.46" fill="#280000"/>
<rect x="1211" y="154.10" width="87.00" height="5.15" fill="#0f0000"/>
<rect x="1211" y="158.90" width="87.00" height="4.19" fill="#3c0000"/>
<rect x="1211" y="162.74" width="87.00" height="8.99" fill="#1e0000"/>
<rect x="1211" y="171.38" width="87.00" height="3.23" fill="#320000"/>
<rect x="1211" y="174.26" width="87.00" height="4.19" fill="#140000"/>
<rect x="1211" y="178.10" width="87.00" height="3.23" fill="#3c0000"/>
<rect x="1211" y="180.98" width="87.00" height="7.26" fill="#0a0000"/>
<rect x="1297" y="154.10" width="86.00" height="6.11" fill="#003c00"/>
<rect x="1297" y="159.86" width="86.00" height="3.23" fill="#00c800"/>
<rect x="1297" y="162.74" width="86.00" height="7.07" fill="#003200"/>
<rect x="1297" y="169.46" width="86.00" height="3.23" fill="#006e00"/>
<rect x="1297" y="172.34" width="86.00" height="9.95" fill="#002800"/>
<rect x="1297" y="181.95" width="86.00" height="6.30" fill="#005000"/>
</g>
<path d="M297.2,89.8 H280.0 V100.2 H297.2" fill="none" stroke="#000" stroke-width="3.6" stroke-linejoin="miter" filter="url(#sh)"/>
<path d="M297.2,105.8 H280.0 V146.2 H297.2" fill="none" stroke="#000" stroke-width="3.6" stroke-linejoin="miter" filter="url(#sh)"/>
<path d="M297.2,152.10000000000002 H280.0 V241.79999999999998 H297.2" fill="none" stroke="#000" stroke-width="3.6" stroke-linejoin="miter" filter="url(#sh)"/>
<path d="M297.2,248.20000000000002 H280.0 V338.5 H297.2" fill="none" stroke="#000" stroke-width="3.6" stroke-linejoin="miter" filter="url(#sh)"/>
<path d="M297.2,345.8 H280.0 V462.2 H297.2" fill="none" stroke="#000" stroke-width="3.6" stroke-linejoin="miter" filter="url(#sh)"/>
<path d="M297.2,468.8 H280.0 V633.0 H297.2" fill="none" stroke="#000" stroke-width="3.6" stroke-linejoin="miter" filter="url(#sh)"/>
<path d="M297.2,638.0 H280.0 V700.7 H297.2" fill="none" stroke="#000" stroke-width="3.6" stroke-linejoin="miter" filter="url(#sh)"/>
<path d="M297.2,707.5 H280.0 V816.8000000000001 H297.2" fill="none" stroke="#000" stroke-width="3.6" stroke-linejoin="miter" filter="url(#sh)"/>
<path d="M297.2,823.5999999999999 H280.0 V891.7 H297.2" fill="none" stroke="#000" stroke-width="3.6" stroke-linejoin="miter" filter="url(#sh)"/>
<path d="M297.2,897.5 H280.0 V971.9000000000001 H297.2" fill="none" stroke="#000" stroke-width="3.6" stroke-linejoin="miter" filter="url(#sh)"/>
<path d="M297.2,976.3 H280.0 V1032.5 H297.2" fill="none" stroke="#000" stroke-width="3.6" stroke-linejoin="miter" filter="url(#sh)"/>
<path d="M297.2,1039.8 H280.0 V1065.2 H297.2" fill="none" stroke="#000" stroke-width="3.6" stroke-linejoin="miter" filter="url(#sh)"/>
<path d="M297.2,1071.6 H280.0 V1090.8 H297.2" fill="none" stroke="#000" stroke-width="3.6" stroke-linejoin="miter" filter="url(#sh)"/>
<text x="196.1" y="104.7" font-family="Liberation Sans" font-weight="bold" font-size="23.5" text-anchor="start" stroke="#000" stroke-width="0.45" >1 (28)</text>
<text x="197.0" y="136.6" font-family="Liberation Sans" font-weight="bold" font-size="23.5" text-anchor="start" stroke="#000" stroke-width="0.45" >2 (97)</text>
<text x="195.5" y="202.3" font-family="Liberation Sans" font-weight="bold" font-size="23.5" text-anchor="start" stroke="#000" stroke-width="0.45" >3 (206)</text>
<text x="195.0" y="301.3" font-family="Liberation Sans" font-weight="bold" font-size="23.5" text-anchor="start" stroke="#000" stroke-width="0.45" >4 (203)</text>
<text x="196.9" y="412.3" font-family="Liberation Sans" font-weight="bold" font-size="23.5" text-anchor="start" stroke="#000" stroke-width="0.45" >5 (264)</text>
<text x="195.5" y="556" font-family="Liberation Sans" font-weight="bold" font-size="23.5" text-anchor="start" stroke="#000" stroke-width="0.45" >6 (356)</text>
<text x="195.0" y="677.5" font-family="Liberation Sans" font-weight="bold" font-size="23.5" text-anchor="start" stroke="#000" stroke-width="0.45" >7 (147)</text>
<text x="191.3" y="772.5" font-family="Liberation Sans" font-weight="bold" font-size="23.5" text-anchor="start" stroke="#000" stroke-width="0.45" >8 (239)</text>
<text x="190.7" y="866.4" font-family="Liberation Sans" font-weight="bold" font-size="23.5" text-anchor="start" stroke="#000" stroke-width="0.45" >9 (165)</text>
<text x="179.3" y="945.2" font-family="Liberation Sans" font-weight="bold" font-size="23.5" text-anchor="start" stroke="#000" stroke-width="0.45" >10 (165)</text>
<text x="181.3" y="1013.5" font-family="Liberation Sans" font-weight="bold" font-size="23.5" text-anchor="start" stroke="#000" stroke-width="0.45" >11 (132)</text>
<text x="180.4" y="1058.5" font-family="Liberation Sans" font-weight="bold" font-size="23.5" text-anchor="start" stroke="#000" stroke-width="0.45" >12 (69)</text>
<text x="181.3" y="1089.8" font-family="Liberation Sans" font-weight="bold" font-size="23.5" text-anchor="start" stroke="#000" stroke-width="0.45" >13 (65)</text>
<path d="M711.4,89.89999999999999 H694.1999999999999 V109.2 H711.4" fill="none" stroke="#000" stroke-width="3.6" stroke-linejoin="miter" filter="url(#sh)"/>
<path d="M711.4,116.8 H694.1999999999999 V181.7 H711.4" fill="none" stroke="#000" stroke-width="3.6" stroke-linejoin="miter" filter="url(#sh)"/>
<path d="M711.4,189.10000000000002 H694.1999999999999 V217.89999999999998 H711.4" fill="none" stroke="#000" stroke-width="3.6" stroke-linejoin="miter" filter="url(#sh)"/>
<text x="623.0" y="105.7" font-family="Liberation Sans" font-weight="bold" font-size="23.5" text-anchor="start" stroke="#000" stroke-width="0.45" >1 (12)</text>
<text x="624.5" y="157" font-family="Liberation Sans" font-weight="bold" font-size="23.5" text-anchor="start" stroke="#000" stroke-width="0.45" >2 (37)</text>
<text x="626.5" y="208.4" font-family="Liberation Sans" font-weight="bold" font-size="23.5" text-anchor="start" stroke="#000" stroke-width="0.45" >3 (17)</text>
<path d="M1120.5,90.39999999999999 H1103.3999999999999 V149.2 H1120.5" fill="none" stroke="#000" stroke-width="3.6" stroke-linejoin="miter" filter="url(#sh)"/>
<path d="M1120.5,156.70000000000002 H1103.3999999999999 V185.5 H1120.5" fill="none" stroke="#000" stroke-width="3.6" stroke-linejoin="miter" filter="url(#sh)"/>
<text x="1035.3" y="126" font-family="Liberation Sans" font-weight="bold" font-size="23.5" text-anchor="start" stroke="#000" stroke-width="0.45" >1 (27)</text>
<text x="1035.3" y="177.3" font-family="Liberation Sans" font-weight="bold" font-size="23.5" text-anchor="start" stroke="#000" stroke-width="0.45" >2 (13)</text>
<rect x="78" y="1189" width="518.6" height="296.3" fill="none" stroke="#2a3690" stroke-width="1.7"/>
<text x="68.3" y="1191.9" font-family="Liberation Mono" font-weight="bold" font-size="11.6" fill="#2a3690" stroke="#2a3690" stroke-width="0.25" text-anchor="end" textLength="8.8" lengthAdjust="spacingAndGlyphs">2</text>
<text x="603.6" y="1191.9" font-family="Liberation Mono" font-weight="bold" font-size="11.6" fill="#2a3690" stroke="#2a3690" stroke-width="0.25" text-anchor="start" textLength="8.8" lengthAdjust="spacingAndGlyphs">2</text>
<line x1="78" y1="1218.6" x2="86" y2="1218.6" stroke="#2a3690" stroke-width="1.7"/>
<line x1="588.6" y1="1218.6" x2="596.6" y2="1218.6" stroke="#2a3690" stroke-width="1.7"/>
<line x1="78" y1="1248.3" x2="86" y2="1248.3" stroke="#2a3690" stroke-width="1.7"/>
<line x1="588.6" y1="1248.3" x2="596.6" y2="1248.3" stroke="#2a3690" stroke-width="1.7"/>
<text x="68.3" y="1251.2" font-family="Liberation Mono" font-weight="bold" font-size="11.6" fill="#2a3690" stroke="#2a3690" stroke-width="0.25" text-anchor="end" textLength="26.4" lengthAdjust="spacingAndGlyphs">1.2</text>
<text x="603.6" y="1251.2" font-family="Liberation Mono" font-weight="bold" font-size="11.6" fill="#2a3690" stroke="#2a3690" stroke-width="0.25" text-anchor="start" textLength="26.4" lengthAdjust="spacingAndGlyphs">1.2</text>
<line x1="78" y1="1277.9" x2="86" y2="1277.9" stroke="#2a3690" stroke-width="1.7"/>
<line x1="588.6" y1="1277.9" x2="596.6" y2="1277.9" stroke="#2a3690" stroke-width="1.7"/>
<line x1="78" y1="1307.5" x2="86" y2="1307.5" stroke="#2a3690" stroke-width="1.7"/>
<line x1="588.6" y1="1307.5" x2="596.6" y2="1307.5" stroke="#2a3690" stroke-width="1.7"/>
<text x="68.3" y="1310.4" font-family="Liberation Mono" font-weight="bold" font-size="11.6" fill="#2a3690" stroke="#2a3690" stroke-width="0.25" text-anchor="end" textLength="26.4" lengthAdjust="spacingAndGlyphs">0.4</text>
<text x="603.6" y="1310.4" font-family="Liberation Mono" font-weight="bold" font-size="11.6" fill="#2a3690" stroke="#2a3690" stroke-width="0.25" text-anchor="start" textLength="26.4" lengthAdjust="spacingAndGlyphs">0.4</text>
<line x1="78" y1="1337.2" x2="86" y2="1337.2" stroke="#2a3690" stroke-width="1.7"/>
<line x1="588.6" y1="1337.2" x2="596.6" y2="1337.2" stroke="#2a3690" stroke-width="1.7"/>
<line x1="78" y1="1366.8" x2="86" y2="1366.8" stroke="#2a3690" stroke-width="1.7"/>
<line x1="588.6" y1="1366.8" x2="596.6" y2="1366.8" stroke="#2a3690" stroke-width="1.7"/>
<text x="68.3" y="1369.7" font-family="Liberation Mono" font-weight="bold" font-size="11.6" fill="#2a3690" stroke="#2a3690" stroke-width="0.25" text-anchor="end" textLength="35.2" lengthAdjust="spacingAndGlyphs">-0.4</text>
<text x="603.6" y="1369.7" font-family="Liberation Mono" font-weight="bold" font-size="11.6" fill="#2a3690" stroke="#2a3690" stroke-width="0.25" text-anchor="start" textLength="35.2" lengthAdjust="spacingAndGlyphs">-0.4</text>
<line x1="78" y1="1396.4" x2="86" y2="1396.4" stroke="#2a3690" stroke-width="1.7"/>
<line x1="588.6" y1="1396.4" x2="596.6" y2="1396.4" stroke="#2a3690" stroke-width="1.7"/>
<line x1="78" y1="1426.0" x2="86" y2="1426.0" stroke="#2a3690" stroke-width="1.7"/>
<line x1="588.6" y1="1426.0" x2="596.6" y2="1426.0" stroke="#2a3690" stroke-width="1.7"/>
<text x="68.3" y="1428.9" font-family="Liberation Mono" font-weight="bold" font-size="11.6" fill="#2a3690" stroke="#2a3690" stroke-width="0.25" text-anchor="end" textLength="35.2" lengthAdjust="spacingAndGlyphs">-1.2</text>
<text x="603.6" y="1428.9" font-family="Liberation Mono" font-weight="bold" font-size="11.6" fill="#2a3690" stroke="#2a3690" stroke-width="0.25" text-anchor="start" textLength="35.2" lengthAdjust="spacingAndGlyphs">-1.2</text>
<line x1="78" y1="1455.7" x2="86" y2="1455.7" stroke="#2a3690" stroke-width="1.7"/>
<line x1="588.6" y1="1455.7" x2="596.6" y2="1455.7" stroke="#2a3690" stroke-width="1.7"/>
<text x="68.3" y="1488.2" font-family="Liberation Mono" font-weight="bold" font-size="11.6" fill="#2a3690" stroke="#2a3690" stroke-width="0.25" text-anchor="end" textLength="17.6" lengthAdjust="spacingAndGlyphs">-2</text>
<text x="603.6" y="1488.2" font-family="Liberation Mono" font-weight="bold" font-size="11.6" fill="#2a3690" stroke="#2a3690" stroke-width="0.25" text-anchor="start" textLength="17.6" lengthAdjust="spacingAndGlyphs">-2</text>
<line x1="207.7" y1="1485.3" x2="207.7" y2="1479.3" stroke="#2a3690" stroke-width="2"/>
<text transform="translate(212.5,1505.9) rotate(-90)" font-family="Liberation Mono" font-size="16.8" fill="#2a3690" stroke="#2a3690" stroke-width="0.1" textLength="13.6" lengthAdjust="spacingAndGlyphs">S2</text>
<line x1="337.3" y1="1485.3" x2="337.3" y2="1479.3" stroke="#2a3690" stroke-width="2"/>
<text transform="translate(342.1,1505.9) rotate(-90)" font-family="Liberation Mono" font-size="16.8" fill="#2a3690" stroke="#2a3690" stroke-width="0.1" textLength="13.6" lengthAdjust="spacingAndGlyphs">S6</text>
<line x1="467.0" y1="1485.3" x2="467.0" y2="1479.3" stroke="#2a3690" stroke-width="2"/>
<text transform="translate(471.8,1505.9) rotate(-90)" font-family="Liberation Mono" font-size="16.8" fill="#2a3690" stroke="#2a3690" stroke-width="0.1" textLength="13.6" lengthAdjust="spacingAndGlyphs">S8</text>
<text transform="translate(23.0,1418.8) rotate(-90)" font-family="Liberation Mono" font-size="21.6" fill="#2a3690" stroke="#2a3690" stroke-width="0.2" textLength="161.3" lengthAdjust="spacingAndGlyphs">Z-Score of Log2 Exp</text>
<text transform="translate(668.0,1435.7) rotate(-90)" font-family="Liberation Mono" font-size="21.6" fill="#2a3690" stroke="#2a3690" stroke-width="0.2" textLength="194.9" lengthAdjust="spacingAndGlyphs">Z-Score of %Methylation</text>
<text x="132.0" y="1217" font-family="Liberation Sans" font-weight="bold" font-size="26.6" stroke="#000" stroke-width="0.5" textLength="406.8" lengthAdjust="spacingAndGlyphs">CHH Cluster 1, Mean PCC: -0.930</text>
<polyline points="208.1,1394.7 336.2,1358.0 466.7,1254.5" fill="none" stroke="#e25a45" stroke-width="1.4"/>
<polyline points="208.1,1300.8 336.2,1290.8 466.7,1415.6" fill="none" stroke="#55d855" stroke-width="1.6"/>
<rect x="805.3" y="1191" width="518.2" height="296.4" fill="none" stroke="#2a3690" stroke-width="1.7"/>
<text x="795.6" y="1193.9" font-family="Liberation Mono" font-weight="bold" font-size="11.6" fill="#2a3690" stroke="#2a3690" stroke-width="0.25" text-anchor="end" textLength="8.8" lengthAdjust="spacingAndGlyphs">2</text>
<text x="1330.5" y="1193.9" font-family="Liberation Mono" font-weight="bold" font-size="11.6" fill="#2a3690" stroke="#2a3690" stroke-width="0.25" text-anchor="start" textLength="8.8" lengthAdjust="spacingAndGlyphs">2</text>
<line x1="805.3" y1="1220.6" x2="813.3" y2="1220.6" stroke="#2a3690" stroke-width="1.7"/>
<line x1="1315.5" y1="1220.6" x2="1323.5" y2="1220.6" stroke="#2a3690" stroke-width="1.7"/>
<line x1="805.3" y1="1250.3" x2="813.3" y2="1250.3" stroke="#2a3690" stroke-width="1.7"/>
<line x1="1315.5" y1="1250.3" x2="1323.5" y2="1250.3" stroke="#2a3690" stroke-width="1.7"/>
<text x="795.6" y="1253.2" font-family="Liberation Mono" font-weight="bold" font-size="11.6" fill="#2a3690" stroke="#2a3690" stroke-width="0.25" text-anchor="end" textLength="26.4" lengthAdjust="spacingAndGlyphs">1.2</text>
<text x="1330.5" y="1253.2" font-family="Liberation Mono" font-weight="bold" font-size="11.6" fill="#2a3690" stroke="#2a3690" stroke-width="0.25" text-anchor="start" textLength="26.4" lengthAdjust="spacingAndGlyphs">1.2</text>
<line x1="805.3" y1="1279.9" x2="813.3" y2="1279.9" stroke="#2a3690" stroke-width="1.7"/>
<line x1="1315.5" y1="1279.9" x2="1323.5" y2="1279.9" stroke="#2a3690" stroke-width="1.7"/>
<line x1="805.3" y1="1309.6" x2="813.3" y2="1309.6" stroke="#2a3690" stroke-width="1.7"/>
<line x1="1315.5" y1="1309.6" x2="1323.5" y2="1309.6" stroke="#2a3690" stroke-width="1.7"/>
<text x="795.6" y="1312.5" font-family="Liberation Mono" font-weight="bold" font-size="11.6" fill="#2a3690" stroke="#2a3690" stroke-width="0.25" text-anchor="end" textLength="26.4" lengthAdjust="spacingAndGlyphs">0.4</text>
<text x="1330.5" y="1312.5" font-family="Liberation Mono" font-weight="bold" font-size="11.6" fill="#2a3690" stroke="#2a3690" stroke-width="0.25" text-anchor="start" textLength="26.4" lengthAdjust="spacingAndGlyphs">0.4</text>
<line x1="805.3" y1="1339.2" x2="813.3" y2="1339.2" stroke="#2a3690" stroke-width="1.7"/>
<line x1="1315.5" y1="1339.2" x2="1323.5" y2="1339.2" stroke="#2a3690" stroke-width="1.7"/>
<line x1="805.3" y1="1368.8" x2="813.3" y2="1368.8" stroke="#2a3690" stroke-width="1.7"/>
<line x1="1315.5" y1="1368.8" x2="1323.5" y2="1368.8" stroke="#2a3690" stroke-width="1.7"/>
<text x="795.6" y="1371.7" font-family="Liberation Mono" font-weight="bold" font-size="11.6" fill="#2a3690" stroke="#2a3690" stroke-width="0.25" text-anchor="end" textLength="35.2" lengthAdjust="spacingAndGlyphs">-0.4</text>
<text x="1330.5" y="1371.7" font-family="Liberation Mono" font-weight="bold" font-size="11.6" fill="#2a3690" stroke="#2a3690" stroke-width="0.25" text-anchor="start" textLength="35.2" lengthAdjust="spacingAndGlyphs">-0.4</text>
<line x1="805.3" y1="1398.5" x2="813.3" y2="1398.5" stroke="#2a3690" stroke-width="1.7"/>
<line x1="1315.5" y1="1398.5" x2="1323.5" y2="1398.5" stroke="#2a3690" stroke-width="1.7"/>
<line x1="805.3" y1="1428.1" x2="813.3" y2="1428.1" stroke="#2a3690" stroke-width="1.7"/>
<line x1="1315.5" y1="1428.1" x2="1323.5" y2="1428.1" stroke="#2a3690" stroke-width="1.7"/>
<text x="795.6" y="1431.0" font-family="Liberation Mono" font-weight="bold" font-size="11.6" fill="#2a3690" stroke="#2a3690" stroke-width="0.25" text-anchor="end" textLength="35.2" lengthAdjust="spacingAndGlyphs">-1.2</text>
<text x="1330.5" y="1431.0" font-family="Liberation Mono" font-weight="bold" font-size="11.6" fill="#2a3690" stroke="#2a3690" stroke-width="0.25" text-anchor="start" textLength="35.2" lengthAdjust="spacingAndGlyphs">-1.2</text>
<line x1="805.3" y1="1457.8" x2="813.3" y2="1457.8" stroke="#2a3690" stroke-width="1.7"/>
<line x1="1315.5" y1="1457.8" x2="1323.5" y2="1457.8" stroke="#2a3690" stroke-width="1.7"/>
<text x="795.6" y="1490.3" font-family="Liberation Mono" font-weight="bold" font-size="11.6" fill="#2a3690" stroke="#2a3690" stroke-width="0.25" text-anchor="end" textLength="17.6" lengthAdjust="spacingAndGlyphs">-2</text>
<text x="1330.5" y="1490.3" font-family="Liberation Mono" font-weight="bold" font-size="11.6" fill="#2a3690" stroke="#2a3690" stroke-width="0.25" text-anchor="start" textLength="17.6" lengthAdjust="spacingAndGlyphs">-2</text>
<line x1="934.8" y1="1487.4" x2="934.8" y2="1481.4" stroke="#2a3690" stroke-width="2"/>
<text transform="translate(939.6,1508.0) rotate(-90)" font-family="Liberation Mono" font-size="16.8" fill="#2a3690" stroke="#2a3690" stroke-width="0.1" textLength="13.6" lengthAdjust="spacingAndGlyphs">S2</text>
<line x1="1064.4" y1="1487.4" x2="1064.4" y2="1481.4" stroke="#2a3690" stroke-width="2"/>
<text transform="translate(1069.2,1508.0) rotate(-90)" font-family="Liberation Mono" font-size="16.8" fill="#2a3690" stroke="#2a3690" stroke-width="0.1" textLength="13.6" lengthAdjust="spacingAndGlyphs">S6</text>
<line x1="1194.0" y1="1487.4" x2="1194.0" y2="1481.4" stroke="#2a3690" stroke-width="2"/>
<text transform="translate(1198.8,1508.0) rotate(-90)" font-family="Liberation Mono" font-size="16.8" fill="#2a3690" stroke="#2a3690" stroke-width="0.1" textLength="13.6" lengthAdjust="spacingAndGlyphs">S8</text>
<text transform="translate(749.9,1420.8) rotate(-90)" font-family="Liberation Mono" font-size="21.6" fill="#2a3690" stroke="#2a3690" stroke-width="0.2" textLength="161.3" lengthAdjust="spacingAndGlyphs">Z-Score of Log2 Exp</text>
<text transform="translate(1395.0,1437.6) rotate(-90)" font-family="Liberation Mono" font-size="21.6" fill="#2a3690" stroke="#2a3690" stroke-width="0.2" textLength="194.8" lengthAdjust="spacingAndGlyphs">Z-Score of %Methylation</text>
<text x="867.2" y="1218.2" font-family="Liberation Sans" font-weight="bold" font-size="26.6" stroke="#000" stroke-width="0.5" textLength="405.4" lengthAdjust="spacingAndGlyphs">CHH Cluster 8, Mean PCC: -0.974</text>
<polyline points="934.5,1274.4 1063.6,1321.3 1193.8,1418.8" fill="none" stroke="#e25a45" stroke-width="1.4"/>
<polyline points="934.5,1406.2 1063.6,1343.0 1193.8,1264.6" fill="none" stroke="#55d855" stroke-width="1.6"/>
<rect x="79" y="1583.5" width="518.5" height="296.7" fill="none" stroke="#2a3690" stroke-width="1.7"/>
<text x="69.3" y="1586.4" font-family="Liberation Mono" font-weight="bold" font-size="11.6" fill="#2a3690" stroke="#2a3690" stroke-width="0.25" text-anchor="end" textLength="8.8" lengthAdjust="spacingAndGlyphs">2</text>
<text x="604.5" y="1586.4" font-family="Liberation Mono" font-weight="bold" font-size="11.6" fill="#2a3690" stroke="#2a3690" stroke-width="0.25" text-anchor="start" textLength="8.8" lengthAdjust="spacingAndGlyphs">2</text>
<line x1="79" y1="1613.2" x2="87" y2="1613.2" stroke="#2a3690" stroke-width="1.7"/>
<line x1="589.5" y1="1613.2" x2="597.5" y2="1613.2" stroke="#2a3690" stroke-width="1.7"/>
<line x1="79" y1="1642.8" x2="87" y2="1642.8" stroke="#2a3690" stroke-width="1.7"/>
<line x1="589.5" y1="1642.8" x2="597.5" y2="1642.8" stroke="#2a3690" stroke-width="1.7"/>
<text x="69.3" y="1645.7" font-family="Liberation Mono" font-weight="bold" font-size="11.6" fill="#2a3690" stroke="#2a3690" stroke-width="0.25" text-anchor="end" textLength="26.4" lengthAdjust="spacingAndGlyphs">1.2</text>
<text x="604.5" y="1645.7" font-family="Liberation Mono" font-weight="bold" font-size="11.6" fill="#2a3690" stroke="#2a3690" stroke-width="0.25" text-anchor="start" textLength="26.4" lengthAdjust="spacingAndGlyphs">1.2</text>
<line x1="79" y1="1672.5" x2="87" y2="1672.5" stroke="#2a3690" stroke-width="1.7"/>
<line x1="589.5" y1="1672.5" x2="597.5" y2="1672.5" stroke="#2a3690" stroke-width="1.7"/>
<line x1="79" y1="1702.2" x2="87" y2="1702.2" stroke="#2a3690" stroke-width="1.7"/>
<line x1="589.5" y1="1702.2" x2="597.5" y2="1702.2" stroke="#2a3690" stroke-width="1.7"/>
<text x="69.3" y="1705.1" font-family="Liberation Mono" font-weight="bold" font-size="11.6" fill="#2a3690" stroke="#2a3690" stroke-width="0.25" text-anchor="end" textLength="26.4" lengthAdjust="spacingAndGlyphs">0.4</text>
<text x="604.5" y="1705.1" font-family="Liberation Mono" font-weight="bold" font-size="11.6" fill="#2a3690" stroke="#2a3690" stroke-width="0.25" text-anchor="start" textLength="26.4" lengthAdjust="spacingAndGlyphs">0.4</text>
<line x1="79" y1="1731.8" x2="87" y2="1731.8" stroke="#2a3690" stroke-width="1.7"/>
<line x1="589.5" y1="1731.8" x2="597.5" y2="1731.8" stroke="#2a3690" stroke-width="1.7"/>
<line x1="79" y1="1761.5" x2="87" y2="1761.5" stroke="#2a3690" stroke-width="1.7"/>
<line x1="589.5" y1="1761.5" x2="597.5" y2="1761.5" stroke="#2a3690" stroke-width="1.7"/>
<text x="69.3" y="1764.4" font-family="Liberation Mono" font-weight="bold" font-size="11.6" fill="#2a3690" stroke="#2a3690" stroke-width="0.25" text-anchor="end" textLength="35.2" lengthAdjust="spacingAndGlyphs">-0.4</text>
<text x="604.5" y="1764.4" font-family="Liberation Mono" font-weight="bold" font-size="11.6" fill="#2a3690" stroke="#2a3690" stroke-width="0.25" text-anchor="start" textLength="35.2" lengthAdjust="spacingAndGlyphs">-0.4</text>
<line x1="79" y1="1791.2" x2="87" y2="1791.2" stroke="#2a3690" stroke-width="1.7"/>
<line x1="589.5" y1="1791.2" x2="597.5" y2="1791.2" stroke="#2a3690" stroke-width="1.7"/>
<line x1="79" y1="1820.9" x2="87" y2="1820.9" stroke="#2a3690" stroke-width="1.7"/>
<line x1="589.5" y1="1820.9" x2="597.5" y2="1820.9" stroke="#2a3690" stroke-width="1.7"/>
<text x="69.3" y="1823.8" font-family="Liberation Mono" font-weight="bold" font-size="11.6" fill="#2a3690" stroke="#2a3690" stroke-width="0.25" text-anchor="end" textLength="35.2" lengthAdjust="spacingAndGlyphs">-1.2</text>
<text x="604.5" y="1823.8" font-family="Liberation Mono" font-weight="bold" font-size="11.6" fill="#2a3690" stroke="#2a3690" stroke-width="0.25" text-anchor="start" textLength="35.2" lengthAdjust="spacingAndGlyphs">-1.2</text>
<line x1="79" y1="1850.5" x2="87" y2="1850.5" stroke="#2a3690" stroke-width="1.7"/>
<line x1="589.5" y1="1850.5" x2="597.5" y2="1850.5" stroke="#2a3690" stroke-width="1.7"/>
<text x="69.3" y="1883.1" font-family="Liberation Mono" font-weight="bold" font-size="11.6" fill="#2a3690" stroke="#2a3690" stroke-width="0.25" text-anchor="end" textLength="17.6" lengthAdjust="spacingAndGlyphs">-2</text>
<text x="604.5" y="1883.1" font-family="Liberation Mono" font-weight="bold" font-size="11.6" fill="#2a3690" stroke="#2a3690" stroke-width="0.25" text-anchor="start" textLength="17.6" lengthAdjust="spacingAndGlyphs">-2</text>
<line x1="208.6" y1="1880.2" x2="208.6" y2="1874.2" stroke="#2a3690" stroke-width="2"/>
<text transform="translate(213.4,1900.8) rotate(-90)" font-family="Liberation Mono" font-size="16.8" fill="#2a3690" stroke="#2a3690" stroke-width="0.1" textLength="13.6" lengthAdjust="spacingAndGlyphs">S2</text>
<line x1="338.2" y1="1880.2" x2="338.2" y2="1874.2" stroke="#2a3690" stroke-width="2"/>
<text transform="translate(343.1,1900.8) rotate(-90)" font-family="Liberation Mono" font-size="16.8" fill="#2a3690" stroke="#2a3690" stroke-width="0.1" textLength="13.6" lengthAdjust="spacingAndGlyphs">S6</text>
<line x1="467.9" y1="1880.2" x2="467.9" y2="1874.2" stroke="#2a3690" stroke-width="2"/>
<text transform="translate(472.7,1900.8) rotate(-90)" font-family="Liberation Mono" font-size="16.8" fill="#2a3690" stroke="#2a3690" stroke-width="0.1" textLength="13.6" lengthAdjust="spacingAndGlyphs">S8</text>
<text transform="translate(23.8,1813.5) rotate(-90)" font-family="Liberation Mono" font-size="21.6" fill="#2a3690" stroke="#2a3690" stroke-width="0.2" textLength="161.3" lengthAdjust="spacingAndGlyphs">Z-Score of Log2 Exp</text>
<text transform="translate(668.7,1830.4) rotate(-90)" font-family="Liberation Mono" font-size="21.6" fill="#2a3690" stroke="#2a3690" stroke-width="0.2" textLength="195.0" lengthAdjust="spacingAndGlyphs">Z-Score of %Methylation</text>
<text x="131.1" y="1612.7" font-family="Liberation Sans" font-weight="bold" font-size="26.6" stroke="#000" stroke-width="0.5" textLength="402.8" lengthAdjust="spacingAndGlyphs">CHG Cluster 1, Mean PCC: -0.975</text>
<polyline points="208.1,1792.2 338.3,1748.0 468.0,1650.3" fill="none" stroke="#e25a45" stroke-width="1.4"/>
<polyline points="208.1,1687.0 273.2,1687.0 273.2,1688.0 338.3,1688.0 468.0,1814.8" fill="none" stroke="#55d855" stroke-width="1.6"/>
<rect x="798.9" y="1582.7" width="518.2" height="296.7" fill="none" stroke="#2a3690" stroke-width="1.7"/>
<text x="789.2" y="1585.6" font-family="Liberation Mono" font-weight="bold" font-size="11.6" fill="#2a3690" stroke="#2a3690" stroke-width="0.25" text-anchor="end" textLength="8.8" lengthAdjust="spacingAndGlyphs">2</text>
<text x="1324.1" y="1585.6" font-family="Liberation Mono" font-weight="bold" font-size="11.6" fill="#2a3690" stroke="#2a3690" stroke-width="0.25" text-anchor="start" textLength="8.8" lengthAdjust="spacingAndGlyphs">2</text>
<line x1="798.9" y1="1612.4" x2="806.9" y2="1612.4" stroke="#2a3690" stroke-width="1.7"/>
<line x1="1309.1" y1="1612.4" x2="1317.1" y2="1612.4" stroke="#2a3690" stroke-width="1.7"/>
<line x1="798.9" y1="1642.0" x2="806.9" y2="1642.0" stroke="#2a3690" stroke-width="1.7"/>
<line x1="1309.1" y1="1642.0" x2="1317.1" y2="1642.0" stroke="#2a3690" stroke-width="1.7"/>
<text x="789.2" y="1644.9" font-family="Liberation Mono" font-weight="bold" font-size="11.6" fill="#2a3690" stroke="#2a3690" stroke-width="0.25" text-anchor="end" textLength="26.4" lengthAdjust="spacingAndGlyphs">1.2</text>
<text x="1324.1" y="1644.9" font-family="Liberation Mono" font-weight="bold" font-size="11.6" fill="#2a3690" stroke="#2a3690" stroke-width="0.25" text-anchor="start" textLength="26.4" lengthAdjust="spacingAndGlyphs">1.2</text>
<line x1="798.9" y1="1671.7" x2="806.9" y2="1671.7" stroke="#2a3690" stroke-width="1.7"/>
<line x1="1309.1" y1="1671.7" x2="1317.1" y2="1671.7" stroke="#2a3690" stroke-width="1.7"/>
<line x1="798.9" y1="1701.4" x2="806.9" y2="1701.4" stroke="#2a3690" stroke-width="1.7"/>
<line x1="1309.1" y1="1701.4" x2="1317.1" y2="1701.4" stroke="#2a3690" stroke-width="1.7"/>
<text x="789.2" y="1704.3" font-family="Liberation Mono" font-weight="bold" font-size="11.6" fill="#2a3690" stroke="#2a3690" stroke-width="0.25" text-anchor="end" textLength="26.4" lengthAdjust="spacingAndGlyphs">0.4</text>
<text x="1324.1" y="1704.3" font-family="Liberation Mono" font-weight="bold" font-size="11.6" fill="#2a3690" stroke="#2a3690" stroke-width="0.25" text-anchor="start" textLength="26.4" lengthAdjust="spacingAndGlyphs">0.4</text>
<line x1="798.9" y1="1731.1" x2="806.9" y2="1731.1" stroke="#2a3690" stroke-width="1.7"/>
<line x1="1309.1" y1="1731.1" x2="1317.1" y2="1731.1" stroke="#2a3690" stroke-width="1.7"/>
<line x1="798.9" y1="1760.7" x2="806.9" y2="1760.7" stroke="#2a3690" stroke-width="1.7"/>
<line x1="1309.1" y1="1760.7" x2="1317.1" y2="1760.7" stroke="#2a3690" stroke-width="1.7"/>
<text x="789.2" y="1763.6" font-family="Liberation Mono" font-weight="bold" font-size="11.6" fill="#2a3690" stroke="#2a3690" stroke-width="0.25" text-anchor="end" textLength="35.2" lengthAdjust="spacingAndGlyphs">-0.4</text>
<text x="1324.1" y="1763.6" font-family="Liberation Mono" font-weight="bold" font-size="11.6" fill="#2a3690" stroke="#2a3690" stroke-width="0.25" text-anchor="start" textLength="35.2" lengthAdjust="spacingAndGlyphs">-0.4</text>
<line x1="798.9" y1="1790.4" x2="806.9" y2="1790.4" stroke="#2a3690" stroke-width="1.7"/>
<line x1="1309.1" y1="1790.4" x2="1317.1" y2="1790.4" stroke="#2a3690" stroke-width="1.7"/>
<line x1="798.9" y1="1820.1" x2="806.9" y2="1820.1" stroke="#2a3690" stroke-width="1.7"/>
<line x1="1309.1" y1="1820.1" x2="1317.1" y2="1820.1" stroke="#2a3690" stroke-width="1.7"/>
<text x="789.2" y="1823.0" font-family="Liberation Mono" font-weight="bold" font-size="11.6" fill="#2a3690" stroke="#2a3690" stroke-width="0.25" text-anchor="end" textLength="35.2" lengthAdjust="spacingAndGlyphs">-1.2</text>
<text x="1324.1" y="1823.0" font-family="Liberation Mono" font-weight="bold" font-size="11.6" fill="#2a3690" stroke="#2a3690" stroke-width="0.25" text-anchor="start" textLength="35.2" lengthAdjust="spacingAndGlyphs">-1.2</text>
<line x1="798.9" y1="1849.7" x2="806.9" y2="1849.7" stroke="#2a3690" stroke-width="1.7"/>
<line x1="1309.1" y1="1849.7" x2="1317.1" y2="1849.7" stroke="#2a3690" stroke-width="1.7"/>
<text x="789.2" y="1882.3" font-family="Liberation Mono" font-weight="bold" font-size="11.6" fill="#2a3690" stroke="#2a3690" stroke-width="0.25" text-anchor="end" textLength="17.6" lengthAdjust="spacingAndGlyphs">-2</text>
<text x="1324.1" y="1882.3" font-family="Liberation Mono" font-weight="bold" font-size="11.6" fill="#2a3690" stroke="#2a3690" stroke-width="0.25" text-anchor="start" textLength="17.6" lengthAdjust="spacingAndGlyphs">-2</text>
<line x1="928.4" y1="1879.4" x2="928.4" y2="1873.4" stroke="#2a3690" stroke-width="2"/>
<text transform="translate(933.2,1900.0) rotate(-90)" font-family="Liberation Mono" font-size="16.8" fill="#2a3690" stroke="#2a3690" stroke-width="0.1" textLength="13.6" lengthAdjust="spacingAndGlyphs">S2</text>
<line x1="1058.0" y1="1879.4" x2="1058.0" y2="1873.4" stroke="#2a3690" stroke-width="2"/>
<text transform="translate(1062.8,1900.0) rotate(-90)" font-family="Liberation Mono" font-size="16.8" fill="#2a3690" stroke="#2a3690" stroke-width="0.1" textLength="13.6" lengthAdjust="spacingAndGlyphs">S6</text>
<line x1="1187.5" y1="1879.4" x2="1187.5" y2="1873.4" stroke="#2a3690" stroke-width="2"/>
<text transform="translate(1192.3,1900.0) rotate(-90)" font-family="Liberation Mono" font-size="16.8" fill="#2a3690" stroke="#2a3690" stroke-width="0.1" textLength="13.6" lengthAdjust="spacingAndGlyphs">S8</text>
<text transform="translate(743.9,1813.2) rotate(-90)" font-family="Liberation Mono" font-size="21.6" fill="#2a3690" stroke="#2a3690" stroke-width="0.2" textLength="161.3" lengthAdjust="spacingAndGlyphs">Z-Score of Log2 Exp</text>
<text x="850.8" y="1611" font-family="Liberation Sans" font-weight="bold" font-size="26.6" stroke="#000" stroke-width="0.5" textLength="409.0" lengthAdjust="spacingAndGlyphs">CHG Cluster 3, Mean PCC: -0.934</text>
<polyline points="928.1,1671.4 1057.2,1710.4 1188.0,1808.6" fill="none" stroke="#e25a45" stroke-width="1.4"/>
<polyline points="928.1,1794.7 1057.2,1729.0 1188.0,1662.4" fill="none" stroke="#55d855" stroke-width="1.6"/>
<rect x="80.5" y="1974.6" width="518.4" height="296.5" fill="none" stroke="#2a3690" stroke-width="1.7"/>
<text x="70.8" y="1977.5" font-family="Liberation Mono" font-weight="bold" font-size="11.6" fill="#2a3690" stroke="#2a3690" stroke-width="0.25" text-anchor="end" textLength="8.8" lengthAdjust="spacingAndGlyphs">2</text>
<text x="605.9" y="1977.5" font-family="Liberation Mono" font-weight="bold" font-size="11.6" fill="#2a3690" stroke="#2a3690" stroke-width="0.25" text-anchor="start" textLength="8.8" lengthAdjust="spacingAndGlyphs">2</text>
<line x1="80.5" y1="2004.2" x2="88.5" y2="2004.2" stroke="#2a3690" stroke-width="1.7"/>
<line x1="590.9" y1="2004.2" x2="598.9" y2="2004.2" stroke="#2a3690" stroke-width="1.7"/>
<line x1="80.5" y1="2033.9" x2="88.5" y2="2033.9" stroke="#2a3690" stroke-width="1.7"/>
<line x1="590.9" y1="2033.9" x2="598.9" y2="2033.9" stroke="#2a3690" stroke-width="1.7"/>
<text x="70.8" y="2036.8" font-family="Liberation Mono" font-weight="bold" font-size="11.6" fill="#2a3690" stroke="#2a3690" stroke-width="0.25" text-anchor="end" textLength="26.4" lengthAdjust="spacingAndGlyphs">1.2</text>
<text x="605.9" y="2036.8" font-family="Liberation Mono" font-weight="bold" font-size="11.6" fill="#2a3690" stroke="#2a3690" stroke-width="0.25" text-anchor="start" textLength="26.4" lengthAdjust="spacingAndGlyphs">1.2</text>
<line x1="80.5" y1="2063.5" x2="88.5" y2="2063.5" stroke="#2a3690" stroke-width="1.7"/>
<line x1="590.9" y1="2063.5" x2="598.9" y2="2063.5" stroke="#2a3690" stroke-width="1.7"/>
<line x1="80.5" y1="2093.2" x2="88.5" y2="2093.2" stroke="#2a3690" stroke-width="1.7"/>
<line x1="590.9" y1="2093.2" x2="598.9" y2="2093.2" stroke="#2a3690" stroke-width="1.7"/>
<text x="70.8" y="2096.1" font-family="Liberation Mono" font-weight="bold" font-size="11.6" fill="#2a3690" stroke="#2a3690" stroke-width="0.25" text-anchor="end" textLength="26.4" lengthAdjust="spacingAndGlyphs">0.4</text>
<text x="605.9" y="2096.1" font-family="Liberation Mono" font-weight="bold" font-size="11.6" fill="#2a3690" stroke="#2a3690" stroke-width="0.25" text-anchor="start" textLength="26.4" lengthAdjust="spacingAndGlyphs">0.4</text>
<line x1="80.5" y1="2122.8" x2="88.5" y2="2122.8" stroke="#2a3690" stroke-width="1.7"/>
<line x1="590.9" y1="2122.8" x2="598.9" y2="2122.8" stroke="#2a3690" stroke-width="1.7"/>
<line x1="80.5" y1="2152.5" x2="88.5" y2="2152.5" stroke="#2a3690" stroke-width="1.7"/>
<line x1="590.9" y1="2152.5" x2="598.9" y2="2152.5" stroke="#2a3690" stroke-width="1.7"/>
<text x="70.8" y="2155.4" font-family="Liberation Mono" font-weight="bold" font-size="11.6" fill="#2a3690" stroke="#2a3690" stroke-width="0.25" text-anchor="end" textLength="35.2" lengthAdjust="spacingAndGlyphs">-0.4</text>
<text x="605.9" y="2155.4" font-family="Liberation Mono" font-weight="bold" font-size="11.6" fill="#2a3690" stroke="#2a3690" stroke-width="0.25" text-anchor="start" textLength="35.2" lengthAdjust="spacingAndGlyphs">-0.4</text>
<line x1="80.5" y1="2182.2" x2="88.5" y2="2182.2" stroke="#2a3690" stroke-width="1.7"/>
<line x1="590.9" y1="2182.2" x2="598.9" y2="2182.2" stroke="#2a3690" stroke-width="1.7"/>
<line x1="80.5" y1="2211.8" x2="88.5" y2="2211.8" stroke="#2a3690" stroke-width="1.7"/>
<line x1="590.9" y1="2211.8" x2="598.9" y2="2211.8" stroke="#2a3690" stroke-width="1.7"/>
<text x="70.8" y="2214.7" font-family="Liberation Mono" font-weight="bold" font-size="11.6" fill="#2a3690" stroke="#2a3690" stroke-width="0.25" text-anchor="end" textLength="35.2" lengthAdjust="spacingAndGlyphs">-1.2</text>
<text x="605.9" y="2214.7" font-family="Liberation Mono" font-weight="bold" font-size="11.6" fill="#2a3690" stroke="#2a3690" stroke-width="0.25" text-anchor="start" textLength="35.2" lengthAdjust="spacingAndGlyphs">-1.2</text>
<line x1="80.5" y1="2241.4" x2="88.5" y2="2241.4" stroke="#2a3690" stroke-width="1.7"/>
<line x1="590.9" y1="2241.4" x2="598.9" y2="2241.4" stroke="#2a3690" stroke-width="1.7"/>
<text x="70.8" y="2274.0" font-family="Liberation Mono" font-weight="bold" font-size="11.6" fill="#2a3690" stroke="#2a3690" stroke-width="0.25" text-anchor="end" textLength="17.6" lengthAdjust="spacingAndGlyphs">-2</text>
<text x="605.9" y="2274.0" font-family="Liberation Mono" font-weight="bold" font-size="11.6" fill="#2a3690" stroke="#2a3690" stroke-width="0.25" text-anchor="start" textLength="17.6" lengthAdjust="spacingAndGlyphs">-2</text>
<line x1="210.1" y1="2271.1" x2="210.1" y2="2265.1" stroke="#2a3690" stroke-width="2"/>
<text transform="translate(214.9,2291.7) rotate(-90)" font-family="Liberation Mono" font-size="16.8" fill="#2a3690" stroke="#2a3690" stroke-width="0.1" textLength="13.6" lengthAdjust="spacingAndGlyphs">S2</text>
<line x1="339.7" y1="2271.1" x2="339.7" y2="2265.1" stroke="#2a3690" stroke-width="2"/>
<text transform="translate(344.5,2291.7) rotate(-90)" font-family="Liberation Mono" font-size="16.8" fill="#2a3690" stroke="#2a3690" stroke-width="0.1" textLength="13.6" lengthAdjust="spacingAndGlyphs">S6</text>
<line x1="469.3" y1="2271.1" x2="469.3" y2="2265.1" stroke="#2a3690" stroke-width="2"/>
<text transform="translate(474.1,2291.7) rotate(-90)" font-family="Liberation Mono" font-size="16.8" fill="#2a3690" stroke="#2a3690" stroke-width="0.1" textLength="13.6" lengthAdjust="spacingAndGlyphs">S8</text>
<text transform="translate(25.6,2204.3) rotate(-90)" font-family="Liberation Mono" font-size="21.6" fill="#2a3690" stroke="#2a3690" stroke-width="0.2" textLength="161.3" lengthAdjust="spacingAndGlyphs">Z-Score of Log2 Exp</text>
<text x="146.0" y="2001" font-family="Liberation Sans" font-weight="bold" font-size="26.6" stroke="#000" stroke-width="0.5" textLength="389.3" lengthAdjust="spacingAndGlyphs">CG Cluster 1, Mean PCC: -0.968</text>
<polyline points="210.3,2168.9 339.3,2157.6 469.5,2037.1" fill="none" stroke="#e25a45" stroke-width="1.4"/>
<polyline points="210.3,2075.0 339.3,2083.2 469.5,2203.9" fill="none" stroke="#55d855" stroke-width="1.6"/>
<rect x="799.4" y="1973.7" width="517.7" height="297.1" fill="none" stroke="#2a3690" stroke-width="1.7"/>
<text x="789.7" y="1976.6" font-family="Liberation Mono" font-weight="bold" font-size="11.6" fill="#2a3690" stroke="#2a3690" stroke-width="0.25" text-anchor="end" textLength="8.8" lengthAdjust="spacingAndGlyphs">2</text>
<text x="1324.1" y="1976.6" font-family="Liberation Mono" font-weight="bold" font-size="11.6" fill="#2a3690" stroke="#2a3690" stroke-width="0.25" text-anchor="start" textLength="8.8" lengthAdjust="spacingAndGlyphs">2</text>
<line x1="799.4" y1="2003.4" x2="807.4" y2="2003.4" stroke="#2a3690" stroke-width="1.7"/>
<line x1="1309.1" y1="2003.4" x2="1317.1" y2="2003.4" stroke="#2a3690" stroke-width="1.7"/>
<line x1="799.4" y1="2033.1" x2="807.4" y2="2033.1" stroke="#2a3690" stroke-width="1.7"/>
<line x1="1309.1" y1="2033.1" x2="1317.1" y2="2033.1" stroke="#2a3690" stroke-width="1.7"/>
<text x="789.7" y="2036.0" font-family="Liberation Mono" font-weight="bold" font-size="11.6" fill="#2a3690" stroke="#2a3690" stroke-width="0.25" text-anchor="end" textLength="26.4" lengthAdjust="spacingAndGlyphs">1.2</text>
<text x="1324.1" y="2036.0" font-family="Liberation Mono" font-weight="bold" font-size="11.6" fill="#2a3690" stroke="#2a3690" stroke-width="0.25" text-anchor="start" textLength="26.4" lengthAdjust="spacingAndGlyphs">1.2</text>
<line x1="799.4" y1="2062.8" x2="807.4" y2="2062.8" stroke="#2a3690" stroke-width="1.7"/>
<line x1="1309.1" y1="2062.8" x2="1317.1" y2="2062.8" stroke="#2a3690" stroke-width="1.7"/>
<line x1="799.4" y1="2092.5" x2="807.4" y2="2092.5" stroke="#2a3690" stroke-width="1.7"/>
<line x1="1309.1" y1="2092.5" x2="1317.1" y2="2092.5" stroke="#2a3690" stroke-width="1.7"/>
<text x="789.7" y="2095.4" font-family="Liberation Mono" font-weight="bold" font-size="11.6" fill="#2a3690" stroke="#2a3690" stroke-width="0.25" text-anchor="end" textLength="26.4" lengthAdjust="spacingAndGlyphs">0.4</text>
<text x="1324.1" y="2095.4" font-family="Liberation Mono" font-weight="bold" font-size="11.6" fill="#2a3690" stroke="#2a3690" stroke-width="0.25" text-anchor="start" textLength="26.4" lengthAdjust="spacingAndGlyphs">0.4</text>
<line x1="799.4" y1="2122.2" x2="807.4" y2="2122.2" stroke="#2a3690" stroke-width="1.7"/>
<line x1="1309.1" y1="2122.2" x2="1317.1" y2="2122.2" stroke="#2a3690" stroke-width="1.7"/>
<line x1="799.4" y1="2152.0" x2="807.4" y2="2152.0" stroke="#2a3690" stroke-width="1.7"/>
<line x1="1309.1" y1="2152.0" x2="1317.1" y2="2152.0" stroke="#2a3690" stroke-width="1.7"/>
<text x="789.7" y="2154.9" font-family="Liberation Mono" font-weight="bold" font-size="11.6" fill="#2a3690" stroke="#2a3690" stroke-width="0.25" text-anchor="end" textLength="35.2" lengthAdjust="spacingAndGlyphs">-0.4</text>
<text x="1324.1" y="2154.9" font-family="Liberation Mono" font-weight="bold" font-size="11.6" fill="#2a3690" stroke="#2a3690" stroke-width="0.25" text-anchor="start" textLength="35.2" lengthAdjust="spacingAndGlyphs">-0.4</text>
<line x1="799.4" y1="2181.7" x2="807.4" y2="2181.7" stroke="#2a3690" stroke-width="1.7"/>
<line x1="1309.1" y1="2181.7" x2="1317.1" y2="2181.7" stroke="#2a3690" stroke-width="1.7"/>
<line x1="799.4" y1="2211.4" x2="807.4" y2="2211.4" stroke="#2a3690" stroke-width="1.7"/>
<line x1="1309.1" y1="2211.4" x2="1317.1" y2="2211.4" stroke="#2a3690" stroke-width="1.7"/>
<text x="789.7" y="2214.3" font-family="Liberation Mono" font-weight="bold" font-size="11.6" fill="#2a3690" stroke="#2a3690" stroke-width="0.25" text-anchor="end" textLength="35.2" lengthAdjust="spacingAndGlyphs">-1.2</text>
<text x="1324.1" y="2214.3" font-family="Liberation Mono" font-weight="bold" font-size="11.6" fill="#2a3690" stroke="#2a3690" stroke-width="0.25" text-anchor="start" textLength="35.2" lengthAdjust="spacingAndGlyphs">-1.2</text>
<line x1="799.4" y1="2241.1" x2="807.4" y2="2241.1" stroke="#2a3690" stroke-width="1.7"/>
<line x1="1309.1" y1="2241.1" x2="1317.1" y2="2241.1" stroke="#2a3690" stroke-width="1.7"/>
<text x="789.7" y="2273.7" font-family="Liberation Mono" font-weight="bold" font-size="11.6" fill="#2a3690" stroke="#2a3690" stroke-width="0.25" text-anchor="end" textLength="17.6" lengthAdjust="spacingAndGlyphs">-2</text>
<text x="1324.1" y="2273.7" font-family="Liberation Mono" font-weight="bold" font-size="11.6" fill="#2a3690" stroke="#2a3690" stroke-width="0.25" text-anchor="start" textLength="17.6" lengthAdjust="spacingAndGlyphs">-2</text>
<line x1="928.8" y1="2270.8" x2="928.8" y2="2264.8" stroke="#2a3690" stroke-width="2"/>
<text transform="translate(933.6,2291.4) rotate(-90)" font-family="Liberation Mono" font-size="16.8" fill="#2a3690" stroke="#2a3690" stroke-width="0.1" textLength="13.6" lengthAdjust="spacingAndGlyphs">S2</text>
<line x1="1058.2" y1="2270.8" x2="1058.2" y2="2264.8" stroke="#2a3690" stroke-width="2"/>
<text transform="translate(1063.0,2291.4) rotate(-90)" font-family="Liberation Mono" font-size="16.8" fill="#2a3690" stroke="#2a3690" stroke-width="0.1" textLength="13.6" lengthAdjust="spacingAndGlyphs">S6</text>
<line x1="1187.7" y1="2270.8" x2="1187.7" y2="2264.8" stroke="#2a3690" stroke-width="2"/>
<text transform="translate(1192.5,2291.4) rotate(-90)" font-family="Liberation Mono" font-size="16.8" fill="#2a3690" stroke="#2a3690" stroke-width="0.1" textLength="13.6" lengthAdjust="spacingAndGlyphs">S8</text>
<text transform="translate(744.4,2204.2) rotate(-90)" font-family="Liberation Mono" font-size="21.6" fill="#2a3690" stroke="#2a3690" stroke-width="0.2" textLength="161.3" lengthAdjust="spacingAndGlyphs">Z-Score of Log2 Exp</text>
<text transform="translate(1389.3,2221.0) rotate(-90)" font-family="Liberation Mono" font-size="21.6" fill="#2a3690" stroke="#2a3690" stroke-width="0.2" textLength="194.8" lengthAdjust="spacingAndGlyphs">Z-Score of %Methylation</text>
<text x="862.9" y="2001" font-family="Liberation Sans" font-weight="bold" font-size="26.6" stroke="#000" stroke-width="0.5" textLength="390.8" lengthAdjust="spacingAndGlyphs">CG Cluster 2, Mean PCC: -0.944</text>
<polyline points="928.8,2081.8 1057.9,2081.8 1188.4,2201.1" fill="none" stroke="#e25a45" stroke-width="1.4"/>
<polyline points="928.8,2162.3 1057.9,2154.8 1188.4,2046.6" fill="none" stroke="#55d855" stroke-width="1.6"/>
</svg></body></html>
